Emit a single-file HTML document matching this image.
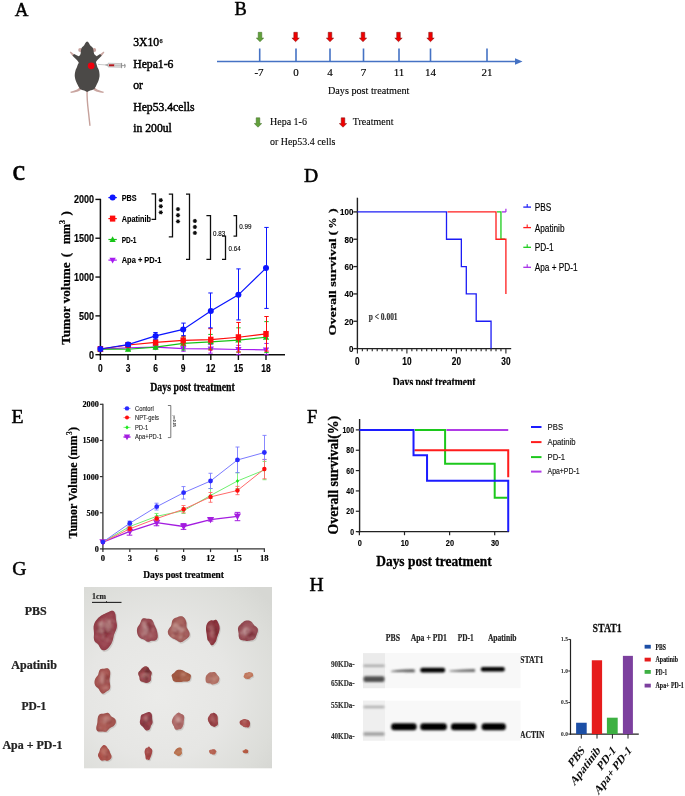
<!DOCTYPE html>
<html><head><meta charset="utf-8">
<style>
html,body{margin:0;padding:0;background:#fff;width:685px;height:796px;overflow:hidden;}
svg{display:block;position:absolute;left:0;top:0;}
</style></head><body>
<svg width="685" height="796" viewBox="0 0 685 796">
<defs><filter id="soft" x="0" y="0" width="100%" height="100%" filterUnits="userSpaceOnUse"><feGaussianBlur stdDeviation="0.4"/></filter></defs>
<g filter="url(#soft)">
<rect x="0" y="0" width="685" height="796" fill="#fff"/>
<text transform="translate(14.70,15.80)" text-anchor="start" style="font-family:'Liberation Serif',serif;font-weight:normal;font-style:normal;font-size:19px" fill="#000"  stroke="#000" stroke-width="0.45">A</text>
<g id="mouse">
<path d="M87.1 91 C86.8 100 88 108 88.7 114 C89.2 119 89.6 122 89.9 125.2" stroke="#c6a19b" stroke-width="1.4" fill="none" stroke-linecap="round"/>
<circle cx="80.2" cy="50" r="2" fill="#c9a5a0"/>
<circle cx="94.2" cy="50" r="2" fill="#c9a5a0"/>
<path d="M80 87.3 L77 89.4 L73 90.9 L70.4 91.8 L70.8 93.1 L74 92.6 L78 91.4 L80.8 90 Z" fill="#c9a5a0"/>
<path d="M94.2 87.3 L97.2 89.4 L101.2 90.9 L103.8 91.8 L103.4 93.1 L100.2 92.6 L96.2 91.4 L93.4 90 Z" fill="#c9a5a0"/>
<path d="M74.4 54.6 L71.6 52.2 L70.2 51.4 L69.9 52.6 L71 54 L72.8 56.2 Z" fill="#c9a5a0"/>
<path d="M99.8 54.6 L102.6 52.2 L104 51.4 L104.3 52.6 L103.2 54 L101.4 56.2 Z" fill="#c9a5a0"/>
<path d="M87.1 41.5 C88.5 42 89.5 44 90.1 45.3 C91.5 46.5 93 47.5 93.3 49.5 C93.8 51.5 93.8 52.8 94.1 53.7 C95 55 96 55.8 96.6 56.2 L100.1 54.1 L101.7 55.8 L97.4 59.9 C96.5 61 95.9 61.8 95.9 62.1 C96.5 64 97 65.5 97.4 67.2 C98.5 69 99.2 70.5 99.3 72.3 C99.6 74 99.6 75.5 99.5 76.6 C99.2 78.5 98.8 80 98.4 81 C97.8 82.5 97.2 83.8 96.6 84.7 C96 86 95.5 87 95.2 87.6 L94.4 89 C93 89.8 91.5 90.2 90.1 90.5 C89 91 88 91.5 87.1 92 C86.2 91.5 85.2 91 84.2 90.5 C82.8 90.2 81.3 89.8 79.9 89 L79.1 87.6 C78.7 87 78.3 86 77.6 84.7 C77 83.8 76.4 82.5 75.9 81 C75.4 80 75 78.5 74.8 76.6 C74.7 75.5 74.7 74 75.1 72.3 C75.3 70.5 75.9 69 76.9 67.2 C77.4 65.5 78 64 78.8 62.8 C78.5 62 77.8 61 76.9 59.9 L72.5 55.8 L74.1 54.1 L78.6 56.2 C79.8 55.5 80.3 54.8 80.6 53.7 C80.8 52.8 80.8 51.5 81.1 49.5 C81.5 47.5 83 46.5 84.2 45.3 C84.8 44 85.8 42 87.1 41.5 Z" fill="#4c4946"/>
<circle cx="91.2" cy="65.8" r="3.4" fill="#ee0010"/>
<line x1="98" y1="64.4" x2="105.5" y2="64.9" stroke="#888" stroke-width="0.45"/>
<path d="M105.3 64.3 L108.2 63.9 L108.2 66.3 L105.3 65.6 Z" fill="#aaa"/>
<path d="M108.1 63.2 L121.2 63.6 L121.2 67.3 L108.1 67 Z" fill="#e6e6e6" stroke="#9a9a9a" stroke-width="0.5"/>
<rect x="108.9" y="64.3" width="5.5" height="2" fill="#b3171c"/>
<rect x="114.4" y="64.6" width="6.6" height="1.7" fill="#c4c4c4"/>
<line x1="121.6" y1="62.9" x2="121.6" y2="68.2" stroke="#777" stroke-width="0.8"/>
<line x1="121.6" y1="65.6" x2="125" y2="65.6" stroke="#888" stroke-width="0.8"/>
<path d="M124.6 63.9 Q125.8 65.8 124.6 67.8" stroke="#777" stroke-width="0.9" fill="none"/>
</g>
<text transform="translate(133.20,45.90)" text-anchor="start" style="font-family:'Liberation Serif',serif;font-weight:normal;font-style:normal;font-size:11.7px" fill="#000"  stroke="#000" stroke-width="0.45">3X10</text>
<text transform="translate(159.50,43.00)" text-anchor="start" style="font-family:'Liberation Serif',serif;font-weight:normal;font-style:normal;font-size:6.2px" fill="#000"  stroke="#000" stroke-width="0.25">6</text>
<text transform="translate(133.20,67.80)" text-anchor="start" style="font-family:'Liberation Serif',serif;font-weight:normal;font-style:normal;font-size:11.7px" fill="#000"  stroke="#000" stroke-width="0.45">Hepa1-6</text>
<text transform="translate(133.20,89.30)" text-anchor="start" style="font-family:'Liberation Serif',serif;font-weight:normal;font-style:normal;font-size:11.7px" fill="#000"  stroke="#000" stroke-width="0.45">or</text>
<text transform="translate(133.20,110.70)" text-anchor="start" style="font-family:'Liberation Serif',serif;font-weight:normal;font-style:normal;font-size:11.7px" fill="#000"  stroke="#000" stroke-width="0.45">Hep53.4cells</text>
<text transform="translate(133.20,132.20)" text-anchor="start" style="font-family:'Liberation Serif',serif;font-weight:normal;font-style:normal;font-size:11.7px" fill="#000"  stroke="#000" stroke-width="0.45">in 200ul</text>
<text transform="translate(234.50,14.90)" text-anchor="start" style="font-family:'Liberation Serif',serif;font-weight:normal;font-style:normal;font-size:18.4px" fill="#000"  stroke="#000" stroke-width="0.45">B</text>
<line x1="217.00" y1="61.50" x2="517.00" y2="61.50" stroke="#4472c4" stroke-width="1.7" />
<line x1="259.70" y1="48.50" x2="259.70" y2="61.50" stroke="#4472c4" stroke-width="1.6" />
<line x1="296.00" y1="48.50" x2="296.00" y2="61.50" stroke="#4472c4" stroke-width="1.6" />
<line x1="330.00" y1="48.50" x2="330.00" y2="61.50" stroke="#4472c4" stroke-width="1.6" />
<line x1="363.50" y1="48.50" x2="363.50" y2="61.50" stroke="#4472c4" stroke-width="1.6" />
<line x1="399.00" y1="48.50" x2="399.00" y2="61.50" stroke="#4472c4" stroke-width="1.6" />
<line x1="430.50" y1="48.50" x2="430.50" y2="61.50" stroke="#4472c4" stroke-width="1.6" />
<line x1="487.00" y1="48.50" x2="487.00" y2="61.50" stroke="#4472c4" stroke-width="1.6" />
<path d="M515 58.2 L522.5 61.5 L515 64.8 Z" fill="#4472c4"/>
<path transform="translate(260,32.3)" d="M-1.8 0 L1.8 0 L1.8 5.8 L3.7 5.8 L0 9.4 L-3.7 5.8 L-1.8 5.8 Z" fill="#62a03a" stroke="#3d6b24" stroke-width="0.5"/>
<path transform="translate(295.6,32.3)" d="M-1.8 0 L1.8 0 L1.8 5.8 L3.7 5.8 L0 9.4 L-3.7 5.8 L-1.8 5.8 Z" fill="#f00000" stroke="#7a1010" stroke-width="0.5"/>
<path transform="translate(330,32.3)" d="M-1.8 0 L1.8 0 L1.8 5.8 L3.7 5.8 L0 9.4 L-3.7 5.8 L-1.8 5.8 Z" fill="#f00000" stroke="#7a1010" stroke-width="0.5"/>
<path transform="translate(363,32.3)" d="M-1.8 0 L1.8 0 L1.8 5.8 L3.7 5.8 L0 9.4 L-3.7 5.8 L-1.8 5.8 Z" fill="#f00000" stroke="#7a1010" stroke-width="0.5"/>
<path transform="translate(398.5,32.3)" d="M-1.8 0 L1.8 0 L1.8 5.8 L3.7 5.8 L0 9.4 L-3.7 5.8 L-1.8 5.8 Z" fill="#f00000" stroke="#7a1010" stroke-width="0.5"/>
<path transform="translate(430.5,32.3)" d="M-1.8 0 L1.8 0 L1.8 5.8 L3.7 5.8 L0 9.4 L-3.7 5.8 L-1.8 5.8 Z" fill="#f00000" stroke="#7a1010" stroke-width="0.5"/>
<text transform="translate(259.00,75.70)" text-anchor="middle" style="font-family:'Liberation Serif',serif;font-weight:normal;font-style:normal;font-size:11px" fill="#000"  stroke="#000" stroke-width="0.15">-7</text>
<text transform="translate(296.00,75.70)" text-anchor="middle" style="font-family:'Liberation Serif',serif;font-weight:normal;font-style:normal;font-size:11px" fill="#000"  stroke="#000" stroke-width="0.15">0</text>
<text transform="translate(330.00,75.70)" text-anchor="middle" style="font-family:'Liberation Serif',serif;font-weight:normal;font-style:normal;font-size:11px" fill="#000"  stroke="#000" stroke-width="0.15">4</text>
<text transform="translate(363.50,75.70)" text-anchor="middle" style="font-family:'Liberation Serif',serif;font-weight:normal;font-style:normal;font-size:11px" fill="#000"  stroke="#000" stroke-width="0.15">7</text>
<text transform="translate(399.00,75.70)" text-anchor="middle" style="font-family:'Liberation Serif',serif;font-weight:normal;font-style:normal;font-size:11px" fill="#000"  stroke="#000" stroke-width="0.15">11</text>
<text transform="translate(430.50,75.70)" text-anchor="middle" style="font-family:'Liberation Serif',serif;font-weight:normal;font-style:normal;font-size:11px" fill="#000"  stroke="#000" stroke-width="0.15">14</text>
<text transform="translate(487.00,75.70)" text-anchor="middle" style="font-family:'Liberation Serif',serif;font-weight:normal;font-style:normal;font-size:11px" fill="#000"  stroke="#000" stroke-width="0.15">21</text>
<text transform="translate(328.00,94.00) scale(0.9693,1.0000)" text-anchor="start" style="font-family:'Liberation Serif',serif;font-weight:normal;font-style:normal;font-size:10.5px" fill="#000"  stroke="#000" stroke-width="0.12">Days post treatment</text>
<path transform="translate(258,117.8)" d="M-1.8 0 L1.8 0 L1.8 5.8 L3.7 5.8 L0 9.4 L-3.7 5.8 L-1.8 5.8 Z" fill="#62a03a" stroke="#3d6b24" stroke-width="0.5"/>
<path transform="translate(343,117.8)" d="M-1.8 0 L1.8 0 L1.8 5.8 L3.7 5.8 L0 9.4 L-3.7 5.8 L-1.8 5.8 Z" fill="#f00000" stroke="#7a1010" stroke-width="0.5"/>
<text transform="translate(270.00,125.30) scale(0.9542,1.0000)" text-anchor="start" style="font-family:'Liberation Serif',serif;font-weight:normal;font-style:normal;font-size:10.5px" fill="#000"  stroke="#000" stroke-width="0.1">Hepa 1-6</text>
<text transform="translate(352.80,125.30) scale(0.9515,1.0000)" text-anchor="start" style="font-family:'Liberation Serif',serif;font-weight:normal;font-style:normal;font-size:10.5px" fill="#000"  stroke="#000" stroke-width="0.1">Treatment</text>
<text transform="translate(270.00,144.70) scale(0.9478,1.0000)" text-anchor="start" style="font-family:'Liberation Serif',serif;font-weight:normal;font-style:normal;font-size:10.5px" fill="#000"  stroke="#000" stroke-width="0.1">or Hep53.4 cells</text>
<text transform="translate(12.40,179.50)" text-anchor="start" style="font-family:'Liberation Serif',serif;font-weight:normal;font-style:normal;font-size:28.5px" fill="#000"  stroke="#000" stroke-width="0.6">c</text>
<line x1="100.40" y1="198.80" x2="100.40" y2="355.40" stroke="#111" stroke-width="1.5" />
<line x1="99.70" y1="354.70" x2="285.00" y2="354.70" stroke="#111" stroke-width="1.5" />
<line x1="95.40" y1="354.70" x2="100.40" y2="354.70" stroke="#111" stroke-width="1.4" />
<text transform="translate(94.10,358.70) scale(0.8481,1.0000)" text-anchor="end" style="font-family:'Liberation Sans',sans-serif;font-weight:bold;font-style:normal;font-size:10.6px" fill="#000"  stroke="#000" stroke-width="0.159">0</text>
<line x1="95.40" y1="315.88" x2="100.40" y2="315.88" stroke="#111" stroke-width="1.4" />
<text transform="translate(94.10,319.88) scale(0.8481,1.0000)" text-anchor="end" style="font-family:'Liberation Sans',sans-serif;font-weight:bold;font-style:normal;font-size:10.6px" fill="#000"  stroke="#000" stroke-width="0.159">500</text>
<line x1="95.40" y1="277.05" x2="100.40" y2="277.05" stroke="#111" stroke-width="1.4" />
<text transform="translate(94.10,281.05) scale(0.8481,1.0000)" text-anchor="end" style="font-family:'Liberation Sans',sans-serif;font-weight:bold;font-style:normal;font-size:10.6px" fill="#000"  stroke="#000" stroke-width="0.159">1000</text>
<line x1="95.40" y1="238.22" x2="100.40" y2="238.22" stroke="#111" stroke-width="1.4" />
<text transform="translate(94.10,242.22) scale(0.8481,1.0000)" text-anchor="end" style="font-family:'Liberation Sans',sans-serif;font-weight:bold;font-style:normal;font-size:10.6px" fill="#000"  stroke="#000" stroke-width="0.159">1500</text>
<line x1="95.40" y1="199.40" x2="100.40" y2="199.40" stroke="#111" stroke-width="1.4" />
<text transform="translate(94.10,203.40) scale(0.8481,1.0000)" text-anchor="end" style="font-family:'Liberation Sans',sans-serif;font-weight:bold;font-style:normal;font-size:10.6px" fill="#000"  stroke="#000" stroke-width="0.159">2000</text>
<line x1="100.40" y1="354.70" x2="100.40" y2="360.00" stroke="#111" stroke-width="1.4" />
<text transform="translate(100.40,372.30) scale(0.8285,1.0000)" text-anchor="middle" style="font-family:'Liberation Sans',sans-serif;font-weight:bold;font-style:normal;font-size:10.2px" fill="#000"  stroke="#000" stroke-width="0.153">0</text>
<line x1="128.00" y1="354.70" x2="128.00" y2="360.00" stroke="#111" stroke-width="1.4" />
<text transform="translate(128.00,372.30) scale(0.8285,1.0000)" text-anchor="middle" style="font-family:'Liberation Sans',sans-serif;font-weight:bold;font-style:normal;font-size:10.2px" fill="#000"  stroke="#000" stroke-width="0.153">3</text>
<line x1="155.60" y1="354.70" x2="155.60" y2="360.00" stroke="#111" stroke-width="1.4" />
<text transform="translate(155.60,372.30) scale(0.8285,1.0000)" text-anchor="middle" style="font-family:'Liberation Sans',sans-serif;font-weight:bold;font-style:normal;font-size:10.2px" fill="#000"  stroke="#000" stroke-width="0.153">6</text>
<line x1="183.20" y1="354.70" x2="183.20" y2="360.00" stroke="#111" stroke-width="1.4" />
<text transform="translate(183.20,372.30) scale(0.8285,1.0000)" text-anchor="middle" style="font-family:'Liberation Sans',sans-serif;font-weight:bold;font-style:normal;font-size:10.2px" fill="#000"  stroke="#000" stroke-width="0.153">9</text>
<line x1="210.80" y1="354.70" x2="210.80" y2="360.00" stroke="#111" stroke-width="1.4" />
<text transform="translate(210.80,372.30) scale(0.8285,1.0000)" text-anchor="middle" style="font-family:'Liberation Sans',sans-serif;font-weight:bold;font-style:normal;font-size:10.2px" fill="#000"  stroke="#000" stroke-width="0.153">12</text>
<line x1="238.40" y1="354.70" x2="238.40" y2="360.00" stroke="#111" stroke-width="1.4" />
<text transform="translate(238.40,372.30) scale(0.8285,1.0000)" text-anchor="middle" style="font-family:'Liberation Sans',sans-serif;font-weight:bold;font-style:normal;font-size:10.2px" fill="#000"  stroke="#000" stroke-width="0.153">15</text>
<line x1="266.00" y1="354.70" x2="266.00" y2="360.00" stroke="#111" stroke-width="1.4" />
<text transform="translate(266.00,372.30) scale(0.8285,1.0000)" text-anchor="middle" style="font-family:'Liberation Sans',sans-serif;font-weight:bold;font-style:normal;font-size:10.2px" fill="#000"  stroke="#000" stroke-width="0.153">18</text>
<text transform="translate(150.20,391.30) scale(0.7584,1.0000)" text-anchor="start" style="font-family:'Liberation Serif',serif;font-weight:bold;font-style:normal;font-size:13px" fill="#000"  stroke="#000" stroke-width="0.26">Days post treatment</text>
<text transform="translate(70.20,344.70) rotate(-90) scale(1.0140,1.0000)" text-anchor="start" style="font-family:'Liberation Serif',serif;font-weight:bold;font-style:normal;font-size:13px" fill="#000"  stroke="#000" stroke-width="0.26">Tumor volume</text>
<text transform="translate(70.20,257.20) rotate(-90)" text-anchor="start" style="font-family:'Liberation Serif',serif;font-weight:bold;font-style:normal;font-size:13px" fill="#000"  stroke="#000" stroke-width="0.26">(</text>
<text transform="translate(70.20,244.00) rotate(-90) scale(0.9234,1.0000)" text-anchor="start" style="font-family:'Liberation Serif',serif;font-weight:bold;font-style:normal;font-size:13px" fill="#000"  stroke="#000" stroke-width="0.26">mm</text>
<text transform="translate(64.50,224.20) rotate(-90)" text-anchor="start" style="font-family:'Liberation Serif',serif;font-weight:bold;font-style:normal;font-size:8.5px" fill="#000"  stroke="#000" stroke-width="0.17">3</text>
<text transform="translate(70.20,215.40) rotate(-90)" text-anchor="start" style="font-family:'Liberation Serif',serif;font-weight:bold;font-style:normal;font-size:13px" fill="#000"  stroke="#000" stroke-width="0.26">)</text>
<line x1="100.50" y1="350.82" x2="100.50" y2="347.32" stroke="#a61cf0" stroke-width="1.0" />
<line x1="98.30" y1="347.32" x2="102.70" y2="347.32" stroke="#a61cf0" stroke-width="1.0" />
<line x1="98.30" y1="350.82" x2="102.70" y2="350.82" stroke="#a61cf0" stroke-width="1.0" />
<line x1="128.50" y1="349.26" x2="128.50" y2="346.55" stroke="#a61cf0" stroke-width="1.0" />
<line x1="126.30" y1="346.55" x2="130.70" y2="346.55" stroke="#a61cf0" stroke-width="1.0" />
<line x1="126.30" y1="349.26" x2="130.70" y2="349.26" stroke="#a61cf0" stroke-width="1.0" />
<line x1="155.50" y1="348.88" x2="155.50" y2="345.38" stroke="#a61cf0" stroke-width="1.0" />
<line x1="153.30" y1="345.38" x2="157.70" y2="345.38" stroke="#a61cf0" stroke-width="1.0" />
<line x1="153.30" y1="348.88" x2="157.70" y2="348.88" stroke="#a61cf0" stroke-width="1.0" />
<line x1="183.50" y1="351.21" x2="183.50" y2="346.16" stroke="#a61cf0" stroke-width="1.0" />
<line x1="181.30" y1="346.16" x2="185.70" y2="346.16" stroke="#a61cf0" stroke-width="1.0" />
<line x1="181.30" y1="351.21" x2="185.70" y2="351.21" stroke="#a61cf0" stroke-width="1.0" />
<line x1="210.50" y1="353.15" x2="210.50" y2="344.61" stroke="#a61cf0" stroke-width="1.0" />
<line x1="208.30" y1="344.61" x2="212.70" y2="344.61" stroke="#a61cf0" stroke-width="1.0" />
<line x1="208.30" y1="353.15" x2="212.70" y2="353.15" stroke="#a61cf0" stroke-width="1.0" />
<line x1="238.50" y1="354.70" x2="238.50" y2="345.30" stroke="#a61cf0" stroke-width="1.0" />
<line x1="236.30" y1="345.30" x2="240.70" y2="345.30" stroke="#a61cf0" stroke-width="1.0" />
<line x1="236.30" y1="354.70" x2="240.70" y2="354.70" stroke="#a61cf0" stroke-width="1.0" />
<line x1="266.50" y1="354.70" x2="266.50" y2="343.44" stroke="#a61cf0" stroke-width="1.0" />
<line x1="264.30" y1="343.44" x2="268.70" y2="343.44" stroke="#a61cf0" stroke-width="1.0" />
<line x1="264.30" y1="354.70" x2="268.70" y2="354.70" stroke="#a61cf0" stroke-width="1.0" />
<polyline points="100.40,349.03 128.00,347.87 155.60,347.09 183.20,348.72 210.80,348.88 238.40,349.50 266.00,349.81" stroke="#a61cf0" stroke-width="1.2" fill="none" />
<path d="M100.40 352.33 L103.55 346.63 L97.25 346.63 Z" fill="#a61cf0"/>
<path d="M128.00 351.17 L131.15 345.47 L124.85 345.47 Z" fill="#a61cf0"/>
<path d="M155.60 350.39 L158.75 344.69 L152.45 344.69 Z" fill="#a61cf0"/>
<path d="M183.20 352.02 L186.35 346.32 L180.05 346.32 Z" fill="#a61cf0"/>
<path d="M210.80 352.18 L213.95 346.48 L207.65 346.48 Z" fill="#a61cf0"/>
<path d="M238.40 352.80 L241.55 347.10 L235.25 347.10 Z" fill="#a61cf0"/>
<path d="M266.00 353.11 L269.15 347.41 L262.85 347.41 Z" fill="#a61cf0"/>
<line x1="100.50" y1="350.82" x2="100.50" y2="347.32" stroke="#19c419" stroke-width="1.0" />
<line x1="98.30" y1="347.32" x2="102.70" y2="347.32" stroke="#19c419" stroke-width="1.0" />
<line x1="98.30" y1="350.82" x2="102.70" y2="350.82" stroke="#19c419" stroke-width="1.0" />
<line x1="128.50" y1="350.82" x2="128.50" y2="347.71" stroke="#19c419" stroke-width="1.0" />
<line x1="126.30" y1="347.71" x2="130.70" y2="347.71" stroke="#19c419" stroke-width="1.0" />
<line x1="126.30" y1="350.82" x2="130.70" y2="350.82" stroke="#19c419" stroke-width="1.0" />
<line x1="155.50" y1="349.26" x2="155.50" y2="344.99" stroke="#19c419" stroke-width="1.0" />
<line x1="153.30" y1="344.99" x2="157.70" y2="344.99" stroke="#19c419" stroke-width="1.0" />
<line x1="153.30" y1="349.26" x2="157.70" y2="349.26" stroke="#19c419" stroke-width="1.0" />
<line x1="183.50" y1="350.04" x2="183.50" y2="336.84" stroke="#19c419" stroke-width="1.0" />
<line x1="181.30" y1="336.84" x2="185.70" y2="336.84" stroke="#19c419" stroke-width="1.0" />
<line x1="181.30" y1="350.04" x2="185.70" y2="350.04" stroke="#19c419" stroke-width="1.0" />
<line x1="210.50" y1="349.11" x2="210.50" y2="334.43" stroke="#19c419" stroke-width="1.0" />
<line x1="208.30" y1="334.43" x2="212.70" y2="334.43" stroke="#19c419" stroke-width="1.0" />
<line x1="208.30" y1="349.11" x2="212.70" y2="349.11" stroke="#19c419" stroke-width="1.0" />
<line x1="238.50" y1="352.14" x2="238.50" y2="327.83" stroke="#19c419" stroke-width="1.0" />
<line x1="236.30" y1="327.83" x2="240.70" y2="327.83" stroke="#19c419" stroke-width="1.0" />
<line x1="236.30" y1="352.14" x2="240.70" y2="352.14" stroke="#19c419" stroke-width="1.0" />
<line x1="266.50" y1="352.60" x2="266.50" y2="321.62" stroke="#19c419" stroke-width="1.0" />
<line x1="264.30" y1="321.62" x2="268.70" y2="321.62" stroke="#19c419" stroke-width="1.0" />
<line x1="264.30" y1="352.60" x2="268.70" y2="352.60" stroke="#19c419" stroke-width="1.0" />
<polyline points="100.40,349.03 128.00,349.26 155.60,347.09 183.20,343.44 210.80,341.89 238.40,340.10 266.00,337.23" stroke="#19c419" stroke-width="1.2" fill="none" />
<path d="M100.40 345.73 L103.55 351.43 L97.25 351.43 Z" fill="#19c419"/>
<path d="M128.00 345.96 L131.15 351.66 L124.85 351.66 Z" fill="#19c419"/>
<path d="M155.60 343.79 L158.75 349.49 L152.45 349.49 Z" fill="#19c419"/>
<path d="M183.20 340.14 L186.35 345.84 L180.05 345.84 Z" fill="#19c419"/>
<path d="M210.80 338.59 L213.95 344.29 L207.65 344.29 Z" fill="#19c419"/>
<path d="M238.40 336.80 L241.55 342.50 L235.25 342.50 Z" fill="#19c419"/>
<path d="M266.00 333.93 L269.15 339.63 L262.85 339.63 Z" fill="#19c419"/>
<line x1="100.50" y1="350.82" x2="100.50" y2="347.32" stroke="#ff0a0a" stroke-width="1.0" />
<line x1="98.30" y1="347.32" x2="102.70" y2="347.32" stroke="#ff0a0a" stroke-width="1.0" />
<line x1="98.30" y1="350.82" x2="102.70" y2="350.82" stroke="#ff0a0a" stroke-width="1.0" />
<line x1="128.50" y1="346.94" x2="128.50" y2="343.05" stroke="#ff0a0a" stroke-width="1.0" />
<line x1="126.30" y1="343.05" x2="130.70" y2="343.05" stroke="#ff0a0a" stroke-width="1.0" />
<line x1="126.30" y1="346.94" x2="130.70" y2="346.94" stroke="#ff0a0a" stroke-width="1.0" />
<line x1="155.50" y1="344.76" x2="155.50" y2="340.10" stroke="#ff0a0a" stroke-width="1.0" />
<line x1="153.30" y1="340.10" x2="157.70" y2="340.10" stroke="#ff0a0a" stroke-width="1.0" />
<line x1="153.30" y1="344.76" x2="157.70" y2="344.76" stroke="#ff0a0a" stroke-width="1.0" />
<line x1="183.50" y1="345.07" x2="183.50" y2="336.06" stroke="#ff0a0a" stroke-width="1.0" />
<line x1="181.30" y1="336.06" x2="185.70" y2="336.06" stroke="#ff0a0a" stroke-width="1.0" />
<line x1="181.30" y1="345.07" x2="185.70" y2="345.07" stroke="#ff0a0a" stroke-width="1.0" />
<line x1="210.50" y1="350.04" x2="210.50" y2="328.69" stroke="#ff0a0a" stroke-width="1.0" />
<line x1="208.30" y1="328.69" x2="212.70" y2="328.69" stroke="#ff0a0a" stroke-width="1.0" />
<line x1="208.30" y1="350.04" x2="212.70" y2="350.04" stroke="#ff0a0a" stroke-width="1.0" />
<line x1="238.50" y1="351.98" x2="238.50" y2="322.48" stroke="#ff0a0a" stroke-width="1.0" />
<line x1="236.30" y1="322.48" x2="240.70" y2="322.48" stroke="#ff0a0a" stroke-width="1.0" />
<line x1="236.30" y1="351.98" x2="240.70" y2="351.98" stroke="#ff0a0a" stroke-width="1.0" />
<line x1="266.50" y1="351.13" x2="266.50" y2="316.50" stroke="#ff0a0a" stroke-width="1.0" />
<line x1="264.30" y1="316.50" x2="268.70" y2="316.50" stroke="#ff0a0a" stroke-width="1.0" />
<line x1="264.30" y1="351.13" x2="268.70" y2="351.13" stroke="#ff0a0a" stroke-width="1.0" />
<polyline points="100.40,349.03 128.00,344.99 155.60,342.43 183.20,340.41 210.80,339.71 238.40,337.23 266.00,333.97" stroke="#ff0a0a" stroke-width="1.2" fill="none" />
<rect x="97.70" y="346.03" width="5.40" height="6.00" fill="#ff0a0a"/>
<rect x="125.30" y="341.99" width="5.40" height="6.00" fill="#ff0a0a"/>
<rect x="152.90" y="339.43" width="5.40" height="6.00" fill="#ff0a0a"/>
<rect x="180.50" y="337.41" width="5.40" height="6.00" fill="#ff0a0a"/>
<rect x="208.10" y="336.71" width="5.40" height="6.00" fill="#ff0a0a"/>
<rect x="235.70" y="334.23" width="5.40" height="6.00" fill="#ff0a0a"/>
<rect x="263.30" y="330.97" width="5.40" height="6.00" fill="#ff0a0a"/>
<line x1="100.50" y1="350.82" x2="100.50" y2="347.32" stroke="#0a14ff" stroke-width="1.0" />
<line x1="98.30" y1="347.32" x2="102.70" y2="347.32" stroke="#0a14ff" stroke-width="1.0" />
<line x1="98.30" y1="350.82" x2="102.70" y2="350.82" stroke="#0a14ff" stroke-width="1.0" />
<line x1="128.50" y1="346.16" x2="128.50" y2="343.05" stroke="#0a14ff" stroke-width="1.0" />
<line x1="126.30" y1="343.05" x2="130.70" y2="343.05" stroke="#0a14ff" stroke-width="1.0" />
<line x1="126.30" y1="346.16" x2="130.70" y2="346.16" stroke="#0a14ff" stroke-width="1.0" />
<line x1="155.50" y1="339.17" x2="155.50" y2="332.49" stroke="#0a14ff" stroke-width="1.0" />
<line x1="153.30" y1="332.49" x2="157.70" y2="332.49" stroke="#0a14ff" stroke-width="1.0" />
<line x1="153.30" y1="339.17" x2="157.70" y2="339.17" stroke="#0a14ff" stroke-width="1.0" />
<line x1="183.50" y1="335.68" x2="183.50" y2="323.10" stroke="#0a14ff" stroke-width="1.0" />
<line x1="181.30" y1="323.10" x2="185.70" y2="323.10" stroke="#0a14ff" stroke-width="1.0" />
<line x1="181.30" y1="335.68" x2="185.70" y2="335.68" stroke="#0a14ff" stroke-width="1.0" />
<line x1="210.50" y1="327.83" x2="210.50" y2="292.97" stroke="#0a14ff" stroke-width="1.0" />
<line x1="208.30" y1="292.97" x2="212.70" y2="292.97" stroke="#0a14ff" stroke-width="1.0" />
<line x1="208.30" y1="327.83" x2="212.70" y2="327.83" stroke="#0a14ff" stroke-width="1.0" />
<line x1="238.50" y1="319.91" x2="238.50" y2="268.90" stroke="#0a14ff" stroke-width="1.0" />
<line x1="236.30" y1="268.90" x2="240.70" y2="268.90" stroke="#0a14ff" stroke-width="1.0" />
<line x1="236.30" y1="319.91" x2="240.70" y2="319.91" stroke="#0a14ff" stroke-width="1.0" />
<line x1="266.50" y1="308.42" x2="266.50" y2="227.43" stroke="#0a14ff" stroke-width="1.0" />
<line x1="264.30" y1="227.43" x2="268.70" y2="227.43" stroke="#0a14ff" stroke-width="1.0" />
<line x1="264.30" y1="308.42" x2="268.70" y2="308.42" stroke="#0a14ff" stroke-width="1.0" />
<polyline points="100.40,349.03 128.00,344.61 155.60,335.91 183.20,329.39 210.80,310.91 238.40,294.83 266.00,268.12" stroke="#0a14ff" stroke-width="1.2" fill="none" />
<circle cx="100.40" cy="349.03" r="3.00" fill="#0a14ff"/>
<circle cx="128.00" cy="344.61" r="3.00" fill="#0a14ff"/>
<circle cx="155.60" cy="335.91" r="3.00" fill="#0a14ff"/>
<circle cx="183.20" cy="329.39" r="3.00" fill="#0a14ff"/>
<circle cx="210.80" cy="310.91" r="3.00" fill="#0a14ff"/>
<circle cx="238.40" cy="294.83" r="3.00" fill="#0a14ff"/>
<circle cx="266.00" cy="268.12" r="3.00" fill="#0a14ff"/>
<line x1="108.40" y1="197.60" x2="116.80" y2="197.60" stroke="#0a14ff" stroke-width="1.2" />
<circle cx="112.60" cy="197.60" r="3.00" fill="#0a14ff"/>
<line x1="108.40" y1="218.60" x2="116.80" y2="218.60" stroke="#ff0a0a" stroke-width="1.2" />
<rect x="109.90" y="215.60" width="5.40" height="6.00" fill="#ff0a0a"/>
<line x1="108.40" y1="239.50" x2="116.80" y2="239.50" stroke="#19c419" stroke-width="1.2" />
<path d="M112.60 236.20 L115.75 241.90 L109.45 241.90 Z" fill="#19c419"/>
<line x1="108.40" y1="260.10" x2="116.80" y2="260.10" stroke="#a61cf0" stroke-width="1.2" />
<path d="M112.60 263.40 L115.75 257.70 L109.45 257.70 Z" fill="#a61cf0"/>
<text transform="translate(121.70,200.60) scale(0.8426,1.0000)" text-anchor="start" style="font-family:'Liberation Sans',sans-serif;font-weight:bold;font-style:normal;font-size:8.6px" fill="#000"  stroke="#000" stroke-width="0.129">PBS</text>
<text transform="translate(121.70,221.60) scale(0.8489,1.0000)" text-anchor="start" style="font-family:'Liberation Sans',sans-serif;font-weight:bold;font-style:normal;font-size:8.6px" fill="#000"  stroke="#000" stroke-width="0.129">Apatinib</text>
<text transform="translate(121.70,242.50) scale(0.7553,1.0000)" text-anchor="start" style="font-family:'Liberation Sans',sans-serif;font-weight:bold;font-style:normal;font-size:8.6px" fill="#000"  stroke="#000" stroke-width="0.129">PD-1</text>
<text transform="translate(121.70,263.00) scale(0.8698,1.0000)" text-anchor="start" style="font-family:'Liberation Sans',sans-serif;font-weight:bold;font-style:normal;font-size:8.6px" fill="#000"  stroke="#000" stroke-width="0.129">Apa + PD-1</text>
<polyline points="151.50,193.90 155.50,193.90 155.50,219.40 151.50,219.40" stroke="#111" stroke-width="1.3" fill="none" />
<polyline points="168.80,194.20 172.50,194.20 172.50,236.80 168.80,236.80" stroke="#111" stroke-width="1.3" fill="none" />
<polyline points="186.00,194.20 189.50,194.20 189.50,259.40 186.00,259.40" stroke="#111" stroke-width="1.3" fill="none" />
<polyline points="206.40,215.70 210.50,215.70 210.50,259.40 206.40,259.40" stroke="#111" stroke-width="1.3" fill="none" />
<polyline points="233.50,215.70 236.50,215.70 236.50,236.20 233.50,236.20" stroke="#111" stroke-width="1.3" fill="none" />
<polyline points="222.00,236.20 225.50,236.20 225.50,259.40 222.00,259.40" stroke="#111" stroke-width="1.3" fill="none" />
<circle cx="160.80" cy="200.20" r="1.7" fill="#111"/>
<line x1="158.60" y1="200.20" x2="163.00" y2="200.20" stroke="#111" stroke-width="0.9" transform="rotate(0 160.80 200.20)"/>
<line x1="158.60" y1="200.20" x2="163.00" y2="200.20" stroke="#111" stroke-width="0.9" transform="rotate(60 160.80 200.20)"/>
<line x1="158.60" y1="200.20" x2="163.00" y2="200.20" stroke="#111" stroke-width="0.9" transform="rotate(120 160.80 200.20)"/>
<circle cx="160.80" cy="206.30" r="1.7" fill="#111"/>
<line x1="158.60" y1="206.30" x2="163.00" y2="206.30" stroke="#111" stroke-width="0.9" transform="rotate(0 160.80 206.30)"/>
<line x1="158.60" y1="206.30" x2="163.00" y2="206.30" stroke="#111" stroke-width="0.9" transform="rotate(60 160.80 206.30)"/>
<line x1="158.60" y1="206.30" x2="163.00" y2="206.30" stroke="#111" stroke-width="0.9" transform="rotate(120 160.80 206.30)"/>
<circle cx="160.80" cy="212.40" r="1.7" fill="#111"/>
<line x1="158.60" y1="212.40" x2="163.00" y2="212.40" stroke="#111" stroke-width="0.9" transform="rotate(0 160.80 212.40)"/>
<line x1="158.60" y1="212.40" x2="163.00" y2="212.40" stroke="#111" stroke-width="0.9" transform="rotate(60 160.80 212.40)"/>
<line x1="158.60" y1="212.40" x2="163.00" y2="212.40" stroke="#111" stroke-width="0.9" transform="rotate(120 160.80 212.40)"/>
<circle cx="178.00" cy="209.08" r="1.7" fill="#111"/>
<line x1="175.80" y1="209.08" x2="180.20" y2="209.08" stroke="#111" stroke-width="0.9" transform="rotate(0 178.00 209.08)"/>
<line x1="175.80" y1="209.08" x2="180.20" y2="209.08" stroke="#111" stroke-width="0.9" transform="rotate(60 178.00 209.08)"/>
<line x1="175.80" y1="209.08" x2="180.20" y2="209.08" stroke="#111" stroke-width="0.9" transform="rotate(120 178.00 209.08)"/>
<circle cx="178.00" cy="215.25" r="1.7" fill="#111"/>
<line x1="175.80" y1="215.25" x2="180.20" y2="215.25" stroke="#111" stroke-width="0.9" transform="rotate(0 178.00 215.25)"/>
<line x1="175.80" y1="215.25" x2="180.20" y2="215.25" stroke="#111" stroke-width="0.9" transform="rotate(60 178.00 215.25)"/>
<line x1="175.80" y1="215.25" x2="180.20" y2="215.25" stroke="#111" stroke-width="0.9" transform="rotate(120 178.00 215.25)"/>
<circle cx="178.00" cy="221.42" r="1.7" fill="#111"/>
<line x1="175.80" y1="221.42" x2="180.20" y2="221.42" stroke="#111" stroke-width="0.9" transform="rotate(0 178.00 221.42)"/>
<line x1="175.80" y1="221.42" x2="180.20" y2="221.42" stroke="#111" stroke-width="0.9" transform="rotate(60 178.00 221.42)"/>
<line x1="175.80" y1="221.42" x2="180.20" y2="221.42" stroke="#111" stroke-width="0.9" transform="rotate(120 178.00 221.42)"/>
<circle cx="194.90" cy="220.98" r="1.7" fill="#111"/>
<line x1="192.70" y1="220.98" x2="197.10" y2="220.98" stroke="#111" stroke-width="0.9" transform="rotate(0 194.90 220.98)"/>
<line x1="192.70" y1="220.98" x2="197.10" y2="220.98" stroke="#111" stroke-width="0.9" transform="rotate(60 194.90 220.98)"/>
<line x1="192.70" y1="220.98" x2="197.10" y2="220.98" stroke="#111" stroke-width="0.9" transform="rotate(120 194.90 220.98)"/>
<circle cx="194.90" cy="226.95" r="1.7" fill="#111"/>
<line x1="192.70" y1="226.95" x2="197.10" y2="226.95" stroke="#111" stroke-width="0.9" transform="rotate(0 194.90 226.95)"/>
<line x1="192.70" y1="226.95" x2="197.10" y2="226.95" stroke="#111" stroke-width="0.9" transform="rotate(60 194.90 226.95)"/>
<line x1="192.70" y1="226.95" x2="197.10" y2="226.95" stroke="#111" stroke-width="0.9" transform="rotate(120 194.90 226.95)"/>
<circle cx="194.90" cy="232.92" r="1.7" fill="#111"/>
<line x1="192.70" y1="232.92" x2="197.10" y2="232.92" stroke="#111" stroke-width="0.9" transform="rotate(0 194.90 232.92)"/>
<line x1="192.70" y1="232.92" x2="197.10" y2="232.92" stroke="#111" stroke-width="0.9" transform="rotate(60 194.90 232.92)"/>
<line x1="192.70" y1="232.92" x2="197.10" y2="232.92" stroke="#111" stroke-width="0.9" transform="rotate(120 194.90 232.92)"/>
<text transform="translate(213.00,236.00) scale(0.7934,1.0000)" text-anchor="start" style="font-family:'Liberation Sans',sans-serif;font-weight:normal;font-style:normal;font-size:7.9px" fill="#000"  stroke="#000" stroke-width="0.118">0.83</text>
<text transform="translate(239.30,228.80) scale(0.7999,1.0000)" text-anchor="start" style="font-family:'Liberation Sans',sans-serif;font-weight:normal;font-style:normal;font-size:7.9px" fill="#000"  stroke="#000" stroke-width="0.118">0.99</text>
<text transform="translate(228.60,251.00) scale(0.7804,1.0000)" text-anchor="start" style="font-family:'Liberation Sans',sans-serif;font-weight:normal;font-style:normal;font-size:7.9px" fill="#000"  stroke="#000" stroke-width="0.118">0.64</text>
<text transform="translate(304.00,182.00)" text-anchor="start" style="font-family:'Liberation Serif',serif;font-weight:normal;font-style:normal;font-size:19.6px" fill="#000"  stroke="#000" stroke-width="0.6">D</text>
<line x1="357.40" y1="197.70" x2="357.40" y2="349.30" stroke="#222" stroke-width="1.4" />
<line x1="356.70" y1="348.60" x2="511.20" y2="348.60" stroke="#222" stroke-width="1.4" />
<line x1="353.40" y1="348.60" x2="357.40" y2="348.60" stroke="#222" stroke-width="1.3" />
<text transform="translate(353.40,352.10) scale(0.8082,1.0000)" text-anchor="end" style="font-family:'Liberation Sans',sans-serif;font-weight:bold;font-style:normal;font-size:9.9px" fill="#000"  stroke="#000" stroke-width="0.148">0</text>
<line x1="353.40" y1="321.26" x2="357.40" y2="321.26" stroke="#222" stroke-width="1.3" />
<text transform="translate(353.40,324.76) scale(0.8082,1.0000)" text-anchor="end" style="font-family:'Liberation Sans',sans-serif;font-weight:bold;font-style:normal;font-size:9.9px" fill="#000"  stroke="#000" stroke-width="0.148">20</text>
<line x1="353.40" y1="293.92" x2="357.40" y2="293.92" stroke="#222" stroke-width="1.3" />
<text transform="translate(353.40,297.42) scale(0.8082,1.0000)" text-anchor="end" style="font-family:'Liberation Sans',sans-serif;font-weight:bold;font-style:normal;font-size:9.9px" fill="#000"  stroke="#000" stroke-width="0.148">40</text>
<line x1="353.40" y1="266.58" x2="357.40" y2="266.58" stroke="#222" stroke-width="1.3" />
<text transform="translate(353.40,270.08) scale(0.8082,1.0000)" text-anchor="end" style="font-family:'Liberation Sans',sans-serif;font-weight:bold;font-style:normal;font-size:9.9px" fill="#000"  stroke="#000" stroke-width="0.148">60</text>
<line x1="353.40" y1="239.24" x2="357.40" y2="239.24" stroke="#222" stroke-width="1.3" />
<text transform="translate(353.40,242.74) scale(0.8082,1.0000)" text-anchor="end" style="font-family:'Liberation Sans',sans-serif;font-weight:bold;font-style:normal;font-size:9.9px" fill="#000"  stroke="#000" stroke-width="0.148">80</text>
<line x1="353.40" y1="211.90" x2="357.40" y2="211.90" stroke="#222" stroke-width="1.3" />
<text transform="translate(353.40,215.40) scale(0.8082,1.0000)" text-anchor="end" style="font-family:'Liberation Sans',sans-serif;font-weight:bold;font-style:normal;font-size:9.9px" fill="#000"  stroke="#000" stroke-width="0.148">100</text>
<line x1="357.40" y1="348.60" x2="357.40" y2="353.60" stroke="#222" stroke-width="1.1" />
<line x1="362.35" y1="348.60" x2="362.35" y2="351.20" stroke="#222" stroke-width="1.1" />
<line x1="367.30" y1="348.60" x2="367.30" y2="351.20" stroke="#222" stroke-width="1.1" />
<line x1="372.25" y1="348.60" x2="372.25" y2="351.20" stroke="#222" stroke-width="1.1" />
<line x1="377.20" y1="348.60" x2="377.20" y2="351.20" stroke="#222" stroke-width="1.1" />
<line x1="382.15" y1="348.60" x2="382.15" y2="351.20" stroke="#222" stroke-width="1.1" />
<line x1="387.10" y1="348.60" x2="387.10" y2="351.20" stroke="#222" stroke-width="1.1" />
<line x1="392.05" y1="348.60" x2="392.05" y2="351.20" stroke="#222" stroke-width="1.1" />
<line x1="397.00" y1="348.60" x2="397.00" y2="351.20" stroke="#222" stroke-width="1.1" />
<line x1="401.95" y1="348.60" x2="401.95" y2="351.20" stroke="#222" stroke-width="1.1" />
<line x1="406.90" y1="348.60" x2="406.90" y2="353.60" stroke="#222" stroke-width="1.1" />
<line x1="411.85" y1="348.60" x2="411.85" y2="351.20" stroke="#222" stroke-width="1.1" />
<line x1="416.80" y1="348.60" x2="416.80" y2="351.20" stroke="#222" stroke-width="1.1" />
<line x1="421.75" y1="348.60" x2="421.75" y2="351.20" stroke="#222" stroke-width="1.1" />
<line x1="426.70" y1="348.60" x2="426.70" y2="351.20" stroke="#222" stroke-width="1.1" />
<line x1="431.65" y1="348.60" x2="431.65" y2="351.20" stroke="#222" stroke-width="1.1" />
<line x1="436.60" y1="348.60" x2="436.60" y2="351.20" stroke="#222" stroke-width="1.1" />
<line x1="441.55" y1="348.60" x2="441.55" y2="351.20" stroke="#222" stroke-width="1.1" />
<line x1="446.50" y1="348.60" x2="446.50" y2="351.20" stroke="#222" stroke-width="1.1" />
<line x1="451.45" y1="348.60" x2="451.45" y2="351.20" stroke="#222" stroke-width="1.1" />
<line x1="456.40" y1="348.60" x2="456.40" y2="353.60" stroke="#222" stroke-width="1.1" />
<line x1="461.35" y1="348.60" x2="461.35" y2="351.20" stroke="#222" stroke-width="1.1" />
<line x1="466.30" y1="348.60" x2="466.30" y2="351.20" stroke="#222" stroke-width="1.1" />
<line x1="471.25" y1="348.60" x2="471.25" y2="351.20" stroke="#222" stroke-width="1.1" />
<line x1="476.20" y1="348.60" x2="476.20" y2="351.20" stroke="#222" stroke-width="1.1" />
<line x1="481.15" y1="348.60" x2="481.15" y2="351.20" stroke="#222" stroke-width="1.1" />
<line x1="486.10" y1="348.60" x2="486.10" y2="351.20" stroke="#222" stroke-width="1.1" />
<line x1="491.05" y1="348.60" x2="491.05" y2="351.20" stroke="#222" stroke-width="1.1" />
<line x1="496.00" y1="348.60" x2="496.00" y2="351.20" stroke="#222" stroke-width="1.1" />
<line x1="500.95" y1="348.60" x2="500.95" y2="351.20" stroke="#222" stroke-width="1.1" />
<line x1="505.90" y1="348.60" x2="505.90" y2="353.60" stroke="#222" stroke-width="1.1" />
<text transform="translate(357.40,365.30) scale(0.8271,1.0000)" text-anchor="middle" style="font-family:'Liberation Sans',sans-serif;font-weight:bold;font-style:normal;font-size:10px" fill="#000"  stroke="#000" stroke-width="0.15">0</text>
<text transform="translate(406.90,365.30) scale(0.8271,1.0000)" text-anchor="middle" style="font-family:'Liberation Sans',sans-serif;font-weight:bold;font-style:normal;font-size:10px" fill="#000"  stroke="#000" stroke-width="0.15">10</text>
<text transform="translate(456.40,365.30) scale(0.8271,1.0000)" text-anchor="middle" style="font-family:'Liberation Sans',sans-serif;font-weight:bold;font-style:normal;font-size:10px" fill="#000"  stroke="#000" stroke-width="0.15">20</text>
<text transform="translate(505.90,365.30) scale(0.8271,1.0000)" text-anchor="middle" style="font-family:'Liberation Sans',sans-serif;font-weight:bold;font-style:normal;font-size:10px" fill="#000"  stroke="#000" stroke-width="0.15">30</text>
<clipPath id="clipD"><rect x="380" y="360" width="110" height="25"/></clipPath>
<g clip-path="url(#clipD)"><text transform="translate(392.80,386.00) scale(0.7710,1.0000)" text-anchor="start" style="font-family:'Liberation Serif',serif;font-weight:bold;font-style:normal;font-size:12.5px" fill="#000"  stroke="#000" stroke-width="0.25">Days post treatment</text>
</g>
<text transform="translate(336.30,335.50) rotate(-90) scale(1.0000,0.7500)" text-anchor="start" style="font-family:'Liberation Serif',serif;font-weight:bold;font-style:normal;font-size:14.07px" fill="#000"  stroke="#000" stroke-width="0.281">Overall survival</text>
<text transform="translate(336.30,235.50) rotate(-90) scale(1.0000,0.7500)" text-anchor="start" style="font-family:'Liberation Serif',serif;font-weight:bold;font-style:normal;font-size:14.07px" fill="#000"  stroke="#000" stroke-width="0.281">(</text>
<text transform="translate(336.30,228.50) rotate(-90) scale(0.7818,0.7500)" text-anchor="start" style="font-family:'Liberation Serif',serif;font-weight:bold;font-style:normal;font-size:14.07px" fill="#000"  stroke="#000" stroke-width="0.281">%</text>
<text transform="translate(336.30,213.00) rotate(-90) scale(1.0000,0.7500)" text-anchor="start" style="font-family:'Liberation Serif',serif;font-weight:bold;font-style:normal;font-size:14.07px" fill="#000"  stroke="#000" stroke-width="0.281">)</text>
<polyline points="501.94,211.90 505.90,211.90" stroke="#a52ee8" stroke-width="1.3" fill="none" />
<line x1="505.90" y1="211.90" x2="505.90" y2="208.70" stroke="#a52ee8" stroke-width="1.2" />
<polyline points="496.99,211.90 500.95,211.90 500.95,239.24 504.91,239.24" stroke="#1ccc1c" stroke-width="1.3" fill="none" />
<polyline points="447.49,211.90 496.00,211.90 496.00,239.24 505.90,239.24 505.90,293.92" stroke="#ff1c1c" stroke-width="1.3" fill="none" />
<polyline points="357.40,211.90 446.50,211.90 446.50,239.24 461.35,239.24 461.35,266.58 466.30,266.58 466.30,293.92 476.20,293.92 476.20,321.26 491.05,321.26 491.05,348.60" stroke="#1c1cf5" stroke-width="1.3" fill="none" />
<line x1="523.30" y1="207.10" x2="531.00" y2="207.10" stroke="#1c1cf5" stroke-width="1.3" />
<line x1="527.20" y1="207.10" x2="527.20" y2="204.10" stroke="#1c1cf5" stroke-width="1.1" />
<text transform="translate(534.70,211.10) scale(0.7520,1.0000)" text-anchor="start" style="font-family:'Liberation Sans',sans-serif;font-weight:normal;font-style:normal;font-size:11px" fill="#000"  stroke="#000" stroke-width="0.165">PBS</text>
<line x1="523.30" y1="227.60" x2="531.00" y2="227.60" stroke="#ff1c1c" stroke-width="1.3" />
<line x1="527.20" y1="227.60" x2="527.20" y2="224.60" stroke="#ff1c1c" stroke-width="1.1" />
<text transform="translate(534.70,231.60) scale(0.7520,1.0000)" text-anchor="start" style="font-family:'Liberation Sans',sans-serif;font-weight:normal;font-style:normal;font-size:11px" fill="#000"  stroke="#000" stroke-width="0.165">Apatinib</text>
<line x1="523.30" y1="247.30" x2="531.00" y2="247.30" stroke="#1ccc1c" stroke-width="1.3" />
<line x1="527.20" y1="247.30" x2="527.20" y2="244.30" stroke="#1ccc1c" stroke-width="1.1" />
<text transform="translate(534.70,251.30) scale(0.7520,1.0000)" text-anchor="start" style="font-family:'Liberation Sans',sans-serif;font-weight:normal;font-style:normal;font-size:11px" fill="#000"  stroke="#000" stroke-width="0.165">PD-1</text>
<line x1="523.30" y1="267.30" x2="531.00" y2="267.30" stroke="#a52ee8" stroke-width="1.3" />
<line x1="527.20" y1="267.30" x2="527.20" y2="264.30" stroke="#a52ee8" stroke-width="1.1" />
<text transform="translate(534.70,271.30) scale(0.7520,1.0000)" text-anchor="start" style="font-family:'Liberation Sans',sans-serif;font-weight:normal;font-style:normal;font-size:11px" fill="#000"  stroke="#000" stroke-width="0.165">Apa + PD-1</text>
<text transform="translate(368.80,319.60) scale(0.7214,1.0000)" text-anchor="start" style="font-family:'Liberation Serif',serif;font-weight:bold;font-style:normal;font-size:10.3px" fill="#333"  stroke="#333" stroke-width="0.206">p &lt; 0.001</text>
<text transform="translate(11.50,423.30)" text-anchor="start" style="font-family:'Liberation Serif',serif;font-weight:normal;font-style:normal;font-size:19.8px" fill="#000"  stroke="#000" stroke-width="0.45">E</text>
<line x1="102.90" y1="403.80" x2="102.90" y2="549.50" stroke="#333" stroke-width="1.3" />
<line x1="102.30" y1="548.90" x2="265.00" y2="548.90" stroke="#333" stroke-width="1.3" />
<line x1="99.90" y1="548.90" x2="102.90" y2="548.90" stroke="#333" stroke-width="1.2" />
<text transform="translate(98.90,551.90) scale(0.9535,1.0000)" text-anchor="end" style="font-family:'Liberation Serif',serif;font-weight:bold;font-style:normal;font-size:8.6px" fill="#000"  stroke="#000" stroke-width="0.172">0</text>
<line x1="99.90" y1="512.75" x2="102.90" y2="512.75" stroke="#333" stroke-width="1.2" />
<text transform="translate(98.90,515.75) scale(0.9535,1.0000)" text-anchor="end" style="font-family:'Liberation Serif',serif;font-weight:bold;font-style:normal;font-size:8.6px" fill="#000"  stroke="#000" stroke-width="0.172">500</text>
<line x1="99.90" y1="476.60" x2="102.90" y2="476.60" stroke="#333" stroke-width="1.2" />
<text transform="translate(98.90,479.60) scale(0.9535,1.0000)" text-anchor="end" style="font-family:'Liberation Serif',serif;font-weight:bold;font-style:normal;font-size:8.6px" fill="#000"  stroke="#000" stroke-width="0.172">1000</text>
<line x1="99.90" y1="440.45" x2="102.90" y2="440.45" stroke="#333" stroke-width="1.2" />
<text transform="translate(98.90,443.45) scale(0.9535,1.0000)" text-anchor="end" style="font-family:'Liberation Serif',serif;font-weight:bold;font-style:normal;font-size:8.6px" fill="#000"  stroke="#000" stroke-width="0.172">1500</text>
<line x1="99.90" y1="404.30" x2="102.90" y2="404.30" stroke="#333" stroke-width="1.2" />
<text transform="translate(98.90,407.30) scale(0.9535,1.0000)" text-anchor="end" style="font-family:'Liberation Serif',serif;font-weight:bold;font-style:normal;font-size:8.6px" fill="#000"  stroke="#000" stroke-width="0.172">2000</text>
<line x1="102.90" y1="548.90" x2="102.90" y2="552.10" stroke="#333" stroke-width="1.2" />
<text transform="translate(102.90,561.20) scale(0.9556,1.0000)" text-anchor="middle" style="font-family:'Liberation Serif',serif;font-weight:bold;font-style:normal;font-size:9px" fill="#000"  stroke="#000" stroke-width="0.18">0</text>
<line x1="129.81" y1="548.90" x2="129.81" y2="552.10" stroke="#333" stroke-width="1.2" />
<text transform="translate(129.81,561.20) scale(0.9556,1.0000)" text-anchor="middle" style="font-family:'Liberation Serif',serif;font-weight:bold;font-style:normal;font-size:9px" fill="#000"  stroke="#000" stroke-width="0.18">3</text>
<line x1="156.72" y1="548.90" x2="156.72" y2="552.10" stroke="#333" stroke-width="1.2" />
<text transform="translate(156.72,561.20) scale(0.9556,1.0000)" text-anchor="middle" style="font-family:'Liberation Serif',serif;font-weight:bold;font-style:normal;font-size:9px" fill="#000"  stroke="#000" stroke-width="0.18">6</text>
<line x1="183.63" y1="548.90" x2="183.63" y2="552.10" stroke="#333" stroke-width="1.2" />
<text transform="translate(183.63,561.20) scale(0.9556,1.0000)" text-anchor="middle" style="font-family:'Liberation Serif',serif;font-weight:bold;font-style:normal;font-size:9px" fill="#000"  stroke="#000" stroke-width="0.18">9</text>
<line x1="210.54" y1="548.90" x2="210.54" y2="552.10" stroke="#333" stroke-width="1.2" />
<text transform="translate(210.54,561.20) scale(0.9556,1.0000)" text-anchor="middle" style="font-family:'Liberation Serif',serif;font-weight:bold;font-style:normal;font-size:9px" fill="#000"  stroke="#000" stroke-width="0.18">12</text>
<line x1="237.45" y1="548.90" x2="237.45" y2="552.10" stroke="#333" stroke-width="1.2" />
<text transform="translate(237.45,561.20) scale(0.9556,1.0000)" text-anchor="middle" style="font-family:'Liberation Serif',serif;font-weight:bold;font-style:normal;font-size:9px" fill="#000"  stroke="#000" stroke-width="0.18">15</text>
<line x1="264.36" y1="548.90" x2="264.36" y2="552.10" stroke="#333" stroke-width="1.2" />
<text transform="translate(264.36,561.20) scale(0.9556,1.0000)" text-anchor="middle" style="font-family:'Liberation Serif',serif;font-weight:bold;font-style:normal;font-size:9px" fill="#000"  stroke="#000" stroke-width="0.18">18</text>
<text transform="translate(143.30,577.90) scale(0.8946,1.0000)" text-anchor="start" style="font-family:'Liberation Serif',serif;font-weight:bold;font-style:normal;font-size:10.5px" fill="#000"  stroke="#000" stroke-width="0.21">Days post treatment</text>
<text transform="translate(77.40,538.40) rotate(-90) scale(0.9793,1.0000)" text-anchor="start" style="font-family:'Liberation Serif',serif;font-weight:bold;font-style:normal;font-size:12.2px" fill="#000"  stroke="#000" stroke-width="0.244">Tumor Volume (mm</text>
<text transform="translate(71.50,435.00) rotate(-90)" text-anchor="start" style="font-family:'Liberation Serif',serif;font-weight:bold;font-style:normal;font-size:7.5px" fill="#000"  stroke="#000" stroke-width="0.15">3</text>
<text transform="translate(77.40,431.00) rotate(-90)" text-anchor="start" style="font-family:'Liberation Serif',serif;font-weight:bold;font-style:normal;font-size:12.2px" fill="#000"  stroke="#000" stroke-width="0.244">)</text>
<line x1="129.50" y1="535.16" x2="129.50" y2="527.21" stroke="#a41ee0" stroke-width="1.0" />
<line x1="126.70" y1="527.21" x2="132.30" y2="527.21" stroke="#a41ee0" stroke-width="1.0" />
<line x1="126.70" y1="535.16" x2="132.30" y2="535.16" stroke="#a41ee0" stroke-width="1.0" />
<line x1="156.50" y1="525.76" x2="156.50" y2="519.26" stroke="#a41ee0" stroke-width="1.0" />
<line x1="153.70" y1="519.26" x2="159.30" y2="519.26" stroke="#a41ee0" stroke-width="1.0" />
<line x1="153.70" y1="525.76" x2="159.30" y2="525.76" stroke="#a41ee0" stroke-width="1.0" />
<line x1="183.50" y1="529.38" x2="183.50" y2="523.60" stroke="#a41ee0" stroke-width="1.0" />
<line x1="180.70" y1="523.60" x2="186.30" y2="523.60" stroke="#a41ee0" stroke-width="1.0" />
<line x1="180.70" y1="529.38" x2="186.30" y2="529.38" stroke="#a41ee0" stroke-width="1.0" />
<line x1="210.50" y1="521.06" x2="210.50" y2="518.17" stroke="#a41ee0" stroke-width="1.0" />
<line x1="207.70" y1="518.17" x2="213.30" y2="518.17" stroke="#a41ee0" stroke-width="1.0" />
<line x1="207.70" y1="521.06" x2="213.30" y2="521.06" stroke="#a41ee0" stroke-width="1.0" />
<line x1="237.50" y1="520.70" x2="237.50" y2="512.39" stroke="#a41ee0" stroke-width="1.0" />
<line x1="234.70" y1="512.39" x2="240.30" y2="512.39" stroke="#a41ee0" stroke-width="1.0" />
<line x1="234.70" y1="520.70" x2="240.30" y2="520.70" stroke="#a41ee0" stroke-width="1.0" />
<polyline points="102.90,542.03 129.81,531.48 156.72,522.73 183.63,526.49 210.54,519.62 237.45,516.29" stroke="#a41ee0" stroke-width="1.3" fill="none" />
<path d="M102.90 545.77 L106.47 539.31 L99.33 539.31 Z" fill="#a41ee0"/>
<path d="M129.81 535.22 L133.38 528.76 L126.24 528.76 Z" fill="#a41ee0"/>
<path d="M156.72 526.47 L160.29 520.01 L153.15 520.01 Z" fill="#a41ee0"/>
<path d="M183.63 530.23 L187.20 523.77 L180.06 523.77 Z" fill="#a41ee0"/>
<path d="M210.54 523.36 L214.11 516.90 L206.97 516.90 Z" fill="#a41ee0"/>
<path d="M237.45 520.03 L241.02 513.57 L233.88 513.57 Z" fill="#a41ee0"/>
<line x1="129.50" y1="528.66" x2="129.50" y2="524.32" stroke="#70f070" stroke-width="0.9" />
<line x1="127.50" y1="524.32" x2="131.50" y2="524.32" stroke="#70f070" stroke-width="0.9" />
<line x1="127.50" y1="528.66" x2="131.50" y2="528.66" stroke="#70f070" stroke-width="0.9" />
<line x1="156.50" y1="518.53" x2="156.50" y2="513.47" stroke="#70f070" stroke-width="0.9" />
<line x1="154.50" y1="513.47" x2="158.50" y2="513.47" stroke="#70f070" stroke-width="0.9" />
<line x1="154.50" y1="518.53" x2="158.50" y2="518.53" stroke="#70f070" stroke-width="0.9" />
<line x1="183.50" y1="513.47" x2="183.50" y2="507.69" stroke="#70f070" stroke-width="0.9" />
<line x1="181.50" y1="507.69" x2="185.50" y2="507.69" stroke="#70f070" stroke-width="0.9" />
<line x1="181.50" y1="513.47" x2="185.50" y2="513.47" stroke="#70f070" stroke-width="0.9" />
<line x1="210.50" y1="498.29" x2="210.50" y2="488.53" stroke="#70f070" stroke-width="0.9" />
<line x1="208.50" y1="488.53" x2="212.50" y2="488.53" stroke="#70f070" stroke-width="0.9" />
<line x1="208.50" y1="498.29" x2="212.50" y2="498.29" stroke="#70f070" stroke-width="0.9" />
<line x1="237.50" y1="488.53" x2="237.50" y2="472.70" stroke="#70f070" stroke-width="0.9" />
<line x1="235.50" y1="472.70" x2="239.50" y2="472.70" stroke="#70f070" stroke-width="0.9" />
<line x1="235.50" y1="488.53" x2="239.50" y2="488.53" stroke="#70f070" stroke-width="0.9" />
<line x1="264.50" y1="479.71" x2="264.50" y2="461.49" stroke="#70f070" stroke-width="0.9" />
<line x1="262.50" y1="461.49" x2="266.50" y2="461.49" stroke="#70f070" stroke-width="0.9" />
<line x1="262.50" y1="479.71" x2="266.50" y2="479.71" stroke="#70f070" stroke-width="0.9" />
<polyline points="102.90,542.03 129.81,526.49 156.72,516.29 183.63,510.73 210.54,495.47 237.45,481.01 264.36,470.02" stroke="#70f070" stroke-width="1.0" fill="none" />
<path d="M102.90 539.93 L104.58 542.03 L102.90 544.13 L101.22 542.03 Z" fill="#1ee81e"/>
<path d="M129.81 524.39 L131.49 526.49 L129.81 528.59 L128.13 526.49 Z" fill="#1ee81e"/>
<path d="M156.72 514.19 L158.40 516.29 L156.72 518.39 L155.04 516.29 Z" fill="#1ee81e"/>
<path d="M183.63 508.63 L185.31 510.73 L183.63 512.83 L181.95 510.73 Z" fill="#1ee81e"/>
<path d="M210.54 493.37 L212.22 495.47 L210.54 497.57 L208.86 495.47 Z" fill="#1ee81e"/>
<path d="M237.45 478.91 L239.13 481.01 L237.45 483.11 L235.77 481.01 Z" fill="#1ee81e"/>
<path d="M264.36 467.92 L266.04 470.02 L264.36 472.12 L262.68 470.02 Z" fill="#1ee81e"/>
<line x1="129.50" y1="530.82" x2="129.50" y2="526.85" stroke="#ff6a6a" stroke-width="0.9" />
<line x1="127.50" y1="526.85" x2="131.50" y2="526.85" stroke="#ff6a6a" stroke-width="0.9" />
<line x1="127.50" y1="530.82" x2="131.50" y2="530.82" stroke="#ff6a6a" stroke-width="0.9" />
<line x1="156.50" y1="520.70" x2="156.50" y2="516.37" stroke="#ff6a6a" stroke-width="0.9" />
<line x1="154.50" y1="516.37" x2="158.50" y2="516.37" stroke="#ff6a6a" stroke-width="0.9" />
<line x1="154.50" y1="520.70" x2="158.50" y2="520.70" stroke="#ff6a6a" stroke-width="0.9" />
<line x1="183.50" y1="512.75" x2="183.50" y2="505.52" stroke="#ff6a6a" stroke-width="0.9" />
<line x1="181.50" y1="505.52" x2="185.50" y2="505.52" stroke="#ff6a6a" stroke-width="0.9" />
<line x1="181.50" y1="512.75" x2="185.50" y2="512.75" stroke="#ff6a6a" stroke-width="0.9" />
<line x1="210.50" y1="502.27" x2="210.50" y2="492.51" stroke="#ff6a6a" stroke-width="0.9" />
<line x1="208.50" y1="492.51" x2="212.50" y2="492.51" stroke="#ff6a6a" stroke-width="0.9" />
<line x1="208.50" y1="502.27" x2="212.50" y2="502.27" stroke="#ff6a6a" stroke-width="0.9" />
<line x1="237.50" y1="494.67" x2="237.50" y2="486.36" stroke="#ff6a6a" stroke-width="0.9" />
<line x1="235.50" y1="486.36" x2="239.50" y2="486.36" stroke="#ff6a6a" stroke-width="0.9" />
<line x1="235.50" y1="494.67" x2="239.50" y2="494.67" stroke="#ff6a6a" stroke-width="0.9" />
<line x1="264.50" y1="478.77" x2="264.50" y2="459.39" stroke="#ff6a6a" stroke-width="0.9" />
<line x1="262.50" y1="459.39" x2="266.50" y2="459.39" stroke="#ff6a6a" stroke-width="0.9" />
<line x1="262.50" y1="478.77" x2="266.50" y2="478.77" stroke="#ff6a6a" stroke-width="0.9" />
<polyline points="102.90,542.03 129.81,528.80 156.72,518.53 183.63,509.28 210.54,496.92 237.45,490.48 264.36,469.01" stroke="#ff6a6a" stroke-width="1.0" fill="none" />
<circle cx="102.90" cy="542.03" r="2.20" fill="#ff0a0a"/>
<circle cx="129.81" cy="528.80" r="2.20" fill="#ff0a0a"/>
<circle cx="156.72" cy="518.53" r="2.20" fill="#ff0a0a"/>
<circle cx="183.63" cy="509.28" r="2.20" fill="#ff0a0a"/>
<circle cx="210.54" cy="496.92" r="2.20" fill="#ff0a0a"/>
<circle cx="237.45" cy="490.48" r="2.20" fill="#ff0a0a"/>
<circle cx="264.36" cy="469.01" r="2.20" fill="#ff0a0a"/>
<line x1="129.50" y1="525.40" x2="129.50" y2="521.06" stroke="#7a7aff" stroke-width="0.9" />
<line x1="127.50" y1="521.06" x2="131.50" y2="521.06" stroke="#7a7aff" stroke-width="0.9" />
<line x1="127.50" y1="525.40" x2="131.50" y2="525.40" stroke="#7a7aff" stroke-width="0.9" />
<line x1="156.50" y1="510.00" x2="156.50" y2="503.21" stroke="#7a7aff" stroke-width="0.9" />
<line x1="154.50" y1="503.21" x2="158.50" y2="503.21" stroke="#7a7aff" stroke-width="0.9" />
<line x1="154.50" y1="510.00" x2="158.50" y2="510.00" stroke="#7a7aff" stroke-width="0.9" />
<line x1="183.50" y1="499.01" x2="183.50" y2="486.58" stroke="#7a7aff" stroke-width="0.9" />
<line x1="181.50" y1="486.58" x2="185.50" y2="486.58" stroke="#7a7aff" stroke-width="0.9" />
<line x1="181.50" y1="499.01" x2="185.50" y2="499.01" stroke="#7a7aff" stroke-width="0.9" />
<line x1="210.50" y1="488.53" x2="210.50" y2="473.27" stroke="#7a7aff" stroke-width="0.9" />
<line x1="208.50" y1="473.27" x2="212.50" y2="473.27" stroke="#7a7aff" stroke-width="0.9" />
<line x1="208.50" y1="488.53" x2="212.50" y2="488.53" stroke="#7a7aff" stroke-width="0.9" />
<line x1="237.50" y1="472.70" x2="237.50" y2="447.03" stroke="#7a7aff" stroke-width="0.9" />
<line x1="235.50" y1="447.03" x2="239.50" y2="447.03" stroke="#7a7aff" stroke-width="0.9" />
<line x1="235.50" y1="472.70" x2="239.50" y2="472.70" stroke="#7a7aff" stroke-width="0.9" />
<line x1="264.50" y1="459.61" x2="264.50" y2="435.39" stroke="#7a7aff" stroke-width="0.9" />
<line x1="262.50" y1="435.39" x2="266.50" y2="435.39" stroke="#7a7aff" stroke-width="0.9" />
<line x1="262.50" y1="459.61" x2="266.50" y2="459.61" stroke="#7a7aff" stroke-width="0.9" />
<polyline points="102.90,542.03 129.81,523.23 156.72,506.68 183.63,492.72 210.54,481.01 237.45,459.97 264.36,452.52" stroke="#7a7aff" stroke-width="1.0" fill="none" />
<circle cx="102.90" cy="542.03" r="2.40" fill="#2a2aff"/>
<circle cx="129.81" cy="523.23" r="2.40" fill="#2a2aff"/>
<circle cx="156.72" cy="506.68" r="2.40" fill="#2a2aff"/>
<circle cx="183.63" cy="492.72" r="2.40" fill="#2a2aff"/>
<circle cx="210.54" cy="481.01" r="2.40" fill="#2a2aff"/>
<circle cx="237.45" cy="459.97" r="2.40" fill="#2a2aff"/>
<circle cx="264.36" cy="452.52" r="2.40" fill="#2a2aff"/>
<line x1="123.50" y1="408.40" x2="130.50" y2="408.40" stroke="#7a7aff" stroke-width="0.9" />
<circle cx="127.00" cy="408.40" r="2.20" fill="#2a2aff"/>
<text transform="translate(135.00,410.60) scale(0.9200,1.0000)" text-anchor="start" style="font-family:'Liberation Sans',sans-serif;font-weight:normal;font-style:normal;font-size:6.3px" fill="#222"  stroke="#222" stroke-width="0.095">Contorl</text>
<line x1="123.50" y1="417.60" x2="130.50" y2="417.60" stroke="#ff6a6a" stroke-width="0.9" />
<circle cx="127.00" cy="417.60" r="2.00" fill="#ff0a0a"/>
<text transform="translate(135.00,419.80) scale(0.9200,1.0000)" text-anchor="start" style="font-family:'Liberation Sans',sans-serif;font-weight:normal;font-style:normal;font-size:6.3px" fill="#222"  stroke="#222" stroke-width="0.095">NPT-gels</text>
<line x1="123.50" y1="427.40" x2="130.50" y2="427.40" stroke="#70f070" stroke-width="0.9" />
<path d="M127.00 425.20 L128.76 427.40 L127.00 429.60 L125.24 427.40 Z" fill="#1ee81e"/>
<text transform="translate(135.00,429.60) scale(0.9200,1.0000)" text-anchor="start" style="font-family:'Liberation Sans',sans-serif;font-weight:normal;font-style:normal;font-size:6.3px" fill="#222"  stroke="#222" stroke-width="0.095">PD-1</text>
<line x1="123.50" y1="437.00" x2="130.50" y2="437.00" stroke="#a41ee0" stroke-width="1.5" />
<path d="M127.00 440.30 L130.15 434.60 L123.85 434.60 Z" fill="#a41ee0"/>
<text transform="translate(135.00,439.20) scale(0.9200,1.0000)" text-anchor="start" style="font-family:'Liberation Sans',sans-serif;font-weight:normal;font-style:normal;font-size:6.3px" fill="#222"  stroke="#222" stroke-width="0.095">Apa+PD-1</text>
<polyline points="167.90,405.50 170.80,405.50 170.80,437.60 167.90,437.60" stroke="#555" stroke-width="0.8" fill="none" />
<text transform="translate(173.20,421.30) rotate(90)" text-anchor="middle" style="font-family:'Liberation Sans',sans-serif;font-weight:normal;font-style:normal;font-size:3.8px" fill="#333"  stroke="#333" stroke-width="0.057">p&lt;0.05</text>
<text transform="translate(307.00,423.00)" text-anchor="start" style="font-family:'Liberation Serif',serif;font-weight:normal;font-style:normal;font-size:18.5px" fill="#000"  stroke="#000" stroke-width="0.45">F</text>
<line x1="359.60" y1="419.00" x2="359.60" y2="532.30" stroke="#222" stroke-width="1.4" />
<line x1="357.40" y1="531.60" x2="509.10" y2="531.60" stroke="#222" stroke-width="1.4" />
<line x1="355.80" y1="531.60" x2="359.60" y2="531.60" stroke="#222" stroke-width="1.2" />
<text transform="translate(354.00,534.60) scale(0.8198,1.0000)" text-anchor="end" style="font-family:'Liberation Sans',sans-serif;font-weight:bold;font-style:normal;font-size:8.4px" fill="#000"  stroke="#000" stroke-width="0.126">0</text>
<line x1="355.80" y1="511.26" x2="359.60" y2="511.26" stroke="#222" stroke-width="1.2" />
<text transform="translate(354.00,514.26) scale(0.8198,1.0000)" text-anchor="end" style="font-family:'Liberation Sans',sans-serif;font-weight:bold;font-style:normal;font-size:8.4px" fill="#000"  stroke="#000" stroke-width="0.126">20</text>
<line x1="355.80" y1="490.92" x2="359.60" y2="490.92" stroke="#222" stroke-width="1.2" />
<text transform="translate(354.00,493.92) scale(0.8198,1.0000)" text-anchor="end" style="font-family:'Liberation Sans',sans-serif;font-weight:bold;font-style:normal;font-size:8.4px" fill="#000"  stroke="#000" stroke-width="0.126">40</text>
<line x1="355.80" y1="470.58" x2="359.60" y2="470.58" stroke="#222" stroke-width="1.2" />
<text transform="translate(354.00,473.58) scale(0.8198,1.0000)" text-anchor="end" style="font-family:'Liberation Sans',sans-serif;font-weight:bold;font-style:normal;font-size:8.4px" fill="#000"  stroke="#000" stroke-width="0.126">60</text>
<line x1="355.80" y1="450.24" x2="359.60" y2="450.24" stroke="#222" stroke-width="1.2" />
<text transform="translate(354.00,453.24) scale(0.8198,1.0000)" text-anchor="end" style="font-family:'Liberation Sans',sans-serif;font-weight:bold;font-style:normal;font-size:8.4px" fill="#000"  stroke="#000" stroke-width="0.126">80</text>
<line x1="355.80" y1="429.90" x2="359.60" y2="429.90" stroke="#222" stroke-width="1.2" />
<text transform="translate(354.00,432.90) scale(0.8198,1.0000)" text-anchor="end" style="font-family:'Liberation Sans',sans-serif;font-weight:bold;font-style:normal;font-size:8.4px" fill="#000"  stroke="#000" stroke-width="0.126">100</text>
<line x1="359.40" y1="531.60" x2="359.40" y2="535.20" stroke="#222" stroke-width="1.2" />
<text transform="translate(359.70,545.80) scale(0.8673,1.0000)" text-anchor="middle" style="font-family:'Liberation Sans',sans-serif;font-weight:bold;font-style:normal;font-size:8.5px" fill="#000"  stroke="#000" stroke-width="0.128">0</text>
<line x1="404.50" y1="531.60" x2="404.50" y2="535.20" stroke="#222" stroke-width="1.2" />
<text transform="translate(404.80,545.80) scale(0.8673,1.0000)" text-anchor="middle" style="font-family:'Liberation Sans',sans-serif;font-weight:bold;font-style:normal;font-size:8.5px" fill="#000"  stroke="#000" stroke-width="0.128">10</text>
<line x1="449.60" y1="531.60" x2="449.60" y2="535.20" stroke="#222" stroke-width="1.2" />
<text transform="translate(449.90,545.80) scale(0.8673,1.0000)" text-anchor="middle" style="font-family:'Liberation Sans',sans-serif;font-weight:bold;font-style:normal;font-size:8.5px" fill="#000"  stroke="#000" stroke-width="0.128">20</text>
<line x1="494.70" y1="531.60" x2="494.70" y2="535.20" stroke="#222" stroke-width="1.2" />
<text transform="translate(495.00,545.80) scale(0.8673,1.0000)" text-anchor="middle" style="font-family:'Liberation Sans',sans-serif;font-weight:bold;font-style:normal;font-size:8.5px" fill="#000"  stroke="#000" stroke-width="0.128">30</text>
<text transform="translate(376.20,566.00) scale(0.8852,1.0000)" text-anchor="start" style="font-family:'Liberation Serif',serif;font-weight:bold;font-style:normal;font-size:15.2px" fill="#000"  stroke="#000" stroke-width="0.304">Days post treatment</text>
<text transform="translate(337.60,534.50) rotate(-90) scale(0.9229,1.0000)" text-anchor="start" style="font-family:'Liberation Serif',serif;font-weight:bold;font-style:normal;font-size:15px" fill="#000"  stroke="#000" stroke-width="0.3">Overall survival(%)</text>
<polyline points="446.44,429.90 508.23,429.90" stroke="#b03ae6" stroke-width="2" fill="none" />
<polyline points="414.87,429.90 445.09,429.90 445.09,463.77 494.70,463.77 494.70,497.73 507.33,497.73" stroke="#1ec81e" stroke-width="2" fill="none" />
<polyline points="414.42,450.24 508.23,450.24 508.23,477.19" stroke="#ff1a1a" stroke-width="2" fill="none" />
<polyline points="359.40,429.90 413.52,429.90 413.52,455.33 427.05,455.33 427.05,480.75 508.23,480.75 508.23,531.60" stroke="#1a1aff" stroke-width="2" fill="none" />
<line x1="531.00" y1="427.00" x2="541.50" y2="427.00" stroke="#1a1aff" stroke-width="2" />
<text transform="translate(547.60,429.80) scale(0.9300,1.0000)" text-anchor="start" style="font-family:'Liberation Sans',sans-serif;font-weight:normal;font-style:normal;font-size:8.3px" fill="#111"  stroke="#111" stroke-width="0.124">PBS</text>
<line x1="531.00" y1="442.10" x2="541.50" y2="442.10" stroke="#ff1a1a" stroke-width="2" />
<text transform="translate(547.60,444.80) scale(0.9300,1.0000)" text-anchor="start" style="font-family:'Liberation Sans',sans-serif;font-weight:normal;font-style:normal;font-size:8.3px" fill="#111"  stroke="#111" stroke-width="0.124">Apatinib</text>
<line x1="531.00" y1="457.10" x2="541.50" y2="457.10" stroke="#1ec81e" stroke-width="2" />
<text transform="translate(547.60,459.90) scale(0.9300,1.0000)" text-anchor="start" style="font-family:'Liberation Sans',sans-serif;font-weight:normal;font-style:normal;font-size:8.3px" fill="#111"  stroke="#111" stroke-width="0.124">PD-1</text>
<line x1="531.00" y1="471.60" x2="541.50" y2="471.60" stroke="#b03ae6" stroke-width="2" />
<text transform="translate(547.60,474.30) scale(0.8300,1.0000)" text-anchor="start" style="font-family:'Liberation Sans',sans-serif;font-weight:normal;font-style:normal;font-size:8.3px" fill="#111"  stroke="#111" stroke-width="0.124">Apa+PD-1</text>
<text transform="translate(12.30,575.00)" text-anchor="start" style="font-family:'Liberation Serif',serif;font-weight:normal;font-style:normal;font-size:19.8px" fill="#000"  stroke="#000" stroke-width="0.45">G</text>
<defs>
<radialGradient id="photoBg" cx="0.4" cy="0.55" r="0.75" fx="0.4" fy="0.6">
<stop offset="0" stop-color="#ebebe9"/>
<stop offset="0.5" stop-color="#e6e6e4"/>
<stop offset="0.85" stop-color="#dcddd9"/>
<stop offset="1" stop-color="#d6d7d3"/>
</radialGradient>
<radialGradient id="tum" cx="0.45" cy="0.4" r="0.6">
<stop offset="0" stop-color="#c98580"/>
<stop offset="0.55" stop-color="#ad5058"/>
<stop offset="1" stop-color="#8a2e38"/>
</radialGradient>
<radialGradient id="tumS" cx="0.45" cy="0.4" r="0.6">
<stop offset="0" stop-color="#d4857a"/>
<stop offset="0.6" stop-color="#bb5a55"/>
<stop offset="1" stop-color="#a04040"/>
</radialGradient>
<filter id="blur1" x="-5%" y="-5%" width="110%" height="110%"><feGaussianBlur stdDeviation="0.55"/></filter><filter id="blur3" x="-20%" y="-20%" width="140%" height="140%"><feGaussianBlur stdDeviation="0.8"/></filter>
</defs>
<rect x="84" y="587" width="188" height="181.3" fill="url(#photoBg)"/>
<defs><filter id="blur2" x="-30%" y="-30%" width="160%" height="160%"><feGaussianBlur stdDeviation="1.1"/></filter></defs>
<clipPath id="tc0"><path d="M114.75 632.64 C114.31 633.76 113.98 634.74 113.65 635.95 C113.33 637.17 113.20 638.59 112.79 639.94 C112.37 641.29 111.85 642.81 111.16 644.08 C110.47 645.34 109.58 646.56 108.65 647.53 C107.72 648.50 106.63 649.48 105.60 649.91 C104.57 650.33 103.39 650.46 102.48 650.09 C101.56 649.71 100.78 648.53 100.11 647.64 C99.45 646.74 99.09 645.47 98.51 644.70 C97.93 643.93 97.28 643.59 96.64 643.01 C95.99 642.43 95.10 642.05 94.63 641.21 C94.16 640.36 93.92 639.11 93.81 637.94 C93.71 636.77 93.99 635.41 93.99 634.19 C93.99 632.97 93.87 631.89 93.81 630.62 C93.75 629.35 93.45 627.94 93.61 626.58 C93.77 625.21 94.17 623.65 94.75 622.42 C95.33 621.19 96.28 620.13 97.11 619.19 C97.93 618.25 98.83 617.49 99.69 616.78 C100.55 616.07 101.40 615.43 102.27 614.92 C103.13 614.41 104.00 614.14 104.88 613.75 C105.75 613.35 106.58 613.00 107.54 612.55 C108.50 612.10 109.59 611.26 110.61 611.03 C111.63 610.80 112.87 610.62 113.67 611.16 C114.47 611.71 115.04 613.06 115.40 614.28 C115.76 615.51 115.68 617.22 115.85 618.51 C116.02 619.79 116.21 620.85 116.39 622.00 C116.58 623.15 116.97 624.21 116.96 625.41 C116.94 626.61 116.66 628.00 116.29 629.20 C115.92 630.41 115.19 631.51 114.75 632.64 Z"/></clipPath>
<path d="M115.94 633.82 C115.49 634.98 115.15 635.98 114.81 637.23 C114.47 638.49 114.34 639.95 113.92 641.34 C113.49 642.74 112.94 644.30 112.23 645.60 C111.52 646.91 110.61 648.16 109.65 649.16 C108.70 650.16 107.57 651.17 106.51 651.61 C105.45 652.05 104.24 652.18 103.30 651.79 C102.35 651.40 101.54 650.19 100.86 649.27 C100.18 648.34 99.81 647.04 99.21 646.24 C98.61 645.45 97.95 645.10 97.28 644.50 C96.61 643.90 95.70 643.52 95.21 642.65 C94.73 641.78 94.48 640.48 94.37 639.28 C94.26 638.07 94.55 636.67 94.55 635.41 C94.55 634.16 94.43 633.04 94.37 631.74 C94.30 630.43 94.00 628.98 94.16 627.58 C94.32 626.17 94.74 624.56 95.34 623.29 C95.94 622.03 96.92 620.94 97.76 619.97 C98.61 619.00 99.54 618.22 100.42 617.49 C101.31 616.76 102.19 616.09 103.08 615.57 C103.97 615.05 104.86 614.77 105.77 614.36 C106.67 613.95 107.52 613.59 108.51 613.13 C109.49 612.66 110.62 611.80 111.67 611.56 C112.73 611.33 114.00 611.14 114.82 611.70 C115.64 612.26 116.23 613.65 116.61 614.92 C116.98 616.18 116.90 617.94 117.07 619.27 C117.24 620.59 117.44 621.68 117.63 622.86 C117.82 624.05 118.23 625.13 118.21 626.37 C118.19 627.61 117.90 629.04 117.52 630.28 C117.14 631.52 116.39 632.66 115.94 633.82 Z" fill="#aaa8a4" opacity="0.4" filter="url(#blur1)"/>
<g filter="url(#blur1)"><path d="M114.75 632.64 C114.31 633.76 113.98 634.74 113.65 635.95 C113.33 637.17 113.20 638.59 112.79 639.94 C112.37 641.29 111.85 642.81 111.16 644.08 C110.47 645.34 109.58 646.56 108.65 647.53 C107.72 648.50 106.63 649.48 105.60 649.91 C104.57 650.33 103.39 650.46 102.48 650.09 C101.56 649.71 100.78 648.53 100.11 647.64 C99.45 646.74 99.09 645.47 98.51 644.70 C97.93 643.93 97.28 643.59 96.64 643.01 C95.99 642.43 95.10 642.05 94.63 641.21 C94.16 640.36 93.92 639.11 93.81 637.94 C93.71 636.77 93.99 635.41 93.99 634.19 C93.99 632.97 93.87 631.89 93.81 630.62 C93.75 629.35 93.45 627.94 93.61 626.58 C93.77 625.21 94.17 623.65 94.75 622.42 C95.33 621.19 96.28 620.13 97.11 619.19 C97.93 618.25 98.83 617.49 99.69 616.78 C100.55 616.07 101.40 615.43 102.27 614.92 C103.13 614.41 104.00 614.14 104.88 613.75 C105.75 613.35 106.58 613.00 107.54 612.55 C108.50 612.10 109.59 611.26 110.61 611.03 C111.63 610.80 112.87 610.62 113.67 611.16 C114.47 611.71 115.04 613.06 115.40 614.28 C115.76 615.51 115.68 617.22 115.85 618.51 C116.02 619.79 116.21 620.85 116.39 622.00 C116.58 623.15 116.97 624.21 116.96 625.41 C116.94 626.61 116.66 628.00 116.29 629.20 C115.92 630.41 115.19 631.51 114.75 632.64 Z" fill="#9d4c54"/></g>
<g clip-path="url(#tc0)"><g filter="url(#blur2)">
<ellipse cx="101.50" cy="629.17" rx="4.69" ry="6.17" fill="#75202d" opacity="0.62"/>
<ellipse cx="107.62" cy="628.82" rx="4.76" ry="5.55" fill="#75202d" opacity="0.62"/>
<ellipse cx="101.74" cy="627.12" rx="3.01" ry="7.00" fill="#c7a39f" opacity="0.55"/>
<ellipse cx="108.28" cy="625.70" rx="3.62" ry="6.40" fill="#c7a39f" opacity="0.55"/>
<path d="M114.75 632.64 C114.31 633.76 113.98 634.74 113.65 635.95 C113.33 637.17 113.20 638.59 112.79 639.94 C112.37 641.29 111.85 642.81 111.16 644.08 C110.47 645.34 109.58 646.56 108.65 647.53 C107.72 648.50 106.63 649.48 105.60 649.91 C104.57 650.33 103.39 650.46 102.48 650.09 C101.56 649.71 100.78 648.53 100.11 647.64 C99.45 646.74 99.09 645.47 98.51 644.70 C97.93 643.93 97.28 643.59 96.64 643.01 C95.99 642.43 95.10 642.05 94.63 641.21 C94.16 640.36 93.92 639.11 93.81 637.94 C93.71 636.77 93.99 635.41 93.99 634.19 C93.99 632.97 93.87 631.89 93.81 630.62 C93.75 629.35 93.45 627.94 93.61 626.58 C93.77 625.21 94.17 623.65 94.75 622.42 C95.33 621.19 96.28 620.13 97.11 619.19 C97.93 618.25 98.83 617.49 99.69 616.78 C100.55 616.07 101.40 615.43 102.27 614.92 C103.13 614.41 104.00 614.14 104.88 613.75 C105.75 613.35 106.58 613.00 107.54 612.55 C108.50 612.10 109.59 611.26 110.61 611.03 C111.63 610.80 112.87 610.62 113.67 611.16 C114.47 611.71 115.04 613.06 115.40 614.28 C115.76 615.51 115.68 617.22 115.85 618.51 C116.02 619.79 116.21 620.85 116.39 622.00 C116.58 623.15 116.97 624.21 116.96 625.41 C116.94 626.61 116.66 628.00 116.29 629.20 C115.92 630.41 115.19 631.51 114.75 632.64 Z" fill="none" stroke="#75202d" stroke-width="4.06" opacity="0.35"/>
</g>
<g filter="url(#blur3)"><circle cx="99.70" cy="620.59" r="1.01" fill="#75202d" opacity="0.49"/>
<circle cx="113.80" cy="621.53" r="1.20" fill="#c7a39f" opacity="0.57"/>
<circle cx="111.10" cy="620.07" r="0.81" fill="#c7a39f" opacity="0.30"/>
<circle cx="103.26" cy="637.82" r="0.87" fill="#c7a39f" opacity="0.55"/>
<circle cx="112.88" cy="622.29" r="1.27" fill="#75202d" opacity="0.57"/>
<circle cx="98.27" cy="631.46" r="1.25" fill="#c7a39f" opacity="0.52"/>
<circle cx="110.30" cy="630.11" r="1.23" fill="#75202d" opacity="0.46"/>
<circle cx="102.29" cy="640.16" r="1.14" fill="#75202d" opacity="0.53"/>
<circle cx="111.02" cy="641.21" r="0.93" fill="#c7a39f" opacity="0.55"/>
<circle cx="112.80" cy="636.12" r="1.16" fill="#c7a39f" opacity="0.45"/>
<circle cx="106.73" cy="619.68" r="1.48" fill="#c7a39f" opacity="0.35"/>
<circle cx="109.91" cy="635.87" r="0.75" fill="#75202d" opacity="0.48"/>
<circle cx="99.99" cy="624.39" r="1.29" fill="#c7a39f" opacity="0.52"/>
<circle cx="106.47" cy="625.09" r="0.80" fill="#75202d" opacity="0.36"/>
<circle cx="105.67" cy="636.27" r="1.05" fill="#75202d" opacity="0.58"/>
<circle cx="103.36" cy="636.07" r="1.29" fill="#c7a39f" opacity="0.44"/>
<circle cx="106.04" cy="635.72" r="1.42" fill="#75202d" opacity="0.56"/>
<circle cx="96.79" cy="621.16" r="0.78" fill="#75202d" opacity="0.34"/>
<circle cx="107.83" cy="618.98" r="1.55" fill="#75202d" opacity="0.42"/>
<circle cx="105.95" cy="629.15" r="1.11" fill="#75202d" opacity="0.36"/>
<circle cx="106.68" cy="622.70" r="0.89" fill="#75202d" opacity="0.42"/>
<circle cx="113.19" cy="632.73" r="1.06" fill="#c7a39f" opacity="0.38"/>
<circle cx="109.11" cy="620.94" r="1.05" fill="#c7a39f" opacity="0.38"/>
<circle cx="100.95" cy="624.24" r="1.59" fill="#c7a39f" opacity="0.47"/>
<circle cx="100.23" cy="615.70" r="0.97" fill="#75202d" opacity="0.49"/>
<circle cx="107.55" cy="640.13" r="1.02" fill="#c7a39f" opacity="0.50"/>
<circle cx="104.17" cy="636.51" r="1.58" fill="#75202d" opacity="0.31"/>
<circle cx="107.38" cy="625.63" r="0.83" fill="#c7a39f" opacity="0.57"/>
<circle cx="95.98" cy="636.71" r="1.16" fill="#c7a39f" opacity="0.35"/>
<circle cx="103.01" cy="628.36" r="0.84" fill="#75202d" opacity="0.55"/>
<circle cx="106.12" cy="623.26" r="1.27" fill="#c7a39f" opacity="0.34"/>
<circle cx="106.77" cy="632.34" r="0.97" fill="#75202d" opacity="0.56"/>
<circle cx="106.67" cy="621.88" r="1.11" fill="#75202d" opacity="0.51"/>
<circle cx="111.90" cy="617.95" r="1.10" fill="#75202d" opacity="0.31"/>
</g></g>
<clipPath id="tc1"><path d="M156.13 628.54 C156.46 629.38 156.74 630.27 156.99 631.23 C157.23 632.18 157.50 633.21 157.61 634.26 C157.72 635.30 157.86 636.56 157.63 637.50 C157.40 638.44 156.88 639.39 156.24 639.91 C155.59 640.44 154.56 640.51 153.77 640.66 C152.99 640.80 152.20 640.64 151.53 640.77 C150.86 640.91 150.37 641.29 149.75 641.47 C149.14 641.65 148.49 641.94 147.86 641.85 C147.22 641.75 146.55 641.27 145.95 640.90 C145.35 640.53 144.86 639.96 144.24 639.63 C143.62 639.30 142.95 639.22 142.23 638.93 C141.50 638.63 140.58 638.40 139.88 637.84 C139.18 637.28 138.50 636.45 138.04 635.57 C137.57 634.70 137.27 633.60 137.09 632.59 C136.91 631.58 136.85 630.47 136.97 629.50 C137.10 628.53 137.45 627.57 137.84 626.79 C138.23 626.00 138.88 625.44 139.31 624.78 C139.73 624.13 140.09 623.59 140.40 622.86 C140.72 622.13 140.81 621.13 141.19 620.41 C141.57 619.69 142.07 618.87 142.67 618.53 C143.28 618.18 144.13 618.30 144.84 618.34 C145.55 618.39 146.24 618.73 146.94 618.80 C147.63 618.88 148.29 618.72 149.00 618.81 C149.71 618.90 150.53 618.92 151.18 619.34 C151.84 619.76 152.44 620.56 152.91 621.32 C153.38 622.08 153.64 623.07 153.99 623.88 C154.34 624.69 154.67 625.41 155.02 626.19 C155.38 626.96 155.80 627.70 156.13 628.54 Z"/></clipPath>
<path d="M157.29 629.59 C157.63 630.45 157.92 631.37 158.17 632.35 C158.43 633.33 158.71 634.40 158.82 635.47 C158.93 636.55 159.07 637.84 158.84 638.81 C158.60 639.78 158.06 640.76 157.40 641.30 C156.74 641.84 155.67 641.92 154.86 642.06 C154.06 642.21 153.24 642.04 152.55 642.18 C151.86 642.32 151.35 642.72 150.72 642.90 C150.09 643.09 149.42 643.39 148.77 643.29 C148.12 643.19 147.43 642.69 146.81 642.31 C146.19 641.93 145.69 641.35 145.05 641.01 C144.41 640.67 143.72 640.59 142.97 640.28 C142.22 639.97 141.28 639.74 140.56 639.16 C139.84 638.59 139.14 637.73 138.66 636.83 C138.18 635.93 137.86 634.80 137.68 633.76 C137.50 632.71 137.43 631.57 137.56 630.57 C137.69 629.58 138.05 628.59 138.45 627.78 C138.85 626.97 139.52 626.39 139.96 625.72 C140.40 625.04 140.77 624.49 141.09 623.74 C141.41 622.99 141.52 621.95 141.91 621.21 C142.30 620.47 142.81 619.63 143.43 619.27 C144.06 618.92 144.93 619.03 145.66 619.08 C146.39 619.13 147.11 619.48 147.82 619.56 C148.54 619.64 149.22 619.47 149.95 619.56 C150.68 619.65 151.53 619.67 152.20 620.11 C152.87 620.54 153.49 621.37 153.97 622.15 C154.45 622.93 154.72 623.95 155.09 624.78 C155.45 625.62 155.79 626.36 156.15 627.16 C156.52 627.96 156.95 628.72 157.29 629.59 Z" fill="#aaa8a4" opacity="0.4" filter="url(#blur1)"/>
<g filter="url(#blur1)"><path d="M156.13 628.54 C156.46 629.38 156.74 630.27 156.99 631.23 C157.23 632.18 157.50 633.21 157.61 634.26 C157.72 635.30 157.86 636.56 157.63 637.50 C157.40 638.44 156.88 639.39 156.24 639.91 C155.59 640.44 154.56 640.51 153.77 640.66 C152.99 640.80 152.20 640.64 151.53 640.77 C150.86 640.91 150.37 641.29 149.75 641.47 C149.14 641.65 148.49 641.94 147.86 641.85 C147.22 641.75 146.55 641.27 145.95 640.90 C145.35 640.53 144.86 639.96 144.24 639.63 C143.62 639.30 142.95 639.22 142.23 638.93 C141.50 638.63 140.58 638.40 139.88 637.84 C139.18 637.28 138.50 636.45 138.04 635.57 C137.57 634.70 137.27 633.60 137.09 632.59 C136.91 631.58 136.85 630.47 136.97 629.50 C137.10 628.53 137.45 627.57 137.84 626.79 C138.23 626.00 138.88 625.44 139.31 624.78 C139.73 624.13 140.09 623.59 140.40 622.86 C140.72 622.13 140.81 621.13 141.19 620.41 C141.57 619.69 142.07 618.87 142.67 618.53 C143.28 618.18 144.13 618.30 144.84 618.34 C145.55 618.39 146.24 618.73 146.94 618.80 C147.63 618.88 148.29 618.72 149.00 618.81 C149.71 618.90 150.53 618.92 151.18 619.34 C151.84 619.76 152.44 620.56 152.91 621.32 C153.38 622.08 153.64 623.07 153.99 623.88 C154.34 624.69 154.67 625.41 155.02 626.19 C155.38 626.96 155.80 627.70 156.13 628.54 Z" fill="#a0565b"/></g>
<g clip-path="url(#tc1)"><g filter="url(#blur2)">
<ellipse cx="148.08" cy="626.99" rx="4.12" ry="4.77" fill="#752431" opacity="0.62"/>
<ellipse cx="147.12" cy="632.22" rx="2.72" ry="3.03" fill="#752431" opacity="0.62"/>
<ellipse cx="145.89" cy="630.40" rx="2.72" ry="4.89" fill="#c9a3a0" opacity="0.55"/>
<ellipse cx="144.57" cy="626.38" rx="2.49" ry="4.39" fill="#c9a3a0" opacity="0.55"/>
<path d="M156.13 628.54 C156.46 629.38 156.74 630.27 156.99 631.23 C157.23 632.18 157.50 633.21 157.61 634.26 C157.72 635.30 157.86 636.56 157.63 637.50 C157.40 638.44 156.88 639.39 156.24 639.91 C155.59 640.44 154.56 640.51 153.77 640.66 C152.99 640.80 152.20 640.64 151.53 640.77 C150.86 640.91 150.37 641.29 149.75 641.47 C149.14 641.65 148.49 641.94 147.86 641.85 C147.22 641.75 146.55 641.27 145.95 640.90 C145.35 640.53 144.86 639.96 144.24 639.63 C143.62 639.30 142.95 639.22 142.23 638.93 C141.50 638.63 140.58 638.40 139.88 637.84 C139.18 637.28 138.50 636.45 138.04 635.57 C137.57 634.70 137.27 633.60 137.09 632.59 C136.91 631.58 136.85 630.47 136.97 629.50 C137.10 628.53 137.45 627.57 137.84 626.79 C138.23 626.00 138.88 625.44 139.31 624.78 C139.73 624.13 140.09 623.59 140.40 622.86 C140.72 622.13 140.81 621.13 141.19 620.41 C141.57 619.69 142.07 618.87 142.67 618.53 C143.28 618.18 144.13 618.30 144.84 618.34 C145.55 618.39 146.24 618.73 146.94 618.80 C147.63 618.88 148.29 618.72 149.00 618.81 C149.71 618.90 150.53 618.92 151.18 619.34 C151.84 619.76 152.44 620.56 152.91 621.32 C153.38 622.08 153.64 623.07 153.99 623.88 C154.34 624.69 154.67 625.41 155.02 626.19 C155.38 626.96 155.80 627.70 156.13 628.54 Z" fill="none" stroke="#752431" stroke-width="3.25" opacity="0.35"/>
</g>
<g filter="url(#blur3)"><circle cx="145.41" cy="629.84" r="1.27" fill="#752431" opacity="0.42"/>
<circle cx="143.06" cy="629.01" r="0.80" fill="#752431" opacity="0.55"/>
<circle cx="150.08" cy="633.67" r="1.06" fill="#c9a3a0" opacity="0.41"/>
<circle cx="146.25" cy="628.51" r="0.71" fill="#c9a3a0" opacity="0.44"/>
<circle cx="147.92" cy="627.34" r="1.33" fill="#752431" opacity="0.30"/>
<circle cx="148.36" cy="623.52" r="0.86" fill="#752431" opacity="0.32"/>
<circle cx="142.20" cy="634.07" r="1.03" fill="#c9a3a0" opacity="0.50"/>
<circle cx="147.03" cy="630.37" r="0.98" fill="#c9a3a0" opacity="0.56"/>
<circle cx="150.24" cy="634.04" r="0.78" fill="#752431" opacity="0.31"/>
<circle cx="145.10" cy="639.25" r="1.45" fill="#c9a3a0" opacity="0.34"/>
<circle cx="150.46" cy="635.85" r="1.41" fill="#c9a3a0" opacity="0.34"/>
<circle cx="142.62" cy="636.20" r="1.50" fill="#c9a3a0" opacity="0.43"/>
<circle cx="153.20" cy="623.25" r="1.50" fill="#c9a3a0" opacity="0.40"/>
<circle cx="140.97" cy="631.36" r="1.02" fill="#c9a3a0" opacity="0.32"/>
<circle cx="144.11" cy="636.84" r="1.54" fill="#752431" opacity="0.38"/>
<circle cx="143.00" cy="622.71" r="1.51" fill="#c9a3a0" opacity="0.40"/>
<circle cx="141.38" cy="633.44" r="0.71" fill="#c9a3a0" opacity="0.49"/>
<circle cx="152.71" cy="629.58" r="1.42" fill="#c9a3a0" opacity="0.37"/>
<circle cx="144.03" cy="633.58" r="1.18" fill="#c9a3a0" opacity="0.40"/>
</g></g>
<clipPath id="tc2"><path d="M188.43 630.42 C188.88 631.36 189.57 632.61 189.64 633.68 C189.72 634.74 189.37 635.95 188.88 636.80 C188.39 637.65 187.42 638.19 186.70 638.77 C185.99 639.35 185.26 639.79 184.56 640.29 C183.86 640.80 183.24 641.48 182.51 641.80 C181.78 642.13 180.93 642.32 180.18 642.21 C179.42 642.11 178.66 641.57 177.99 641.19 C177.32 640.81 176.77 640.30 176.16 639.96 C175.56 639.61 174.98 639.40 174.36 639.10 C173.74 638.80 173.11 638.52 172.46 638.13 C171.81 637.74 171.11 637.32 170.46 636.75 C169.82 636.18 169.01 635.54 168.56 634.71 C168.12 633.88 167.74 632.76 167.81 631.77 C167.87 630.77 168.47 629.61 168.96 628.72 C169.45 627.83 170.31 627.19 170.75 626.44 C171.18 625.68 171.37 625.05 171.59 624.20 C171.81 623.34 171.74 622.21 172.05 621.33 C172.37 620.46 172.87 619.54 173.46 618.95 C174.05 618.36 174.88 618.13 175.61 617.80 C176.34 617.48 177.06 617.26 177.82 616.98 C178.58 616.71 179.38 616.26 180.18 616.17 C180.97 616.08 181.87 616.11 182.61 616.44 C183.34 616.77 184.04 617.47 184.58 618.17 C185.13 618.87 185.56 619.77 185.87 620.64 C186.19 621.50 186.35 622.47 186.45 623.35 C186.55 624.24 186.39 625.16 186.46 625.94 C186.54 626.73 186.58 627.32 186.91 628.07 C187.23 628.82 187.97 629.49 188.43 630.42 Z"/></clipPath>
<path d="M189.61 631.55 C190.08 632.51 190.78 633.80 190.86 634.90 C190.94 635.99 190.58 637.24 190.07 638.12 C189.57 638.99 188.58 639.55 187.84 640.15 C187.09 640.75 186.35 641.19 185.63 641.71 C184.91 642.23 184.26 642.94 183.51 643.27 C182.76 643.60 181.89 643.80 181.11 643.69 C180.34 643.59 179.54 643.03 178.86 642.64 C178.17 642.25 177.60 641.73 176.98 641.37 C176.35 641.01 175.76 640.80 175.12 640.48 C174.49 640.17 173.83 639.89 173.16 639.49 C172.49 639.08 171.78 638.66 171.11 638.07 C170.44 637.48 169.61 636.82 169.15 635.97 C168.69 635.11 168.31 633.96 168.37 632.93 C168.44 631.90 169.05 630.71 169.56 629.80 C170.06 628.88 170.95 628.22 171.40 627.44 C171.85 626.67 172.04 626.01 172.27 625.13 C172.49 624.26 172.43 623.09 172.75 622.18 C173.07 621.28 173.58 620.33 174.19 619.73 C174.80 619.12 175.66 618.89 176.41 618.55 C177.16 618.21 177.90 617.99 178.69 617.71 C179.47 617.42 180.29 616.96 181.11 616.86 C181.93 616.77 182.86 616.80 183.62 617.15 C184.37 617.49 185.09 618.21 185.65 618.93 C186.21 619.65 186.66 620.58 186.98 621.47 C187.30 622.36 187.47 623.36 187.57 624.27 C187.68 625.18 187.51 626.12 187.59 626.93 C187.67 627.74 187.71 628.35 188.04 629.12 C188.38 629.89 189.14 630.59 189.61 631.55 Z" fill="#aaa8a4" opacity="0.4" filter="url(#blur1)"/>
<g filter="url(#blur1)"><path d="M188.43 630.42 C188.88 631.36 189.57 632.61 189.64 633.68 C189.72 634.74 189.37 635.95 188.88 636.80 C188.39 637.65 187.42 638.19 186.70 638.77 C185.99 639.35 185.26 639.79 184.56 640.29 C183.86 640.80 183.24 641.48 182.51 641.80 C181.78 642.13 180.93 642.32 180.18 642.21 C179.42 642.11 178.66 641.57 177.99 641.19 C177.32 640.81 176.77 640.30 176.16 639.96 C175.56 639.61 174.98 639.40 174.36 639.10 C173.74 638.80 173.11 638.52 172.46 638.13 C171.81 637.74 171.11 637.32 170.46 636.75 C169.82 636.18 169.01 635.54 168.56 634.71 C168.12 633.88 167.74 632.76 167.81 631.77 C167.87 630.77 168.47 629.61 168.96 628.72 C169.45 627.83 170.31 627.19 170.75 626.44 C171.18 625.68 171.37 625.05 171.59 624.20 C171.81 623.34 171.74 622.21 172.05 621.33 C172.37 620.46 172.87 619.54 173.46 618.95 C174.05 618.36 174.88 618.13 175.61 617.80 C176.34 617.48 177.06 617.26 177.82 616.98 C178.58 616.71 179.38 616.26 180.18 616.17 C180.97 616.08 181.87 616.11 182.61 616.44 C183.34 616.77 184.04 617.47 184.58 618.17 C185.13 618.87 185.56 619.77 185.87 620.64 C186.19 621.50 186.35 622.47 186.45 623.35 C186.55 624.24 186.39 625.16 186.46 625.94 C186.54 626.73 186.58 627.32 186.91 628.07 C187.23 628.82 187.97 629.49 188.43 630.42 Z" fill="#aa6864"/></g>
<g clip-path="url(#tc2)"><g filter="url(#blur2)">
<ellipse cx="175.87" cy="630.89" rx="2.81" ry="4.25" fill="#81363a" opacity="0.62"/>
<ellipse cx="179.96" cy="628.31" rx="3.70" ry="3.88" fill="#81363a" opacity="0.62"/>
<ellipse cx="175.81" cy="628.29" rx="3.70" ry="3.77" fill="#d1ada6" opacity="0.55"/>
<ellipse cx="181.19" cy="629.95" rx="3.22" ry="3.04" fill="#d1ada6" opacity="0.55"/>
<path d="M188.43 630.42 C188.88 631.36 189.57 632.61 189.64 633.68 C189.72 634.74 189.37 635.95 188.88 636.80 C188.39 637.65 187.42 638.19 186.70 638.77 C185.99 639.35 185.26 639.79 184.56 640.29 C183.86 640.80 183.24 641.48 182.51 641.80 C181.78 642.13 180.93 642.32 180.18 642.21 C179.42 642.11 178.66 641.57 177.99 641.19 C177.32 640.81 176.77 640.30 176.16 639.96 C175.56 639.61 174.98 639.40 174.36 639.10 C173.74 638.80 173.11 638.52 172.46 638.13 C171.81 637.74 171.11 637.32 170.46 636.75 C169.82 636.18 169.01 635.54 168.56 634.71 C168.12 633.88 167.74 632.76 167.81 631.77 C167.87 630.77 168.47 629.61 168.96 628.72 C169.45 627.83 170.31 627.19 170.75 626.44 C171.18 625.68 171.37 625.05 171.59 624.20 C171.81 623.34 171.74 622.21 172.05 621.33 C172.37 620.46 172.87 619.54 173.46 618.95 C174.05 618.36 174.88 618.13 175.61 617.80 C176.34 617.48 177.06 617.26 177.82 616.98 C178.58 616.71 179.38 616.26 180.18 616.17 C180.97 616.08 181.87 616.11 182.61 616.44 C183.34 616.77 184.04 617.47 184.58 618.17 C185.13 618.87 185.56 619.77 185.87 620.64 C186.19 621.50 186.35 622.47 186.45 623.35 C186.55 624.24 186.39 625.16 186.46 625.94 C186.54 626.73 186.58 627.32 186.91 628.07 C187.23 628.82 187.97 629.49 188.43 630.42 Z" fill="none" stroke="#81363a" stroke-width="3.46" opacity="0.35"/>
</g>
<g filter="url(#blur3)"><circle cx="173.11" cy="635.75" r="1.25" fill="#d1ada6" opacity="0.43"/>
<circle cx="179.02" cy="624.08" r="0.83" fill="#d1ada6" opacity="0.49"/>
<circle cx="181.06" cy="632.98" r="0.78" fill="#81363a" opacity="0.40"/>
<circle cx="181.97" cy="629.80" r="1.09" fill="#d1ada6" opacity="0.42"/>
<circle cx="185.46" cy="622.99" r="1.23" fill="#81363a" opacity="0.49"/>
<circle cx="177.94" cy="630.75" r="1.30" fill="#81363a" opacity="0.57"/>
<circle cx="184.15" cy="632.36" r="1.55" fill="#81363a" opacity="0.43"/>
<circle cx="180.99" cy="636.91" r="1.05" fill="#d1ada6" opacity="0.52"/>
<circle cx="180.59" cy="637.83" r="1.18" fill="#d1ada6" opacity="0.59"/>
<circle cx="179.44" cy="627.58" r="1.55" fill="#d1ada6" opacity="0.35"/>
<circle cx="172.23" cy="636.70" r="1.05" fill="#d1ada6" opacity="0.38"/>
<circle cx="181.92" cy="638.33" r="1.10" fill="#81363a" opacity="0.50"/>
<circle cx="174.58" cy="627.91" r="1.13" fill="#81363a" opacity="0.37"/>
<circle cx="172.36" cy="627.40" r="0.81" fill="#81363a" opacity="0.35"/>
<circle cx="177.70" cy="625.99" r="1.07" fill="#d1ada6" opacity="0.37"/>
<circle cx="174.06" cy="625.57" r="0.88" fill="#d1ada6" opacity="0.44"/>
<circle cx="183.86" cy="636.14" r="1.46" fill="#81363a" opacity="0.49"/>
<circle cx="174.67" cy="621.52" r="1.41" fill="#81363a" opacity="0.42"/>
<circle cx="184.35" cy="638.87" r="1.12" fill="#d1ada6" opacity="0.30"/>
<circle cx="175.46" cy="624.02" r="1.33" fill="#d1ada6" opacity="0.58"/>
</g></g>
<clipPath id="tc3"><path d="M219.02 632.06 C218.73 633.13 218.23 634.03 217.91 634.94 C217.59 635.84 217.34 636.61 217.08 637.48 C216.81 638.35 216.63 639.34 216.34 640.15 C216.04 640.96 215.68 641.73 215.30 642.36 C214.92 642.98 214.49 643.45 214.06 643.90 C213.63 644.36 213.19 644.86 212.75 645.09 C212.30 645.32 211.81 645.46 211.39 645.28 C210.98 645.10 210.60 644.49 210.26 643.99 C209.92 643.50 209.67 642.82 209.35 642.34 C209.03 641.85 208.66 641.58 208.34 641.09 C208.02 640.60 207.64 640.10 207.41 639.38 C207.18 638.67 207.08 637.70 206.95 636.80 C206.83 635.90 206.80 634.99 206.67 634.01 C206.54 633.03 206.27 632.06 206.16 630.94 C206.05 629.81 205.90 628.42 206.02 627.24 C206.15 626.07 206.51 624.80 206.91 623.90 C207.31 622.99 207.92 622.37 208.42 621.83 C208.92 621.29 209.44 620.95 209.91 620.68 C210.39 620.41 210.84 620.23 211.27 620.18 C211.70 620.14 212.10 620.37 212.48 620.43 C212.86 620.49 213.18 620.63 213.56 620.54 C213.94 620.46 214.34 620.06 214.77 619.92 C215.20 619.79 215.72 619.56 216.13 619.73 C216.55 619.91 216.93 620.43 217.28 620.96 C217.63 621.50 217.92 622.22 218.24 622.94 C218.55 623.67 218.96 624.38 219.20 625.31 C219.43 626.24 219.66 627.40 219.63 628.53 C219.60 629.65 219.30 630.99 219.02 632.06 Z"/></clipPath>
<path d="M220.11 633.18 C219.81 634.28 219.30 635.21 218.97 636.14 C218.64 637.07 218.38 637.87 218.11 638.76 C217.84 639.66 217.65 640.67 217.35 641.51 C217.04 642.35 216.67 643.14 216.28 643.78 C215.89 644.43 215.44 644.90 215.00 645.37 C214.57 645.84 214.11 646.36 213.65 646.59 C213.19 646.83 212.68 646.98 212.26 646.80 C211.83 646.61 211.44 645.97 211.09 645.47 C210.74 644.96 210.48 644.26 210.15 643.76 C209.82 643.26 209.45 642.98 209.11 642.47 C208.78 641.97 208.39 641.46 208.15 640.72 C207.91 639.98 207.81 638.98 207.69 638.06 C207.56 637.14 207.53 636.19 207.39 635.18 C207.25 634.18 206.98 633.18 206.87 632.02 C206.76 630.86 206.60 629.42 206.73 628.21 C206.86 627.01 207.23 625.70 207.64 624.77 C208.05 623.84 208.68 623.19 209.20 622.64 C209.71 622.09 210.24 621.74 210.73 621.46 C211.22 621.17 211.69 620.99 212.13 620.94 C212.57 620.90 212.98 621.13 213.38 621.20 C213.77 621.26 214.09 621.40 214.49 621.31 C214.88 621.23 215.29 620.81 215.74 620.67 C216.18 620.53 216.71 620.30 217.14 620.48 C217.57 620.66 217.96 621.20 218.32 621.75 C218.68 622.30 218.98 623.04 219.30 623.79 C219.63 624.53 220.05 625.26 220.29 626.22 C220.53 627.18 220.78 628.38 220.75 629.54 C220.71 630.70 220.41 632.08 220.11 633.18 Z" fill="#aaa8a4" opacity="0.4" filter="url(#blur1)"/>
<g filter="url(#blur1)"><path d="M219.02 632.06 C218.73 633.13 218.23 634.03 217.91 634.94 C217.59 635.84 217.34 636.61 217.08 637.48 C216.81 638.35 216.63 639.34 216.34 640.15 C216.04 640.96 215.68 641.73 215.30 642.36 C214.92 642.98 214.49 643.45 214.06 643.90 C213.63 644.36 213.19 644.86 212.75 645.09 C212.30 645.32 211.81 645.46 211.39 645.28 C210.98 645.10 210.60 644.49 210.26 643.99 C209.92 643.50 209.67 642.82 209.35 642.34 C209.03 641.85 208.66 641.58 208.34 641.09 C208.02 640.60 207.64 640.10 207.41 639.38 C207.18 638.67 207.08 637.70 206.95 636.80 C206.83 635.90 206.80 634.99 206.67 634.01 C206.54 633.03 206.27 632.06 206.16 630.94 C206.05 629.81 205.90 628.42 206.02 627.24 C206.15 626.07 206.51 624.80 206.91 623.90 C207.31 622.99 207.92 622.37 208.42 621.83 C208.92 621.29 209.44 620.95 209.91 620.68 C210.39 620.41 210.84 620.23 211.27 620.18 C211.70 620.14 212.10 620.37 212.48 620.43 C212.86 620.49 213.18 620.63 213.56 620.54 C213.94 620.46 214.34 620.06 214.77 619.92 C215.20 619.79 215.72 619.56 216.13 619.73 C216.55 619.91 216.93 620.43 217.28 620.96 C217.63 621.50 217.92 622.22 218.24 622.94 C218.55 623.67 218.96 624.38 219.20 625.31 C219.43 626.24 219.66 627.40 219.63 628.53 C219.60 629.65 219.30 630.99 219.02 632.06 Z" fill="#933e47"/></g>
<g clip-path="url(#tc3)"><g filter="url(#blur2)">
<ellipse cx="215.14" cy="630.96" rx="2.32" ry="4.75" fill="#6a1a23" opacity="0.62"/>
<ellipse cx="211.09" cy="626.30" rx="2.19" ry="3.07" fill="#6a1a23" opacity="0.62"/>
<ellipse cx="212.00" cy="633.26" rx="2.50" ry="3.07" fill="#be8484" opacity="0.55"/>
<ellipse cx="210.85" cy="627.32" rx="2.45" ry="2.81" fill="#be8484" opacity="0.55"/>
<path d="M219.02 632.06 C218.73 633.13 218.23 634.03 217.91 634.94 C217.59 635.84 217.34 636.61 217.08 637.48 C216.81 638.35 216.63 639.34 216.34 640.15 C216.04 640.96 215.68 641.73 215.30 642.36 C214.92 642.98 214.49 643.45 214.06 643.90 C213.63 644.36 213.19 644.86 212.75 645.09 C212.30 645.32 211.81 645.46 211.39 645.28 C210.98 645.10 210.60 644.49 210.26 643.99 C209.92 643.50 209.67 642.82 209.35 642.34 C209.03 641.85 208.66 641.58 208.34 641.09 C208.02 640.60 207.64 640.10 207.41 639.38 C207.18 638.67 207.08 637.70 206.95 636.80 C206.83 635.90 206.80 634.99 206.67 634.01 C206.54 633.03 206.27 632.06 206.16 630.94 C206.05 629.81 205.90 628.42 206.02 627.24 C206.15 626.07 206.51 624.80 206.91 623.90 C207.31 622.99 207.92 622.37 208.42 621.83 C208.92 621.29 209.44 620.95 209.91 620.68 C210.39 620.41 210.84 620.23 211.27 620.18 C211.70 620.14 212.10 620.37 212.48 620.43 C212.86 620.49 213.18 620.63 213.56 620.54 C213.94 620.46 214.34 620.06 214.77 619.92 C215.20 619.79 215.72 619.56 216.13 619.73 C216.55 619.91 216.93 620.43 217.28 620.96 C217.63 621.50 217.92 622.22 218.24 622.94 C218.55 623.67 218.96 624.38 219.20 625.31 C219.43 626.24 219.66 627.40 219.63 628.53 C219.60 629.65 219.30 630.99 219.02 632.06 Z" fill="none" stroke="#6a1a23" stroke-width="2.06" opacity="0.35"/>
</g>
<g filter="url(#blur3)"><circle cx="210.01" cy="622.89" r="1.17" fill="#6a1a23" opacity="0.36"/>
<circle cx="211.75" cy="636.61" r="1.07" fill="#be8484" opacity="0.54"/>
<circle cx="213.28" cy="638.67" r="1.03" fill="#6a1a23" opacity="0.47"/>
<circle cx="216.81" cy="634.09" r="0.93" fill="#6a1a23" opacity="0.38"/>
<circle cx="209.92" cy="642.16" r="1.51" fill="#be8484" opacity="0.46"/>
<circle cx="214.57" cy="627.04" r="0.83" fill="#6a1a23" opacity="0.43"/>
<circle cx="210.27" cy="622.73" r="0.79" fill="#be8484" opacity="0.54"/>
<circle cx="214.48" cy="622.51" r="1.60" fill="#6a1a23" opacity="0.60"/>
<circle cx="213.20" cy="637.46" r="0.96" fill="#be8484" opacity="0.46"/>
<circle cx="213.52" cy="629.18" r="1.10" fill="#be8484" opacity="0.52"/>
<circle cx="208.49" cy="630.29" r="1.28" fill="#6a1a23" opacity="0.56"/>
<circle cx="213.01" cy="632.93" r="0.91" fill="#be8484" opacity="0.42"/>
<circle cx="213.34" cy="634.71" r="1.13" fill="#6a1a23" opacity="0.40"/>
</g></g>
<clipPath id="tc4"><path d="M257.85 631.20 C257.74 632.06 257.25 632.89 256.96 633.68 C256.67 634.48 256.41 635.22 256.11 635.97 C255.80 636.72 255.57 637.56 255.12 638.19 C254.67 638.81 254.03 639.35 253.40 639.72 C252.77 640.08 252.00 640.20 251.34 640.36 C250.67 640.53 250.03 640.64 249.39 640.73 C248.75 640.81 248.13 640.90 247.50 640.88 C246.87 640.86 246.27 640.71 245.63 640.63 C244.99 640.55 244.37 640.48 243.65 640.39 C242.94 640.29 242.07 640.36 241.36 640.06 C240.64 639.77 239.83 639.31 239.39 638.64 C238.94 637.98 238.80 636.94 238.68 636.09 C238.56 635.23 238.75 634.33 238.68 633.52 C238.61 632.70 238.39 632.01 238.27 631.20 C238.14 630.39 237.85 629.50 237.93 628.69 C238.00 627.88 238.33 627.02 238.73 626.34 C239.14 625.67 239.81 625.17 240.34 624.63 C240.86 624.09 241.36 623.60 241.89 623.11 C242.42 622.61 242.91 622.03 243.50 621.65 C244.09 621.27 244.77 620.99 245.44 620.82 C246.11 620.64 246.81 620.61 247.50 620.61 C248.19 620.61 248.91 620.60 249.56 620.80 C250.22 621.00 250.89 621.35 251.43 621.81 C251.96 622.28 252.33 623.04 252.76 623.61 C253.20 624.17 253.51 624.72 254.03 625.21 C254.56 625.69 255.33 625.97 255.93 626.53 C256.53 627.09 257.32 627.76 257.64 628.54 C257.96 629.32 257.96 630.34 257.85 631.20 Z"/></clipPath>
<path d="M259.06 632.30 C258.94 633.18 258.44 634.04 258.14 634.86 C257.84 635.68 257.58 636.44 257.26 637.21 C256.95 637.98 256.71 638.85 256.25 639.50 C255.78 640.14 255.13 640.70 254.48 641.07 C253.83 641.45 253.04 641.57 252.35 641.74 C251.66 641.91 251.01 642.02 250.35 642.11 C249.69 642.20 249.05 642.29 248.40 642.27 C247.75 642.25 247.13 642.10 246.47 642.01 C245.81 641.93 245.17 641.86 244.44 641.76 C243.70 641.67 242.80 641.73 242.07 641.43 C241.34 641.13 240.50 640.65 240.04 639.97 C239.58 639.28 239.44 638.21 239.32 637.33 C239.19 636.45 239.39 635.52 239.31 634.69 C239.24 633.85 239.02 633.13 238.89 632.30 C238.76 631.47 238.46 630.54 238.54 629.71 C238.62 628.88 238.96 627.99 239.37 627.30 C239.79 626.60 240.48 626.09 241.02 625.53 C241.56 624.98 242.08 624.47 242.62 623.96 C243.16 623.45 243.67 622.86 244.28 622.46 C244.89 622.07 245.59 621.78 246.28 621.60 C246.96 621.43 247.69 621.40 248.40 621.40 C249.11 621.39 249.85 621.39 250.52 621.59 C251.20 621.80 251.90 622.15 252.45 622.63 C253.00 623.11 253.37 623.90 253.82 624.48 C254.27 625.06 254.59 625.62 255.13 626.13 C255.67 626.63 256.46 626.92 257.08 627.49 C257.70 628.06 258.51 628.76 258.84 629.56 C259.17 630.36 259.18 631.42 259.06 632.30 Z" fill="#aaa8a4" opacity="0.4" filter="url(#blur1)"/>
<g filter="url(#blur1)"><path d="M257.85 631.20 C257.74 632.06 257.25 632.89 256.96 633.68 C256.67 634.48 256.41 635.22 256.11 635.97 C255.80 636.72 255.57 637.56 255.12 638.19 C254.67 638.81 254.03 639.35 253.40 639.72 C252.77 640.08 252.00 640.20 251.34 640.36 C250.67 640.53 250.03 640.64 249.39 640.73 C248.75 640.81 248.13 640.90 247.50 640.88 C246.87 640.86 246.27 640.71 245.63 640.63 C244.99 640.55 244.37 640.48 243.65 640.39 C242.94 640.29 242.07 640.36 241.36 640.06 C240.64 639.77 239.83 639.31 239.39 638.64 C238.94 637.98 238.80 636.94 238.68 636.09 C238.56 635.23 238.75 634.33 238.68 633.52 C238.61 632.70 238.39 632.01 238.27 631.20 C238.14 630.39 237.85 629.50 237.93 628.69 C238.00 627.88 238.33 627.02 238.73 626.34 C239.14 625.67 239.81 625.17 240.34 624.63 C240.86 624.09 241.36 623.60 241.89 623.11 C242.42 622.61 242.91 622.03 243.50 621.65 C244.09 621.27 244.77 620.99 245.44 620.82 C246.11 620.64 246.81 620.61 247.50 620.61 C248.19 620.61 248.91 620.60 249.56 620.80 C250.22 621.00 250.89 621.35 251.43 621.81 C251.96 622.28 252.33 623.04 252.76 623.61 C253.20 624.17 253.51 624.72 254.03 625.21 C254.56 625.69 255.33 625.97 255.93 626.53 C256.53 627.09 257.32 627.76 257.64 628.54 C257.96 629.32 257.96 630.34 257.85 631.20 Z" fill="#9c565d"/></g>
<g clip-path="url(#tc4)"><g filter="url(#blur2)">
<ellipse cx="251.35" cy="634.78" rx="3.69" ry="2.63" fill="#752833" opacity="0.62"/>
<ellipse cx="246.08" cy="633.26" rx="3.83" ry="2.18" fill="#752833" opacity="0.62"/>
<ellipse cx="245.25" cy="632.61" rx="2.54" ry="3.54" fill="#c9a3a3" opacity="0.55"/>
<ellipse cx="246.24" cy="630.87" rx="3.93" ry="3.38" fill="#c9a3a3" opacity="0.55"/>
<path d="M257.85 631.20 C257.74 632.06 257.25 632.89 256.96 633.68 C256.67 634.48 256.41 635.22 256.11 635.97 C255.80 636.72 255.57 637.56 255.12 638.19 C254.67 638.81 254.03 639.35 253.40 639.72 C252.77 640.08 252.00 640.20 251.34 640.36 C250.67 640.53 250.03 640.64 249.39 640.73 C248.75 640.81 248.13 640.90 247.50 640.88 C246.87 640.86 246.27 640.71 245.63 640.63 C244.99 640.55 244.37 640.48 243.65 640.39 C242.94 640.29 242.07 640.36 241.36 640.06 C240.64 639.77 239.83 639.31 239.39 638.64 C238.94 637.98 238.80 636.94 238.68 636.09 C238.56 635.23 238.75 634.33 238.68 633.52 C238.61 632.70 238.39 632.01 238.27 631.20 C238.14 630.39 237.85 629.50 237.93 628.69 C238.00 627.88 238.33 627.02 238.73 626.34 C239.14 625.67 239.81 625.17 240.34 624.63 C240.86 624.09 241.36 623.60 241.89 623.11 C242.42 622.61 242.91 622.03 243.50 621.65 C244.09 621.27 244.77 620.99 245.44 620.82 C246.11 620.64 246.81 620.61 247.50 620.61 C248.19 620.61 248.91 620.60 249.56 620.80 C250.22 621.00 250.89 621.35 251.43 621.81 C251.96 622.28 252.33 623.04 252.76 623.61 C253.20 624.17 253.51 624.72 254.03 625.21 C254.56 625.69 255.33 625.97 255.93 626.53 C256.53 627.09 257.32 627.76 257.64 628.54 C257.96 629.32 257.96 630.34 257.85 631.20 Z" fill="none" stroke="#752833" stroke-width="3.25" opacity="0.35"/>
</g>
<g filter="url(#blur3)"><circle cx="245.88" cy="628.16" r="1.27" fill="#c9a3a3" opacity="0.42"/>
<circle cx="247.00" cy="631.82" r="0.86" fill="#752833" opacity="0.47"/>
<circle cx="241.55" cy="632.87" r="1.45" fill="#c9a3a3" opacity="0.38"/>
<circle cx="246.23" cy="638.45" r="1.59" fill="#752833" opacity="0.36"/>
<circle cx="252.57" cy="623.34" r="1.42" fill="#c9a3a3" opacity="0.46"/>
<circle cx="249.47" cy="638.28" r="0.86" fill="#c9a3a3" opacity="0.46"/>
<circle cx="240.65" cy="629.12" r="0.84" fill="#752833" opacity="0.49"/>
<circle cx="241.32" cy="625.28" r="1.43" fill="#752833" opacity="0.37"/>
<circle cx="241.14" cy="633.27" r="1.27" fill="#c9a3a3" opacity="0.46"/>
<circle cx="248.01" cy="634.96" r="1.46" fill="#752833" opacity="0.51"/>
<circle cx="252.83" cy="637.89" r="1.17" fill="#c9a3a3" opacity="0.46"/>
<circle cx="250.98" cy="632.55" r="1.53" fill="#752833" opacity="0.36"/>
<circle cx="247.27" cy="630.38" r="1.22" fill="#752833" opacity="0.48"/>
<circle cx="252.16" cy="633.12" r="1.21" fill="#752833" opacity="0.59"/>
<circle cx="249.53" cy="637.09" r="1.32" fill="#752833" opacity="0.36"/>
<circle cx="242.48" cy="628.31" r="0.78" fill="#752833" opacity="0.36"/>
</g></g>
<clipPath id="tc5"><path d="M109.46 680.15 C109.46 680.83 109.53 681.41 109.62 682.12 C109.72 682.83 109.93 683.58 110.03 684.42 C110.12 685.26 110.30 686.30 110.19 687.15 C110.07 687.99 109.77 688.88 109.36 689.48 C108.95 690.08 108.28 690.36 107.73 690.75 C107.18 691.13 106.62 691.38 106.05 691.79 C105.48 692.20 104.94 692.92 104.30 693.22 C103.66 693.52 102.86 693.82 102.21 693.59 C101.55 693.36 100.88 692.53 100.37 691.84 C99.86 691.14 99.56 690.08 99.12 689.42 C98.69 688.75 98.28 688.34 97.76 687.84 C97.24 687.34 96.52 687.03 96.02 686.43 C95.52 685.82 95.00 685.02 94.76 684.19 C94.51 683.36 94.47 682.33 94.54 681.46 C94.61 680.58 94.87 679.67 95.17 678.93 C95.48 678.18 95.97 677.54 96.39 676.99 C96.80 676.44 97.34 676.12 97.68 675.60 C98.02 675.09 98.21 674.61 98.43 673.91 C98.65 673.20 98.70 672.16 99.00 671.39 C99.31 670.63 99.75 669.74 100.27 669.30 C100.80 668.86 101.51 668.85 102.15 668.75 C102.80 668.65 103.42 668.79 104.12 668.72 C104.82 668.65 105.58 668.30 106.34 668.34 C107.10 668.38 108.07 668.40 108.69 668.95 C109.32 669.51 109.86 670.61 110.09 671.65 C110.33 672.69 110.18 674.13 110.10 675.19 C110.03 676.26 109.74 677.21 109.64 678.04 C109.53 678.87 109.46 679.47 109.46 680.15 Z"/></clipPath>
<path d="M110.55 681.24 C110.54 681.94 110.62 682.53 110.72 683.26 C110.81 683.99 111.04 684.77 111.13 685.63 C111.23 686.49 111.41 687.57 111.30 688.44 C111.18 689.31 110.87 690.23 110.45 690.84 C110.02 691.46 109.33 691.75 108.76 692.15 C108.19 692.54 107.62 692.80 107.03 693.22 C106.44 693.65 105.89 694.39 105.23 694.70 C104.57 695.01 103.75 695.32 103.08 695.08 C102.40 694.84 101.71 693.99 101.18 693.27 C100.65 692.55 100.35 691.47 99.90 690.78 C99.45 690.09 99.03 689.67 98.50 689.15 C97.97 688.64 97.22 688.32 96.70 687.70 C96.19 687.07 95.66 686.25 95.40 685.39 C95.15 684.54 95.11 683.48 95.18 682.58 C95.25 681.68 95.52 680.74 95.83 679.97 C96.15 679.21 96.65 678.55 97.08 677.98 C97.51 677.41 98.06 677.08 98.41 676.55 C98.76 676.02 98.96 675.53 99.19 674.80 C99.42 674.08 99.46 673.00 99.78 672.21 C100.09 671.42 100.54 670.52 101.09 670.06 C101.63 669.61 102.36 669.59 103.02 669.49 C103.68 669.39 104.33 669.53 105.05 669.46 C105.77 669.39 106.55 669.03 107.34 669.07 C108.12 669.11 109.11 669.13 109.76 669.70 C110.40 670.27 110.96 671.41 111.20 672.48 C111.44 673.55 111.29 675.03 111.21 676.13 C111.13 677.22 110.84 678.21 110.73 679.06 C110.62 679.91 110.55 680.54 110.55 681.24 Z" fill="#aaa8a4" opacity="0.4" filter="url(#blur1)"/>
<g filter="url(#blur1)"><path d="M109.46 680.15 C109.46 680.83 109.53 681.41 109.62 682.12 C109.72 682.83 109.93 683.58 110.03 684.42 C110.12 685.26 110.30 686.30 110.19 687.15 C110.07 687.99 109.77 688.88 109.36 689.48 C108.95 690.08 108.28 690.36 107.73 690.75 C107.18 691.13 106.62 691.38 106.05 691.79 C105.48 692.20 104.94 692.92 104.30 693.22 C103.66 693.52 102.86 693.82 102.21 693.59 C101.55 693.36 100.88 692.53 100.37 691.84 C99.86 691.14 99.56 690.08 99.12 689.42 C98.69 688.75 98.28 688.34 97.76 687.84 C97.24 687.34 96.52 687.03 96.02 686.43 C95.52 685.82 95.00 685.02 94.76 684.19 C94.51 683.36 94.47 682.33 94.54 681.46 C94.61 680.58 94.87 679.67 95.17 678.93 C95.48 678.18 95.97 677.54 96.39 676.99 C96.80 676.44 97.34 676.12 97.68 675.60 C98.02 675.09 98.21 674.61 98.43 673.91 C98.65 673.20 98.70 672.16 99.00 671.39 C99.31 670.63 99.75 669.74 100.27 669.30 C100.80 668.86 101.51 668.85 102.15 668.75 C102.80 668.65 103.42 668.79 104.12 668.72 C104.82 668.65 105.58 668.30 106.34 668.34 C107.10 668.38 108.07 668.40 108.69 668.95 C109.32 669.51 109.86 670.61 110.09 671.65 C110.33 672.69 110.18 674.13 110.10 675.19 C110.03 676.26 109.74 677.21 109.64 678.04 C109.53 678.87 109.46 679.47 109.46 680.15 Z" fill="#ab5c58"/></g>
<g clip-path="url(#tc5)"><g filter="url(#blur2)">
<ellipse cx="105.99" cy="679.17" rx="3.35" ry="4.41" fill="#853234" opacity="0.62"/>
<ellipse cx="101.81" cy="683.43" rx="2.60" ry="2.63" fill="#853234" opacity="0.62"/>
<ellipse cx="102.19" cy="681.13" rx="2.29" ry="3.75" fill="#c7948f" opacity="0.55"/>
<ellipse cx="102.20" cy="676.86" rx="2.76" ry="3.13" fill="#c7948f" opacity="0.55"/>
<path d="M109.46 680.15 C109.46 680.83 109.53 681.41 109.62 682.12 C109.72 682.83 109.93 683.58 110.03 684.42 C110.12 685.26 110.30 686.30 110.19 687.15 C110.07 687.99 109.77 688.88 109.36 689.48 C108.95 690.08 108.28 690.36 107.73 690.75 C107.18 691.13 106.62 691.38 106.05 691.79 C105.48 692.20 104.94 692.92 104.30 693.22 C103.66 693.52 102.86 693.82 102.21 693.59 C101.55 693.36 100.88 692.53 100.37 691.84 C99.86 691.14 99.56 690.08 99.12 689.42 C98.69 688.75 98.28 688.34 97.76 687.84 C97.24 687.34 96.52 687.03 96.02 686.43 C95.52 685.82 95.00 685.02 94.76 684.19 C94.51 683.36 94.47 682.33 94.54 681.46 C94.61 680.58 94.87 679.67 95.17 678.93 C95.48 678.18 95.97 677.54 96.39 676.99 C96.80 676.44 97.34 676.12 97.68 675.60 C98.02 675.09 98.21 674.61 98.43 673.91 C98.65 673.20 98.70 672.16 99.00 671.39 C99.31 670.63 99.75 669.74 100.27 669.30 C100.80 668.86 101.51 668.85 102.15 668.75 C102.80 668.65 103.42 668.79 104.12 668.72 C104.82 668.65 105.58 668.30 106.34 668.34 C107.10 668.38 108.07 668.40 108.69 668.95 C109.32 669.51 109.86 670.61 110.09 671.65 C110.33 672.69 110.18 674.13 110.10 675.19 C110.03 676.26 109.74 677.21 109.64 678.04 C109.53 678.87 109.46 679.47 109.46 680.15 Z" fill="none" stroke="#853234" stroke-width="2.87" opacity="0.35"/>
</g>
<g filter="url(#blur3)"><circle cx="102.68" cy="687.59" r="0.90" fill="#c7948f" opacity="0.60"/>
<circle cx="104.67" cy="689.01" r="1.17" fill="#c7948f" opacity="0.38"/>
<circle cx="108.83" cy="689.72" r="0.80" fill="#c7948f" opacity="0.55"/>
<circle cx="106.68" cy="687.57" r="1.58" fill="#c7948f" opacity="0.52"/>
<circle cx="101.79" cy="681.28" r="1.38" fill="#c7948f" opacity="0.49"/>
<circle cx="107.48" cy="680.98" r="1.57" fill="#c7948f" opacity="0.54"/>
<circle cx="108.86" cy="684.29" r="1.08" fill="#853234" opacity="0.39"/>
<circle cx="100.09" cy="673.96" r="1.13" fill="#853234" opacity="0.53"/>
<circle cx="108.02" cy="689.15" r="0.71" fill="#c7948f" opacity="0.36"/>
<circle cx="97.39" cy="687.36" r="1.35" fill="#853234" opacity="0.44"/>
<circle cx="104.30" cy="687.06" r="0.77" fill="#c7948f" opacity="0.49"/>
<circle cx="101.31" cy="689.32" r="0.92" fill="#853234" opacity="0.58"/>
<circle cx="102.07" cy="673.16" r="1.53" fill="#c7948f" opacity="0.45"/>
<circle cx="98.83" cy="687.32" r="0.92" fill="#853234" opacity="0.31"/>
<circle cx="108.20" cy="675.91" r="1.03" fill="#853234" opacity="0.51"/>
</g></g>
<clipPath id="tc6"><path d="M151.37 674.90 C151.24 675.43 151.02 675.84 150.98 676.37 C150.93 676.90 151.11 677.46 151.10 678.07 C151.10 678.68 151.14 679.44 150.95 680.02 C150.77 680.61 150.39 681.17 149.98 681.58 C149.56 682.00 149.01 682.29 148.48 682.51 C147.96 682.73 147.38 682.87 146.84 682.90 C146.29 682.92 145.72 682.80 145.20 682.68 C144.68 682.55 144.21 682.30 143.72 682.15 C143.22 682.00 142.73 681.95 142.23 681.79 C141.72 681.63 141.11 681.54 140.69 681.21 C140.28 680.87 139.92 680.31 139.73 679.77 C139.53 679.23 139.60 678.51 139.51 677.96 C139.42 677.40 139.37 676.94 139.18 676.43 C139.00 675.92 138.58 675.45 138.41 674.90 C138.24 674.35 138.07 673.66 138.16 673.11 C138.26 672.55 138.65 672.01 138.98 671.56 C139.31 671.10 139.78 670.79 140.13 670.39 C140.49 670.00 140.77 669.59 141.11 669.18 C141.46 668.77 141.78 668.30 142.19 667.93 C142.60 667.56 143.07 667.22 143.58 666.96 C144.08 666.69 144.64 666.43 145.20 666.34 C145.76 666.26 146.41 666.22 146.93 666.43 C147.46 666.63 147.97 667.11 148.36 667.57 C148.75 668.04 148.97 668.72 149.27 669.20 C149.58 669.68 149.85 670.05 150.19 670.46 C150.53 670.86 151.04 671.16 151.31 671.62 C151.58 672.08 151.79 672.67 151.80 673.22 C151.81 673.77 151.51 674.37 151.37 674.90 Z"/></clipPath>
<path d="M152.46 676.00 C152.32 676.54 152.10 676.97 152.05 677.52 C152.01 678.06 152.18 678.64 152.18 679.27 C152.18 679.89 152.22 680.67 152.03 681.28 C151.83 681.88 151.44 682.46 151.02 682.88 C150.59 683.31 150.02 683.61 149.48 683.84 C148.94 684.06 148.35 684.21 147.78 684.24 C147.22 684.27 146.64 684.14 146.10 684.01 C145.56 683.88 145.08 683.62 144.57 683.47 C144.06 683.32 143.56 683.26 143.04 683.10 C142.52 682.94 141.89 682.84 141.46 682.49 C141.03 682.15 140.67 681.58 140.46 681.02 C140.26 680.46 140.33 679.72 140.24 679.15 C140.15 678.58 140.09 678.10 139.90 677.58 C139.71 677.05 139.28 676.57 139.10 676.00 C138.93 675.43 138.75 674.73 138.85 674.15 C138.95 673.58 139.35 673.02 139.69 672.55 C140.03 672.09 140.52 671.76 140.88 671.36 C141.25 670.95 141.54 670.53 141.89 670.11 C142.25 669.69 142.58 669.20 143.00 668.82 C143.42 668.44 143.91 668.09 144.43 667.82 C144.94 667.54 145.52 667.28 146.10 667.19 C146.68 667.10 147.34 667.06 147.89 667.27 C148.43 667.48 148.95 667.98 149.36 668.45 C149.76 668.93 149.98 669.63 150.30 670.13 C150.61 670.62 150.89 671.01 151.24 671.42 C151.59 671.84 152.12 672.14 152.39 672.62 C152.67 673.09 152.89 673.70 152.90 674.27 C152.91 674.83 152.60 675.46 152.46 676.00 Z" fill="#aaa8a4" opacity="0.4" filter="url(#blur1)"/>
<g filter="url(#blur1)"><path d="M151.37 674.90 C151.24 675.43 151.02 675.84 150.98 676.37 C150.93 676.90 151.11 677.46 151.10 678.07 C151.10 678.68 151.14 679.44 150.95 680.02 C150.77 680.61 150.39 681.17 149.98 681.58 C149.56 682.00 149.01 682.29 148.48 682.51 C147.96 682.73 147.38 682.87 146.84 682.90 C146.29 682.92 145.72 682.80 145.20 682.68 C144.68 682.55 144.21 682.30 143.72 682.15 C143.22 682.00 142.73 681.95 142.23 681.79 C141.72 681.63 141.11 681.54 140.69 681.21 C140.28 680.87 139.92 680.31 139.73 679.77 C139.53 679.23 139.60 678.51 139.51 677.96 C139.42 677.40 139.37 676.94 139.18 676.43 C139.00 675.92 138.58 675.45 138.41 674.90 C138.24 674.35 138.07 673.66 138.16 673.11 C138.26 672.55 138.65 672.01 138.98 671.56 C139.31 671.10 139.78 670.79 140.13 670.39 C140.49 670.00 140.77 669.59 141.11 669.18 C141.46 668.77 141.78 668.30 142.19 667.93 C142.60 667.56 143.07 667.22 143.58 666.96 C144.08 666.69 144.64 666.43 145.20 666.34 C145.76 666.26 146.41 666.22 146.93 666.43 C147.46 666.63 147.97 667.11 148.36 667.57 C148.75 668.04 148.97 668.72 149.27 669.20 C149.58 669.68 149.85 670.05 150.19 670.46 C150.53 670.86 151.04 671.16 151.31 671.62 C151.58 672.08 151.79 672.67 151.80 673.22 C151.81 673.77 151.51 674.37 151.37 674.90 Z" fill="#a35054"/></g>
<g clip-path="url(#tc6)"><g filter="url(#blur2)">
<ellipse cx="146.51" cy="677.68" rx="1.75" ry="2.99" fill="#561c23" opacity="0.62"/>
<ellipse cx="147.19" cy="671.83" rx="2.84" ry="2.78" fill="#561c23" opacity="0.62"/>
<ellipse cx="143.63" cy="676.30" rx="2.23" ry="2.23" fill="#bf8e8a" opacity="0.55"/>
<ellipse cx="145.72" cy="674.89" rx="2.76" ry="1.97" fill="#bf8e8a" opacity="0.55"/>
<path d="M151.37 674.90 C151.24 675.43 151.02 675.84 150.98 676.37 C150.93 676.90 151.11 677.46 151.10 678.07 C151.10 678.68 151.14 679.44 150.95 680.02 C150.77 680.61 150.39 681.17 149.98 681.58 C149.56 682.00 149.01 682.29 148.48 682.51 C147.96 682.73 147.38 682.87 146.84 682.90 C146.29 682.92 145.72 682.80 145.20 682.68 C144.68 682.55 144.21 682.30 143.72 682.15 C143.22 682.00 142.73 681.95 142.23 681.79 C141.72 681.63 141.11 681.54 140.69 681.21 C140.28 680.87 139.92 680.31 139.73 679.77 C139.53 679.23 139.60 678.51 139.51 677.96 C139.42 677.40 139.37 676.94 139.18 676.43 C139.00 675.92 138.58 675.45 138.41 674.90 C138.24 674.35 138.07 673.66 138.16 673.11 C138.26 672.55 138.65 672.01 138.98 671.56 C139.31 671.10 139.78 670.79 140.13 670.39 C140.49 670.00 140.77 669.59 141.11 669.18 C141.46 668.77 141.78 668.30 142.19 667.93 C142.60 667.56 143.07 667.22 143.58 666.96 C144.08 666.69 144.64 666.43 145.20 666.34 C145.76 666.26 146.41 666.22 146.93 666.43 C147.46 666.63 147.97 667.11 148.36 667.57 C148.75 668.04 148.97 668.72 149.27 669.20 C149.58 669.68 149.85 670.05 150.19 670.46 C150.53 670.86 151.04 671.16 151.31 671.62 C151.58 672.08 151.79 672.67 151.80 673.22 C151.81 673.77 151.51 674.37 151.37 674.90 Z" fill="none" stroke="#561c23" stroke-width="2.42" opacity="0.35"/>
</g>
<g filter="url(#blur3)"><circle cx="145.02" cy="670.43" r="1.14" fill="#561c23" opacity="0.32"/>
<circle cx="143.53" cy="678.78" r="1.09" fill="#561c23" opacity="0.31"/>
<circle cx="147.82" cy="669.97" r="1.37" fill="#561c23" opacity="0.43"/>
<circle cx="145.79" cy="676.25" r="1.08" fill="#561c23" opacity="0.35"/>
<circle cx="141.25" cy="671.25" r="0.99" fill="#561c23" opacity="0.57"/>
<circle cx="142.04" cy="670.36" r="0.82" fill="#561c23" opacity="0.55"/>
<circle cx="150.20" cy="678.17" r="1.19" fill="#bf8e8a" opacity="0.44"/>
<circle cx="143.93" cy="676.78" r="1.17" fill="#561c23" opacity="0.42"/>
</g></g>
<clipPath id="tc7"><path d="M190.65 677.24 C190.55 677.73 190.47 678.20 190.34 678.68 C190.20 679.17 190.18 679.74 189.84 680.15 C189.49 680.56 188.90 680.95 188.26 681.16 C187.61 681.37 186.68 681.35 185.96 681.40 C185.25 681.44 184.57 681.37 183.96 681.41 C183.35 681.46 182.86 681.59 182.29 681.68 C181.71 681.77 181.14 681.89 180.51 681.96 C179.88 682.03 179.22 682.08 178.50 682.09 C177.78 682.09 176.95 682.13 176.21 682.00 C175.46 681.88 174.59 681.67 174.02 681.33 C173.45 680.98 173.05 680.42 172.78 679.93 C172.52 679.44 172.56 678.87 172.43 678.38 C172.29 677.89 172.12 677.46 171.98 676.99 C171.84 676.52 171.53 676.03 171.57 675.58 C171.61 675.12 171.87 674.63 172.22 674.25 C172.56 673.87 173.22 673.60 173.64 673.28 C174.06 672.95 174.40 672.67 174.75 672.30 C175.09 671.93 175.26 671.42 175.68 671.05 C176.11 670.68 176.65 670.28 177.27 670.08 C177.89 669.88 178.69 669.84 179.40 669.84 C180.11 669.85 180.87 669.97 181.55 670.11 C182.23 670.26 182.91 670.47 183.49 670.73 C184.07 670.99 184.56 671.36 185.05 671.67 C185.54 671.98 185.89 672.30 186.42 672.58 C186.95 672.85 187.61 673.01 188.22 673.30 C188.84 673.58 189.66 673.89 190.11 674.30 C190.56 674.71 190.83 675.26 190.92 675.75 C191.01 676.24 190.75 676.76 190.65 677.24 Z"/></clipPath>
<path d="M191.84 678.37 C191.74 678.87 191.66 679.35 191.52 679.85 C191.38 680.35 191.36 680.94 191.00 681.36 C190.64 681.78 190.04 682.19 189.37 682.40 C188.71 682.61 187.75 682.60 187.01 682.65 C186.27 682.69 185.58 682.62 184.95 682.66 C184.32 682.71 183.82 682.84 183.23 682.94 C182.63 683.03 182.05 683.16 181.40 683.23 C180.75 683.30 180.07 683.35 179.33 683.36 C178.59 683.36 177.73 683.40 176.96 683.27 C176.19 683.14 175.29 682.93 174.71 682.57 C174.12 682.22 173.71 681.64 173.44 681.14 C173.16 680.63 173.21 680.04 173.07 679.54 C172.93 679.03 172.75 678.59 172.61 678.11 C172.46 677.63 172.15 677.12 172.19 676.65 C172.23 676.18 172.50 675.68 172.85 675.29 C173.21 674.89 173.88 674.62 174.32 674.28 C174.75 673.95 175.11 673.66 175.46 673.28 C175.81 672.89 175.99 672.37 176.43 671.99 C176.86 671.61 177.42 671.20 178.06 670.99 C178.69 670.78 179.52 670.74 180.25 670.75 C180.99 670.75 181.76 670.87 182.47 671.03 C183.17 671.18 183.87 671.39 184.47 671.66 C185.07 671.92 185.57 672.31 186.07 672.63 C186.57 672.94 186.94 673.28 187.48 673.56 C188.03 673.84 188.70 674.01 189.34 674.30 C189.97 674.60 190.82 674.92 191.28 675.34 C191.75 675.76 192.02 676.33 192.11 676.83 C192.21 677.34 191.94 677.87 191.84 678.37 Z" fill="#aaa8a4" opacity="0.4" filter="url(#blur1)"/>
<g filter="url(#blur1)"><path d="M190.65 677.24 C190.55 677.73 190.47 678.20 190.34 678.68 C190.20 679.17 190.18 679.74 189.84 680.15 C189.49 680.56 188.90 680.95 188.26 681.16 C187.61 681.37 186.68 681.35 185.96 681.40 C185.25 681.44 184.57 681.37 183.96 681.41 C183.35 681.46 182.86 681.59 182.29 681.68 C181.71 681.77 181.14 681.89 180.51 681.96 C179.88 682.03 179.22 682.08 178.50 682.09 C177.78 682.09 176.95 682.13 176.21 682.00 C175.46 681.88 174.59 681.67 174.02 681.33 C173.45 680.98 173.05 680.42 172.78 679.93 C172.52 679.44 172.56 678.87 172.43 678.38 C172.29 677.89 172.12 677.46 171.98 676.99 C171.84 676.52 171.53 676.03 171.57 675.58 C171.61 675.12 171.87 674.63 172.22 674.25 C172.56 673.87 173.22 673.60 173.64 673.28 C174.06 672.95 174.40 672.67 174.75 672.30 C175.09 671.93 175.26 671.42 175.68 671.05 C176.11 670.68 176.65 670.28 177.27 670.08 C177.89 669.88 178.69 669.84 179.40 669.84 C180.11 669.85 180.87 669.97 181.55 670.11 C182.23 670.26 182.91 670.47 183.49 670.73 C184.07 670.99 184.56 671.36 185.05 671.67 C185.54 671.98 185.89 672.30 186.42 672.58 C186.95 672.85 187.61 673.01 188.22 673.30 C188.84 673.58 189.66 673.89 190.11 674.30 C190.56 674.71 190.83 675.26 190.92 675.75 C191.01 676.24 190.75 676.76 190.65 677.24 Z" fill="#a35c44"/></g>
<g clip-path="url(#tc7)"><g filter="url(#blur2)">
<ellipse cx="178.90" cy="676.85" rx="4.09" ry="2.06" fill="#8f4231" opacity="0.62"/>
<ellipse cx="180.86" cy="675.33" rx="2.55" ry="2.48" fill="#8f4231" opacity="0.62"/>
<ellipse cx="182.29" cy="674.62" rx="3.39" ry="2.12" fill="#c68e79" opacity="0.55"/>
<ellipse cx="183.20" cy="674.74" rx="2.88" ry="1.47" fill="#c68e79" opacity="0.55"/>
<path d="M190.65 677.24 C190.55 677.73 190.47 678.20 190.34 678.68 C190.20 679.17 190.18 679.74 189.84 680.15 C189.49 680.56 188.90 680.95 188.26 681.16 C187.61 681.37 186.68 681.35 185.96 681.40 C185.25 681.44 184.57 681.37 183.96 681.41 C183.35 681.46 182.86 681.59 182.29 681.68 C181.71 681.77 181.14 681.89 180.51 681.96 C179.88 682.03 179.22 682.08 178.50 682.09 C177.78 682.09 176.95 682.13 176.21 682.00 C175.46 681.88 174.59 681.67 174.02 681.33 C173.45 680.98 173.05 680.42 172.78 679.93 C172.52 679.44 172.56 678.87 172.43 678.38 C172.29 677.89 172.12 677.46 171.98 676.99 C171.84 676.52 171.53 676.03 171.57 675.58 C171.61 675.12 171.87 674.63 172.22 674.25 C172.56 673.87 173.22 673.60 173.64 673.28 C174.06 672.95 174.40 672.67 174.75 672.30 C175.09 671.93 175.26 671.42 175.68 671.05 C176.11 670.68 176.65 670.28 177.27 670.08 C177.89 669.88 178.69 669.84 179.40 669.84 C180.11 669.85 180.87 669.97 181.55 670.11 C182.23 670.26 182.91 670.47 183.49 670.73 C184.07 670.99 184.56 671.36 185.05 671.67 C185.54 671.98 185.89 672.30 186.42 672.58 C186.95 672.85 187.61 673.01 188.22 673.30 C188.84 673.58 189.66 673.89 190.11 674.30 C190.56 674.71 190.83 675.26 190.92 675.75 C191.01 676.24 190.75 676.76 190.65 677.24 Z" fill="none" stroke="#8f4231" stroke-width="2.17" opacity="0.35"/>
</g>
<g filter="url(#blur3)"><circle cx="182.32" cy="680.59" r="0.83" fill="#c68e79" opacity="0.41"/>
<circle cx="174.77" cy="673.04" r="0.84" fill="#8f4231" opacity="0.38"/>
<circle cx="177.22" cy="675.63" r="0.91" fill="#c68e79" opacity="0.48"/>
<circle cx="179.53" cy="674.33" r="1.40" fill="#8f4231" opacity="0.55"/>
<circle cx="184.42" cy="680.26" r="0.97" fill="#c68e79" opacity="0.37"/>
<circle cx="181.98" cy="677.48" r="1.52" fill="#c68e79" opacity="0.54"/>
<circle cx="188.01" cy="678.13" r="1.42" fill="#c68e79" opacity="0.45"/>
<circle cx="185.39" cy="680.12" r="1.01" fill="#c68e79" opacity="0.41"/>
<circle cx="182.66" cy="677.06" r="1.05" fill="#8f4231" opacity="0.52"/>
</g></g>
<clipPath id="tc8"><path d="M219.28 678.30 C219.34 678.84 219.22 679.44 219.09 679.98 C218.97 680.51 218.77 681.06 218.51 681.53 C218.25 682.01 217.93 682.48 217.54 682.81 C217.15 683.15 216.62 683.36 216.16 683.53 C215.70 683.71 215.22 683.76 214.79 683.88 C214.35 684.00 213.97 684.18 213.56 684.26 C213.14 684.34 212.71 684.44 212.30 684.38 C211.89 684.32 211.50 684.06 211.12 683.89 C210.74 683.72 210.46 683.47 210.05 683.36 C209.63 683.25 209.16 683.33 208.65 683.25 C208.14 683.16 207.46 683.13 207.00 682.86 C206.55 682.59 206.14 682.11 205.91 681.63 C205.68 681.14 205.67 680.50 205.62 679.95 C205.57 679.39 205.58 678.84 205.62 678.30 C205.65 677.76 205.67 677.20 205.82 676.70 C205.96 676.20 206.22 675.71 206.50 675.28 C206.78 674.86 207.15 674.50 207.48 674.15 C207.81 673.79 208.13 673.43 208.49 673.14 C208.86 672.86 209.26 672.57 209.69 672.43 C210.11 672.30 210.60 672.33 211.03 672.31 C211.47 672.30 211.87 672.38 212.30 672.35 C212.73 672.31 213.15 672.13 213.61 672.11 C214.06 672.08 214.61 672.02 215.02 672.20 C215.43 672.37 215.80 672.79 216.09 673.16 C216.38 673.54 216.51 674.05 216.78 674.44 C217.04 674.83 217.33 675.13 217.66 675.51 C217.99 675.89 218.47 676.25 218.74 676.71 C219.01 677.18 219.22 677.76 219.28 678.30 Z"/></clipPath>
<path d="M220.39 679.40 C220.45 679.96 220.33 680.57 220.20 681.13 C220.07 681.68 219.87 682.24 219.60 682.73 C219.33 683.22 219.00 683.71 218.59 684.05 C218.19 684.39 217.65 684.61 217.18 684.79 C216.71 684.98 216.21 685.02 215.76 685.15 C215.31 685.27 214.92 685.45 214.50 685.54 C214.07 685.62 213.62 685.72 213.20 685.66 C212.78 685.60 212.37 685.33 211.98 685.15 C211.60 684.98 211.30 684.72 210.88 684.61 C210.45 684.50 209.96 684.58 209.44 684.49 C208.92 684.41 208.21 684.38 207.74 684.10 C207.27 683.82 206.86 683.33 206.62 682.83 C206.38 682.32 206.37 681.67 206.32 681.10 C206.27 680.53 206.28 679.96 206.32 679.40 C206.35 678.84 206.37 678.27 206.52 677.75 C206.67 677.23 206.94 676.73 207.22 676.29 C207.51 675.85 207.89 675.49 208.24 675.12 C208.58 674.75 208.90 674.38 209.28 674.09 C209.66 673.79 210.07 673.50 210.51 673.36 C210.94 673.22 211.45 673.25 211.90 673.23 C212.35 673.22 212.76 673.30 213.20 673.27 C213.64 673.23 214.08 673.05 214.55 673.02 C215.01 673.00 215.57 672.93 216.00 673.11 C216.43 673.30 216.80 673.72 217.11 674.11 C217.41 674.49 217.54 675.02 217.81 675.43 C218.08 675.83 218.38 676.14 218.72 676.53 C219.06 676.92 219.55 677.29 219.83 677.76 C220.11 678.24 220.33 678.84 220.39 679.40 Z" fill="#aaa8a4" opacity="0.4" filter="url(#blur1)"/>
<g filter="url(#blur1)"><path d="M219.28 678.30 C219.34 678.84 219.22 679.44 219.09 679.98 C218.97 680.51 218.77 681.06 218.51 681.53 C218.25 682.01 217.93 682.48 217.54 682.81 C217.15 683.15 216.62 683.36 216.16 683.53 C215.70 683.71 215.22 683.76 214.79 683.88 C214.35 684.00 213.97 684.18 213.56 684.26 C213.14 684.34 212.71 684.44 212.30 684.38 C211.89 684.32 211.50 684.06 211.12 683.89 C210.74 683.72 210.46 683.47 210.05 683.36 C209.63 683.25 209.16 683.33 208.65 683.25 C208.14 683.16 207.46 683.13 207.00 682.86 C206.55 682.59 206.14 682.11 205.91 681.63 C205.68 681.14 205.67 680.50 205.62 679.95 C205.57 679.39 205.58 678.84 205.62 678.30 C205.65 677.76 205.67 677.20 205.82 676.70 C205.96 676.20 206.22 675.71 206.50 675.28 C206.78 674.86 207.15 674.50 207.48 674.15 C207.81 673.79 208.13 673.43 208.49 673.14 C208.86 672.86 209.26 672.57 209.69 672.43 C210.11 672.30 210.60 672.33 211.03 672.31 C211.47 672.30 211.87 672.38 212.30 672.35 C212.73 672.31 213.15 672.13 213.61 672.11 C214.06 672.08 214.61 672.02 215.02 672.20 C215.43 672.37 215.80 672.79 216.09 673.16 C216.38 673.54 216.51 674.05 216.78 674.44 C217.04 674.83 217.33 675.13 217.66 675.51 C217.99 675.89 218.47 676.25 218.74 676.71 C219.01 677.18 219.22 677.76 219.28 678.30 Z" fill="#b47265"/></g>
<g clip-path="url(#tc8)"><g filter="url(#blur2)">
<ellipse cx="210.24" cy="680.20" rx="2.64" ry="1.86" fill="#9c5a52" opacity="0.62"/>
<ellipse cx="211.05" cy="676.47" rx="1.65" ry="1.63" fill="#9c5a52" opacity="0.62"/>
<ellipse cx="210.94" cy="679.00" rx="1.79" ry="1.59" fill="#d0a396" opacity="0.55"/>
<ellipse cx="213.87" cy="679.28" rx="1.68" ry="1.77" fill="#d0a396" opacity="0.55"/>
<path d="M219.28 678.30 C219.34 678.84 219.22 679.44 219.09 679.98 C218.97 680.51 218.77 681.06 218.51 681.53 C218.25 682.01 217.93 682.48 217.54 682.81 C217.15 683.15 216.62 683.36 216.16 683.53 C215.70 683.71 215.22 683.76 214.79 683.88 C214.35 684.00 213.97 684.18 213.56 684.26 C213.14 684.34 212.71 684.44 212.30 684.38 C211.89 684.32 211.50 684.06 211.12 683.89 C210.74 683.72 210.46 683.47 210.05 683.36 C209.63 683.25 209.16 683.33 208.65 683.25 C208.14 683.16 207.46 683.13 207.00 682.86 C206.55 682.59 206.14 682.11 205.91 681.63 C205.68 681.14 205.67 680.50 205.62 679.95 C205.57 679.39 205.58 678.84 205.62 678.30 C205.65 677.76 205.67 677.20 205.82 676.70 C205.96 676.20 206.22 675.71 206.50 675.28 C206.78 674.86 207.15 674.50 207.48 674.15 C207.81 673.79 208.13 673.43 208.49 673.14 C208.86 672.86 209.26 672.57 209.69 672.43 C210.11 672.30 210.60 672.33 211.03 672.31 C211.47 672.30 211.87 672.38 212.30 672.35 C212.73 672.31 213.15 672.13 213.61 672.11 C214.06 672.08 214.61 672.02 215.02 672.20 C215.43 672.37 215.80 672.79 216.09 673.16 C216.38 673.54 216.51 674.05 216.78 674.44 C217.04 674.83 217.33 675.13 217.66 675.51 C217.99 675.89 218.47 676.25 218.74 676.71 C219.01 677.18 219.22 677.76 219.28 678.30 Z" fill="none" stroke="#9c5a52" stroke-width="2.17" opacity="0.35"/>
</g>
<g filter="url(#blur3)"><circle cx="217.15" cy="677.13" r="1.32" fill="#d0a396" opacity="0.49"/>
<circle cx="207.89" cy="680.69" r="1.10" fill="#d0a396" opacity="0.40"/>
<circle cx="214.51" cy="683.54" r="0.88" fill="#d0a396" opacity="0.53"/>
<circle cx="212.20" cy="683.52" r="1.14" fill="#d0a396" opacity="0.57"/>
<circle cx="216.12" cy="674.14" r="1.55" fill="#9c5a52" opacity="0.37"/>
<circle cx="211.69" cy="679.68" r="1.41" fill="#9c5a52" opacity="0.35"/>
</g></g>
<clipPath id="tc9"><path d="M253.16 675.50 C253.15 675.77 253.11 676.07 252.92 676.30 C252.73 676.52 252.35 676.72 252.04 676.86 C251.73 677.00 251.32 677.04 251.06 677.16 C250.81 677.29 250.68 677.41 250.52 677.60 C250.35 677.79 250.28 678.09 250.07 678.28 C249.87 678.48 249.59 678.68 249.29 678.79 C249.00 678.90 248.64 678.90 248.30 678.92 C247.96 678.94 247.62 678.93 247.27 678.91 C246.92 678.90 246.53 678.89 246.19 678.82 C245.84 678.74 245.49 678.61 245.19 678.45 C244.89 678.29 244.63 678.07 244.40 677.85 C244.17 677.63 243.94 677.39 243.80 677.14 C243.67 676.88 243.57 676.59 243.59 676.31 C243.61 676.04 243.79 675.75 243.92 675.50 C244.05 675.25 244.27 675.05 244.37 674.82 C244.47 674.59 244.45 674.36 244.52 674.12 C244.58 673.88 244.59 673.57 244.77 673.37 C244.94 673.17 245.27 673.01 245.57 672.91 C245.87 672.82 246.27 672.85 246.59 672.81 C246.90 672.77 247.15 672.74 247.44 672.65 C247.73 672.57 247.99 672.40 248.30 672.31 C248.61 672.22 248.98 672.13 249.32 672.12 C249.67 672.11 250.03 672.17 250.38 672.24 C250.72 672.32 251.08 672.43 251.39 672.57 C251.71 672.72 252.03 672.89 252.26 673.11 C252.49 673.33 252.65 673.61 252.77 673.87 C252.90 674.13 252.95 674.42 253.01 674.69 C253.08 674.96 253.18 675.23 253.16 675.50 Z"/></clipPath>
<path d="M254.21 676.60 C254.19 676.88 254.15 677.19 253.96 677.42 C253.76 677.65 253.37 677.85 253.05 678.00 C252.73 678.15 252.31 678.19 252.05 678.31 C251.78 678.44 251.65 678.57 251.48 678.76 C251.31 678.96 251.24 679.26 251.03 679.47 C250.82 679.67 250.53 679.88 250.22 679.99 C249.92 680.10 249.55 680.10 249.20 680.12 C248.85 680.15 248.50 680.14 248.14 680.12 C247.77 680.10 247.38 680.09 247.02 680.01 C246.67 679.94 246.30 679.80 245.99 679.64 C245.69 679.47 245.42 679.25 245.18 679.02 C244.94 678.80 244.71 678.55 244.57 678.29 C244.43 678.02 244.32 677.72 244.34 677.44 C244.37 677.16 244.55 676.86 244.69 676.60 C244.82 676.34 245.04 676.14 245.15 675.90 C245.25 675.66 245.23 675.43 245.30 675.18 C245.37 674.93 245.38 674.62 245.56 674.41 C245.74 674.20 246.07 674.03 246.39 673.93 C246.70 673.84 247.11 673.87 247.43 673.83 C247.76 673.79 248.02 673.75 248.31 673.67 C248.61 673.58 248.88 673.40 249.20 673.31 C249.52 673.22 249.90 673.13 250.25 673.12 C250.61 673.11 250.98 673.17 251.34 673.25 C251.69 673.32 252.06 673.43 252.38 673.58 C252.71 673.73 253.05 673.92 253.28 674.14 C253.52 674.36 253.68 674.65 253.81 674.92 C253.94 675.19 253.99 675.48 254.05 675.76 C254.12 676.04 254.23 676.32 254.21 676.60 Z" fill="#aaa8a4" opacity="0.4" filter="url(#blur1)"/>
<g filter="url(#blur1)"><path d="M253.16 675.50 C253.15 675.77 253.11 676.07 252.92 676.30 C252.73 676.52 252.35 676.72 252.04 676.86 C251.73 677.00 251.32 677.04 251.06 677.16 C250.81 677.29 250.68 677.41 250.52 677.60 C250.35 677.79 250.28 678.09 250.07 678.28 C249.87 678.48 249.59 678.68 249.29 678.79 C249.00 678.90 248.64 678.90 248.30 678.92 C247.96 678.94 247.62 678.93 247.27 678.91 C246.92 678.90 246.53 678.89 246.19 678.82 C245.84 678.74 245.49 678.61 245.19 678.45 C244.89 678.29 244.63 678.07 244.40 677.85 C244.17 677.63 243.94 677.39 243.80 677.14 C243.67 676.88 243.57 676.59 243.59 676.31 C243.61 676.04 243.79 675.75 243.92 675.50 C244.05 675.25 244.27 675.05 244.37 674.82 C244.47 674.59 244.45 674.36 244.52 674.12 C244.58 673.88 244.59 673.57 244.77 673.37 C244.94 673.17 245.27 673.01 245.57 672.91 C245.87 672.82 246.27 672.85 246.59 672.81 C246.90 672.77 247.15 672.74 247.44 672.65 C247.73 672.57 247.99 672.40 248.30 672.31 C248.61 672.22 248.98 672.13 249.32 672.12 C249.67 672.11 250.03 672.17 250.38 672.24 C250.72 672.32 251.08 672.43 251.39 672.57 C251.71 672.72 252.03 672.89 252.26 673.11 C252.49 673.33 252.65 673.61 252.77 673.87 C252.90 674.13 252.95 674.42 253.01 674.69 C253.08 674.96 253.18 675.23 253.16 675.50 Z" fill="#c37a5c"/></g>
<g clip-path="url(#tc9)"><g filter="url(#blur2)">
<ellipse cx="247.41" cy="675.38" rx="1.62" ry="0.75" fill="#a35243" opacity="0.62"/>
<ellipse cx="248.31" cy="676.90" rx="1.63" ry="1.03" fill="#a35243" opacity="0.62"/>
<ellipse cx="249.04" cy="674.97" rx="1.37" ry="1.25" fill="#d69e89" opacity="0.55"/>
<ellipse cx="247.21" cy="675.94" rx="1.92" ry="1.05" fill="#d69e89" opacity="0.55"/>
<path d="M253.16 675.50 C253.15 675.77 253.11 676.07 252.92 676.30 C252.73 676.52 252.35 676.72 252.04 676.86 C251.73 677.00 251.32 677.04 251.06 677.16 C250.81 677.29 250.68 677.41 250.52 677.60 C250.35 677.79 250.28 678.09 250.07 678.28 C249.87 678.48 249.59 678.68 249.29 678.79 C249.00 678.90 248.64 678.90 248.30 678.92 C247.96 678.94 247.62 678.93 247.27 678.91 C246.92 678.90 246.53 678.89 246.19 678.82 C245.84 678.74 245.49 678.61 245.19 678.45 C244.89 678.29 244.63 678.07 244.40 677.85 C244.17 677.63 243.94 677.39 243.80 677.14 C243.67 676.88 243.57 676.59 243.59 676.31 C243.61 676.04 243.79 675.75 243.92 675.50 C244.05 675.25 244.27 675.05 244.37 674.82 C244.47 674.59 244.45 674.36 244.52 674.12 C244.58 673.88 244.59 673.57 244.77 673.37 C244.94 673.17 245.27 673.01 245.57 672.91 C245.87 672.82 246.27 672.85 246.59 672.81 C246.90 672.77 247.15 672.74 247.44 672.65 C247.73 672.57 247.99 672.40 248.30 672.31 C248.61 672.22 248.98 672.13 249.32 672.12 C249.67 672.11 250.03 672.17 250.38 672.24 C250.72 672.32 251.08 672.43 251.39 672.57 C251.71 672.72 252.03 672.89 252.26 673.11 C252.49 673.33 252.65 673.61 252.77 673.87 C252.90 674.13 252.95 674.42 253.01 674.69 C253.08 674.96 253.18 675.23 253.16 675.50 Z" fill="none" stroke="#a35243" stroke-width="1.19" opacity="0.35"/>
</g>
<g filter="url(#blur3)"><circle cx="248.42" cy="673.14" r="1.40" fill="#a35243" opacity="0.52"/>
<circle cx="249.18" cy="673.53" r="1.59" fill="#d69e89" opacity="0.56"/>
</g></g>
<clipPath id="tc10"><path d="M113.39 726.22 C112.77 726.72 111.95 727.01 111.33 727.33 C110.70 727.66 110.11 727.79 109.63 728.17 C109.15 728.54 108.88 729.07 108.44 729.57 C107.99 730.06 107.54 730.79 106.98 731.14 C106.41 731.50 105.69 731.64 105.05 731.69 C104.40 731.74 103.79 731.47 103.10 731.44 C102.42 731.41 101.73 731.52 100.95 731.52 C100.17 731.51 99.14 731.70 98.41 731.43 C97.67 731.16 96.91 730.60 96.56 729.90 C96.20 729.20 96.25 728.10 96.31 727.23 C96.36 726.37 96.74 725.48 96.91 724.73 C97.08 723.98 97.24 723.38 97.34 722.74 C97.44 722.10 97.46 721.52 97.51 720.88 C97.57 720.24 97.57 719.59 97.66 718.88 C97.75 718.18 97.77 717.34 98.03 716.63 C98.30 715.92 98.69 715.12 99.24 714.64 C99.78 714.17 100.61 713.94 101.31 713.78 C102.01 713.62 102.75 713.77 103.43 713.68 C104.10 713.58 104.68 713.37 105.35 713.23 C106.02 713.08 106.77 712.73 107.42 712.81 C108.08 712.88 108.77 713.24 109.27 713.68 C109.77 714.12 110.03 714.93 110.43 715.45 C110.83 715.97 111.14 716.39 111.67 716.79 C112.20 717.18 113.01 717.36 113.63 717.82 C114.25 718.28 115.01 718.85 115.38 719.54 C115.75 720.23 115.90 721.14 115.85 721.94 C115.79 722.75 115.46 723.63 115.05 724.34 C114.64 725.06 114.01 725.72 113.39 726.22 Z"/></clipPath>
<path d="M114.54 727.43 C113.90 727.95 113.06 728.25 112.41 728.58 C111.77 728.91 111.16 729.05 110.66 729.44 C110.17 729.82 109.89 730.37 109.43 730.88 C108.98 731.39 108.51 732.14 107.93 732.51 C107.35 732.87 106.61 733.02 105.94 733.07 C105.28 733.12 104.64 732.85 103.94 732.82 C103.24 732.79 102.53 732.89 101.72 732.89 C100.92 732.89 99.86 733.08 99.10 732.80 C98.35 732.53 97.56 731.94 97.20 731.22 C96.83 730.50 96.88 729.37 96.94 728.48 C97.00 727.59 97.39 726.67 97.56 725.90 C97.74 725.13 97.90 724.51 98.00 723.85 C98.10 723.19 98.13 722.60 98.18 721.94 C98.24 721.28 98.24 720.61 98.33 719.88 C98.42 719.15 98.45 718.29 98.72 717.56 C98.99 716.83 99.40 716.00 99.96 715.51 C100.52 715.02 101.37 714.78 102.09 714.62 C102.81 714.45 103.58 714.61 104.28 714.51 C104.97 714.42 105.57 714.20 106.26 714.05 C106.94 713.90 107.72 713.54 108.39 713.62 C109.06 713.70 109.77 714.06 110.29 714.52 C110.80 714.97 111.07 715.81 111.48 716.34 C111.90 716.88 112.21 717.31 112.76 717.72 C113.32 718.12 114.15 718.31 114.78 718.78 C115.42 719.25 116.21 719.84 116.59 720.55 C116.97 721.26 117.12 722.21 117.06 723.03 C117.01 723.86 116.67 724.77 116.25 725.50 C115.82 726.24 115.17 726.92 114.54 727.43 Z" fill="#aaa8a4" opacity="0.4" filter="url(#blur1)"/>
<g filter="url(#blur1)"><path d="M113.39 726.22 C112.77 726.72 111.95 727.01 111.33 727.33 C110.70 727.66 110.11 727.79 109.63 728.17 C109.15 728.54 108.88 729.07 108.44 729.57 C107.99 730.06 107.54 730.79 106.98 731.14 C106.41 731.50 105.69 731.64 105.05 731.69 C104.40 731.74 103.79 731.47 103.10 731.44 C102.42 731.41 101.73 731.52 100.95 731.52 C100.17 731.51 99.14 731.70 98.41 731.43 C97.67 731.16 96.91 730.60 96.56 729.90 C96.20 729.20 96.25 728.10 96.31 727.23 C96.36 726.37 96.74 725.48 96.91 724.73 C97.08 723.98 97.24 723.38 97.34 722.74 C97.44 722.10 97.46 721.52 97.51 720.88 C97.57 720.24 97.57 719.59 97.66 718.88 C97.75 718.18 97.77 717.34 98.03 716.63 C98.30 715.92 98.69 715.12 99.24 714.64 C99.78 714.17 100.61 713.94 101.31 713.78 C102.01 713.62 102.75 713.77 103.43 713.68 C104.10 713.58 104.68 713.37 105.35 713.23 C106.02 713.08 106.77 712.73 107.42 712.81 C108.08 712.88 108.77 713.24 109.27 713.68 C109.77 714.12 110.03 714.93 110.43 715.45 C110.83 715.97 111.14 716.39 111.67 716.79 C112.20 717.18 113.01 717.36 113.63 717.82 C114.25 718.28 115.01 718.85 115.38 719.54 C115.75 720.23 115.90 721.14 115.85 721.94 C115.79 722.75 115.46 723.63 115.05 724.34 C114.64 725.06 114.01 725.72 113.39 726.22 Z" fill="#ab5c57"/></g>
<g clip-path="url(#tc10)"><g filter="url(#blur2)">
<ellipse cx="108.68" cy="721.43" rx="3.69" ry="2.40" fill="#853838" opacity="0.62"/>
<ellipse cx="105.06" cy="720.44" rx="3.19" ry="2.06" fill="#853838" opacity="0.62"/>
<ellipse cx="104.50" cy="720.05" rx="2.30" ry="3.49" fill="#c68e86" opacity="0.55"/>
<ellipse cx="107.36" cy="719.02" rx="3.35" ry="2.94" fill="#c68e86" opacity="0.55"/>
<path d="M113.39 726.22 C112.77 726.72 111.95 727.01 111.33 727.33 C110.70 727.66 110.11 727.79 109.63 728.17 C109.15 728.54 108.88 729.07 108.44 729.57 C107.99 730.06 107.54 730.79 106.98 731.14 C106.41 731.50 105.69 731.64 105.05 731.69 C104.40 731.74 103.79 731.47 103.10 731.44 C102.42 731.41 101.73 731.52 100.95 731.52 C100.17 731.51 99.14 731.70 98.41 731.43 C97.67 731.16 96.91 730.60 96.56 729.90 C96.20 729.20 96.25 728.10 96.31 727.23 C96.36 726.37 96.74 725.48 96.91 724.73 C97.08 723.98 97.24 723.38 97.34 722.74 C97.44 722.10 97.46 721.52 97.51 720.88 C97.57 720.24 97.57 719.59 97.66 718.88 C97.75 718.18 97.77 717.34 98.03 716.63 C98.30 715.92 98.69 715.12 99.24 714.64 C99.78 714.17 100.61 713.94 101.31 713.78 C102.01 713.62 102.75 713.77 103.43 713.68 C104.10 713.58 104.68 713.37 105.35 713.23 C106.02 713.08 106.77 712.73 107.42 712.81 C108.08 712.88 108.77 713.24 109.27 713.68 C109.77 714.12 110.03 714.93 110.43 715.45 C110.83 715.97 111.14 716.39 111.67 716.79 C112.20 717.18 113.01 717.36 113.63 717.82 C114.25 718.28 115.01 718.85 115.38 719.54 C115.75 720.23 115.90 721.14 115.85 721.94 C115.79 722.75 115.46 723.63 115.05 724.34 C114.64 725.06 114.01 725.72 113.39 726.22 Z" fill="none" stroke="#853838" stroke-width="3.11" opacity="0.35"/>
</g>
<g filter="url(#blur3)"><circle cx="104.13" cy="723.78" r="0.95" fill="#c68e86" opacity="0.41"/>
<circle cx="105.30" cy="729.98" r="1.40" fill="#c68e86" opacity="0.44"/>
<circle cx="111.02" cy="729.76" r="0.87" fill="#c68e86" opacity="0.42"/>
<circle cx="101.32" cy="721.65" r="1.15" fill="#c68e86" opacity="0.40"/>
<circle cx="100.43" cy="716.87" r="1.56" fill="#c68e86" opacity="0.57"/>
<circle cx="98.14" cy="718.83" r="1.12" fill="#853838" opacity="0.36"/>
<circle cx="105.02" cy="721.65" r="1.16" fill="#c68e86" opacity="0.45"/>
<circle cx="98.72" cy="729.20" r="1.48" fill="#853838" opacity="0.40"/>
<circle cx="99.37" cy="729.95" r="0.85" fill="#853838" opacity="0.59"/>
<circle cx="111.30" cy="716.42" r="0.82" fill="#c68e86" opacity="0.34"/>
<circle cx="100.20" cy="728.17" r="1.20" fill="#c68e86" opacity="0.51"/>
<circle cx="102.27" cy="715.66" r="0.91" fill="#853838" opacity="0.48"/>
<circle cx="99.12" cy="715.41" r="0.71" fill="#853838" opacity="0.32"/>
<circle cx="100.02" cy="716.57" r="1.46" fill="#853838" opacity="0.50"/>
</g></g>
<clipPath id="tc11"><path d="M152.30 719.88 C152.39 720.52 152.62 721.16 152.62 721.78 C152.62 722.39 152.51 723.05 152.31 723.57 C152.11 724.08 151.69 724.45 151.44 724.88 C151.18 725.31 150.96 725.67 150.78 726.17 C150.59 726.68 150.54 727.37 150.32 727.93 C150.11 728.49 149.84 729.14 149.48 729.55 C149.12 729.95 148.64 730.22 148.17 730.36 C147.70 730.51 147.16 730.52 146.66 730.41 C146.16 730.29 145.63 730.02 145.18 729.66 C144.74 729.29 144.35 728.68 143.98 728.21 C143.60 727.73 143.33 727.21 142.94 726.80 C142.54 726.39 142.06 726.15 141.62 725.73 C141.17 725.30 140.57 724.84 140.27 724.23 C139.97 723.62 139.81 722.79 139.80 722.08 C139.78 721.38 140.06 720.65 140.18 720.00 C140.30 719.34 140.43 718.78 140.53 718.16 C140.63 717.54 140.60 716.84 140.77 716.28 C140.94 715.73 141.22 715.16 141.56 714.81 C141.91 714.47 142.44 714.36 142.85 714.20 C143.27 714.04 143.69 714.01 144.07 713.86 C144.45 713.70 144.77 713.46 145.15 713.26 C145.53 713.05 145.92 712.81 146.36 712.63 C146.80 712.44 147.28 712.25 147.81 712.16 C148.34 712.08 148.98 711.93 149.54 712.10 C150.10 712.27 150.76 712.60 151.17 713.16 C151.59 713.72 151.85 714.67 152.01 715.46 C152.17 716.25 152.06 717.16 152.11 717.90 C152.16 718.64 152.22 719.23 152.30 719.88 Z"/></clipPath>
<path d="M153.38 720.95 C153.46 721.61 153.70 722.27 153.71 722.90 C153.71 723.54 153.59 724.21 153.38 724.75 C153.18 725.28 152.75 725.65 152.49 726.10 C152.22 726.55 152.00 726.91 151.81 727.43 C151.62 727.96 151.56 728.66 151.34 729.24 C151.12 729.82 150.84 730.49 150.47 730.91 C150.10 731.33 149.60 731.60 149.12 731.75 C148.63 731.89 148.08 731.91 147.57 731.79 C147.05 731.67 146.51 731.40 146.04 731.02 C145.58 730.64 145.19 730.02 144.80 729.53 C144.41 729.04 144.13 728.50 143.73 728.08 C143.32 727.65 142.83 727.41 142.37 726.97 C141.91 726.53 141.30 726.06 140.98 725.43 C140.67 724.81 140.51 723.94 140.50 723.22 C140.48 722.49 140.76 721.74 140.89 721.07 C141.02 720.40 141.15 719.82 141.25 719.18 C141.35 718.54 141.32 717.82 141.50 717.25 C141.68 716.67 141.96 716.09 142.31 715.73 C142.67 715.37 143.21 715.26 143.64 715.10 C144.07 714.93 144.50 714.91 144.90 714.75 C145.29 714.59 145.62 714.34 146.01 714.13 C146.40 713.92 146.80 713.66 147.26 713.48 C147.71 713.29 148.21 713.09 148.75 713.00 C149.30 712.91 149.95 712.76 150.53 712.94 C151.11 713.11 151.79 713.46 152.21 714.03 C152.64 714.61 152.91 715.58 153.08 716.39 C153.24 717.21 153.13 718.15 153.18 718.91 C153.23 719.67 153.29 720.28 153.38 720.95 Z" fill="#aaa8a4" opacity="0.4" filter="url(#blur1)"/>
<g filter="url(#blur1)"><path d="M152.30 719.88 C152.39 720.52 152.62 721.16 152.62 721.78 C152.62 722.39 152.51 723.05 152.31 723.57 C152.11 724.08 151.69 724.45 151.44 724.88 C151.18 725.31 150.96 725.67 150.78 726.17 C150.59 726.68 150.54 727.37 150.32 727.93 C150.11 728.49 149.84 729.14 149.48 729.55 C149.12 729.95 148.64 730.22 148.17 730.36 C147.70 730.51 147.16 730.52 146.66 730.41 C146.16 730.29 145.63 730.02 145.18 729.66 C144.74 729.29 144.35 728.68 143.98 728.21 C143.60 727.73 143.33 727.21 142.94 726.80 C142.54 726.39 142.06 726.15 141.62 725.73 C141.17 725.30 140.57 724.84 140.27 724.23 C139.97 723.62 139.81 722.79 139.80 722.08 C139.78 721.38 140.06 720.65 140.18 720.00 C140.30 719.34 140.43 718.78 140.53 718.16 C140.63 717.54 140.60 716.84 140.77 716.28 C140.94 715.73 141.22 715.16 141.56 714.81 C141.91 714.47 142.44 714.36 142.85 714.20 C143.27 714.04 143.69 714.01 144.07 713.86 C144.45 713.70 144.77 713.46 145.15 713.26 C145.53 713.05 145.92 712.81 146.36 712.63 C146.80 712.44 147.28 712.25 147.81 712.16 C148.34 712.08 148.98 711.93 149.54 712.10 C150.10 712.27 150.76 712.60 151.17 713.16 C151.59 713.72 151.85 714.67 152.01 715.46 C152.17 716.25 152.06 717.16 152.11 717.90 C152.16 718.64 152.22 719.23 152.30 719.88 Z" fill="#a04651"/></g>
<g clip-path="url(#tc11)"><g filter="url(#blur2)">
<ellipse cx="148.33" cy="718.60" rx="2.72" ry="2.66" fill="#571c29" opacity="0.62"/>
<ellipse cx="145.93" cy="721.84" rx="1.76" ry="2.12" fill="#571c29" opacity="0.62"/>
<ellipse cx="146.03" cy="718.22" rx="2.38" ry="2.52" fill="#bd7d7d" opacity="0.55"/>
<ellipse cx="145.88" cy="718.50" rx="1.82" ry="3.05" fill="#bd7d7d" opacity="0.55"/>
<path d="M152.30 719.88 C152.39 720.52 152.62 721.16 152.62 721.78 C152.62 722.39 152.51 723.05 152.31 723.57 C152.11 724.08 151.69 724.45 151.44 724.88 C151.18 725.31 150.96 725.67 150.78 726.17 C150.59 726.68 150.54 727.37 150.32 727.93 C150.11 728.49 149.84 729.14 149.48 729.55 C149.12 729.95 148.64 730.22 148.17 730.36 C147.70 730.51 147.16 730.52 146.66 730.41 C146.16 730.29 145.63 730.02 145.18 729.66 C144.74 729.29 144.35 728.68 143.98 728.21 C143.60 727.73 143.33 727.21 142.94 726.80 C142.54 726.39 142.06 726.15 141.62 725.73 C141.17 725.30 140.57 724.84 140.27 724.23 C139.97 723.62 139.81 722.79 139.80 722.08 C139.78 721.38 140.06 720.65 140.18 720.00 C140.30 719.34 140.43 718.78 140.53 718.16 C140.63 717.54 140.60 716.84 140.77 716.28 C140.94 715.73 141.22 715.16 141.56 714.81 C141.91 714.47 142.44 714.36 142.85 714.20 C143.27 714.04 143.69 714.01 144.07 713.86 C144.45 713.70 144.77 713.46 145.15 713.26 C145.53 713.05 145.92 712.81 146.36 712.63 C146.80 712.44 147.28 712.25 147.81 712.16 C148.34 712.08 148.98 711.93 149.54 712.10 C150.10 712.27 150.76 712.60 151.17 713.16 C151.59 713.72 151.85 714.67 152.01 715.46 C152.17 716.25 152.06 717.16 152.11 717.90 C152.16 718.64 152.22 719.23 152.30 719.88 Z" fill="none" stroke="#571c29" stroke-width="2.17" opacity="0.35"/>
</g>
<g filter="url(#blur3)"><circle cx="150.49" cy="718.77" r="0.98" fill="#bd7d7d" opacity="0.53"/>
<circle cx="143.91" cy="721.88" r="1.48" fill="#571c29" opacity="0.53"/>
<circle cx="142.61" cy="715.19" r="0.89" fill="#571c29" opacity="0.37"/>
<circle cx="150.98" cy="727.17" r="0.72" fill="#571c29" opacity="0.49"/>
<circle cx="150.94" cy="726.43" r="1.37" fill="#bd7d7d" opacity="0.44"/>
<circle cx="146.40" cy="725.98" r="1.31" fill="#571c29" opacity="0.52"/>
<circle cx="143.09" cy="724.75" r="1.57" fill="#571c29" opacity="0.53"/>
<circle cx="146.06" cy="722.10" r="1.03" fill="#bd7d7d" opacity="0.36"/>
<circle cx="148.38" cy="726.64" r="1.39" fill="#571c29" opacity="0.42"/>
</g></g>
<clipPath id="tc12"><path d="M183.77 721.30 C183.72 721.91 183.76 722.49 183.69 723.07 C183.62 723.66 183.52 724.26 183.36 724.81 C183.20 725.36 182.96 725.88 182.73 726.39 C182.49 726.90 182.25 727.44 181.94 727.87 C181.63 728.31 181.27 728.74 180.87 728.99 C180.48 729.24 180.01 729.29 179.58 729.37 C179.15 729.45 178.74 729.41 178.30 729.49 C177.86 729.56 177.41 729.79 176.95 729.80 C176.49 729.82 175.95 729.84 175.54 729.56 C175.13 729.29 174.78 728.68 174.51 728.15 C174.23 727.62 174.12 726.91 173.89 726.37 C173.65 725.83 173.37 725.43 173.09 724.92 C172.80 724.41 172.36 723.92 172.16 723.32 C171.96 722.72 171.84 721.96 171.87 721.30 C171.91 720.64 172.15 719.95 172.36 719.35 C172.56 718.74 172.84 718.20 173.10 717.69 C173.37 717.18 173.64 716.70 173.95 716.30 C174.26 715.89 174.62 715.59 174.96 715.27 C175.30 714.95 175.64 714.70 175.98 714.37 C176.33 714.04 176.65 713.58 177.03 713.29 C177.42 713.00 177.87 712.68 178.30 712.63 C178.73 712.58 179.19 712.81 179.62 712.99 C180.04 713.17 180.40 713.51 180.84 713.71 C181.27 713.92 181.76 713.97 182.22 714.22 C182.68 714.47 183.26 714.73 183.59 715.22 C183.92 715.72 184.13 716.51 184.20 717.21 C184.27 717.91 184.08 718.74 184.01 719.42 C183.94 720.11 183.83 720.69 183.77 721.30 Z"/></clipPath>
<path d="M184.84 722.40 C184.78 723.03 184.83 723.62 184.75 724.23 C184.68 724.83 184.58 725.45 184.41 726.02 C184.25 726.59 184.00 727.11 183.76 727.64 C183.52 728.17 183.27 728.72 182.95 729.17 C182.63 729.62 182.25 730.07 181.85 730.33 C181.44 730.58 180.96 730.63 180.52 730.71 C180.08 730.80 179.65 730.76 179.20 730.83 C178.75 730.91 178.29 731.15 177.81 731.16 C177.34 731.17 176.77 731.20 176.35 730.91 C175.93 730.63 175.58 730.01 175.29 729.46 C175.01 728.91 174.90 728.18 174.65 727.62 C174.41 727.07 174.13 726.65 173.83 726.13 C173.53 725.60 173.09 725.10 172.88 724.48 C172.67 723.86 172.55 723.08 172.58 722.40 C172.62 721.72 172.87 721.01 173.08 720.39 C173.29 719.77 173.57 719.21 173.84 718.68 C174.12 718.16 174.40 717.66 174.72 717.25 C175.04 716.83 175.41 716.52 175.76 716.19 C176.11 715.86 176.46 715.60 176.81 715.26 C177.17 714.92 177.50 714.45 177.89 714.15 C178.29 713.85 178.76 713.52 179.20 713.47 C179.64 713.42 180.12 713.65 180.56 713.84 C180.99 714.02 181.37 714.37 181.81 714.59 C182.26 714.80 182.76 714.85 183.24 715.11 C183.71 715.37 184.31 715.63 184.65 716.14 C184.99 716.65 185.20 717.46 185.28 718.18 C185.35 718.91 185.15 719.76 185.08 720.47 C185.01 721.17 184.89 721.77 184.84 722.40 Z" fill="#aaa8a4" opacity="0.4" filter="url(#blur1)"/>
<g filter="url(#blur1)"><path d="M183.77 721.30 C183.72 721.91 183.76 722.49 183.69 723.07 C183.62 723.66 183.52 724.26 183.36 724.81 C183.20 725.36 182.96 725.88 182.73 726.39 C182.49 726.90 182.25 727.44 181.94 727.87 C181.63 728.31 181.27 728.74 180.87 728.99 C180.48 729.24 180.01 729.29 179.58 729.37 C179.15 729.45 178.74 729.41 178.30 729.49 C177.86 729.56 177.41 729.79 176.95 729.80 C176.49 729.82 175.95 729.84 175.54 729.56 C175.13 729.29 174.78 728.68 174.51 728.15 C174.23 727.62 174.12 726.91 173.89 726.37 C173.65 725.83 173.37 725.43 173.09 724.92 C172.80 724.41 172.36 723.92 172.16 723.32 C171.96 722.72 171.84 721.96 171.87 721.30 C171.91 720.64 172.15 719.95 172.36 719.35 C172.56 718.74 172.84 718.20 173.10 717.69 C173.37 717.18 173.64 716.70 173.95 716.30 C174.26 715.89 174.62 715.59 174.96 715.27 C175.30 714.95 175.64 714.70 175.98 714.37 C176.33 714.04 176.65 713.58 177.03 713.29 C177.42 713.00 177.87 712.68 178.30 712.63 C178.73 712.58 179.19 712.81 179.62 712.99 C180.04 713.17 180.40 713.51 180.84 713.71 C181.27 713.92 181.76 713.97 182.22 714.22 C182.68 714.47 183.26 714.73 183.59 715.22 C183.92 715.72 184.13 716.51 184.20 717.21 C184.27 717.91 184.08 718.74 184.01 719.42 C183.94 720.11 183.83 720.69 183.77 721.30 Z" fill="#b06c6a"/></g>
<g clip-path="url(#tc12)"><g filter="url(#blur2)">
<ellipse cx="178.20" cy="722.57" rx="2.21" ry="2.89" fill="#965252" opacity="0.62"/>
<ellipse cx="180.44" cy="723.23" rx="1.67" ry="2.08" fill="#965252" opacity="0.62"/>
<ellipse cx="177.98" cy="719.63" rx="2.61" ry="2.94" fill="#d1a7a4" opacity="0.55"/>
<ellipse cx="178.03" cy="719.42" rx="1.74" ry="2.72" fill="#d1a7a4" opacity="0.55"/>
<path d="M183.77 721.30 C183.72 721.91 183.76 722.49 183.69 723.07 C183.62 723.66 183.52 724.26 183.36 724.81 C183.20 725.36 182.96 725.88 182.73 726.39 C182.49 726.90 182.25 727.44 181.94 727.87 C181.63 728.31 181.27 728.74 180.87 728.99 C180.48 729.24 180.01 729.29 179.58 729.37 C179.15 729.45 178.74 729.41 178.30 729.49 C177.86 729.56 177.41 729.79 176.95 729.80 C176.49 729.82 175.95 729.84 175.54 729.56 C175.13 729.29 174.78 728.68 174.51 728.15 C174.23 727.62 174.12 726.91 173.89 726.37 C173.65 725.83 173.37 725.43 173.09 724.92 C172.80 724.41 172.36 723.92 172.16 723.32 C171.96 722.72 171.84 721.96 171.87 721.30 C171.91 720.64 172.15 719.95 172.36 719.35 C172.56 718.74 172.84 718.20 173.10 717.69 C173.37 717.18 173.64 716.70 173.95 716.30 C174.26 715.89 174.62 715.59 174.96 715.27 C175.30 714.95 175.64 714.70 175.98 714.37 C176.33 714.04 176.65 713.58 177.03 713.29 C177.42 713.00 177.87 712.68 178.30 712.63 C178.73 712.58 179.19 712.81 179.62 712.99 C180.04 713.17 180.40 713.51 180.84 713.71 C181.27 713.92 181.76 713.97 182.22 714.22 C182.68 714.47 183.26 714.73 183.59 715.22 C183.92 715.72 184.13 716.51 184.20 717.21 C184.27 717.91 184.08 718.74 184.01 719.42 C183.94 720.11 183.83 720.69 183.77 721.30 Z" fill="none" stroke="#965252" stroke-width="2.06" opacity="0.35"/>
</g>
<g filter="url(#blur3)"><circle cx="182.30" cy="716.78" r="1.01" fill="#965252" opacity="0.48"/>
<circle cx="175.98" cy="715.39" r="0.98" fill="#d1a7a4" opacity="0.49"/>
<circle cx="182.15" cy="722.41" r="1.42" fill="#d1a7a4" opacity="0.32"/>
<circle cx="175.90" cy="723.51" r="0.70" fill="#965252" opacity="0.55"/>
<circle cx="179.71" cy="720.41" r="0.85" fill="#d1a7a4" opacity="0.47"/>
<circle cx="174.92" cy="723.53" r="0.89" fill="#d1a7a4" opacity="0.38"/>
<circle cx="179.01" cy="726.41" r="1.05" fill="#965252" opacity="0.48"/>
<circle cx="175.13" cy="715.44" r="1.26" fill="#d1a7a4" opacity="0.47"/>
</g></g>
<clipPath id="tc13"><path d="M217.76 719.01 C217.78 719.63 217.74 720.16 217.78 720.76 C217.82 721.35 217.98 721.97 218.00 722.57 C218.02 723.17 218.04 723.88 217.90 724.36 C217.76 724.84 217.43 725.19 217.15 725.45 C216.86 725.72 216.48 725.77 216.19 725.93 C215.89 726.10 215.65 726.30 215.38 726.46 C215.10 726.61 214.84 726.83 214.55 726.88 C214.26 726.92 213.93 726.82 213.62 726.72 C213.32 726.62 213.02 726.42 212.71 726.27 C212.40 726.13 212.09 726.05 211.76 725.86 C211.44 725.67 211.09 725.46 210.78 725.14 C210.47 724.82 210.18 724.39 209.88 723.95 C209.58 723.51 209.26 723.05 208.96 722.51 C208.67 721.97 208.28 721.37 208.08 720.72 C207.89 720.07 207.76 719.26 207.81 718.63 C207.87 718.00 208.17 717.39 208.41 716.92 C208.66 716.45 209.03 716.17 209.27 715.81 C209.51 715.45 209.67 715.09 209.87 714.75 C210.07 714.41 210.23 714.00 210.47 713.78 C210.70 713.55 211.02 713.47 211.30 713.39 C211.58 713.31 211.87 713.37 212.15 713.30 C212.43 713.23 212.68 713.05 212.98 712.96 C213.28 712.87 213.61 712.71 213.94 712.75 C214.28 712.78 214.64 712.94 214.99 713.15 C215.33 713.36 215.69 713.66 216.03 714.02 C216.37 714.37 216.75 714.77 217.02 715.28 C217.29 715.79 217.53 716.45 217.65 717.08 C217.78 717.70 217.74 718.40 217.76 719.01 Z"/></clipPath>
<path d="M218.79 720.09 C218.81 720.72 218.78 721.27 218.82 721.88 C218.86 722.49 219.02 723.13 219.04 723.75 C219.06 724.37 219.08 725.10 218.94 725.59 C218.79 726.09 218.46 726.45 218.16 726.72 C217.87 726.99 217.48 727.05 217.17 727.22 C216.87 727.39 216.62 727.59 216.34 727.75 C216.06 727.92 215.79 728.14 215.49 728.19 C215.18 728.24 214.85 728.13 214.53 728.03 C214.22 727.92 213.91 727.72 213.59 727.57 C213.27 727.42 212.95 727.34 212.62 727.14 C212.29 726.95 211.93 726.73 211.60 726.40 C211.28 726.07 210.99 725.62 210.67 725.17 C210.36 724.72 210.04 724.25 209.73 723.69 C209.43 723.14 209.03 722.51 208.83 721.85 C208.63 721.18 208.49 720.35 208.55 719.70 C208.60 719.04 208.92 718.42 209.17 717.94 C209.42 717.45 209.80 717.16 210.05 716.79 C210.30 716.42 210.46 716.05 210.66 715.70 C210.87 715.35 211.04 714.93 211.28 714.70 C211.53 714.46 211.85 714.38 212.14 714.30 C212.43 714.22 212.73 714.28 213.02 714.20 C213.31 714.13 213.57 713.95 213.87 713.86 C214.18 713.76 214.52 713.60 214.86 713.63 C215.21 713.67 215.58 713.83 215.94 714.05 C216.29 714.27 216.66 714.58 217.01 714.94 C217.36 715.31 217.76 715.72 218.04 716.25 C218.31 716.77 218.56 717.45 218.68 718.09 C218.81 718.73 218.77 719.46 218.79 720.09 Z" fill="#aaa8a4" opacity="0.4" filter="url(#blur1)"/>
<g filter="url(#blur1)"><path d="M217.76 719.01 C217.78 719.63 217.74 720.16 217.78 720.76 C217.82 721.35 217.98 721.97 218.00 722.57 C218.02 723.17 218.04 723.88 217.90 724.36 C217.76 724.84 217.43 725.19 217.15 725.45 C216.86 725.72 216.48 725.77 216.19 725.93 C215.89 726.10 215.65 726.30 215.38 726.46 C215.10 726.61 214.84 726.83 214.55 726.88 C214.26 726.92 213.93 726.82 213.62 726.72 C213.32 726.62 213.02 726.42 212.71 726.27 C212.40 726.13 212.09 726.05 211.76 725.86 C211.44 725.67 211.09 725.46 210.78 725.14 C210.47 724.82 210.18 724.39 209.88 723.95 C209.58 723.51 209.26 723.05 208.96 722.51 C208.67 721.97 208.28 721.37 208.08 720.72 C207.89 720.07 207.76 719.26 207.81 718.63 C207.87 718.00 208.17 717.39 208.41 716.92 C208.66 716.45 209.03 716.17 209.27 715.81 C209.51 715.45 209.67 715.09 209.87 714.75 C210.07 714.41 210.23 714.00 210.47 713.78 C210.70 713.55 211.02 713.47 211.30 713.39 C211.58 713.31 211.87 713.37 212.15 713.30 C212.43 713.23 212.68 713.05 212.98 712.96 C213.28 712.87 213.61 712.71 213.94 712.75 C214.28 712.78 214.64 712.94 214.99 713.15 C215.33 713.36 215.69 713.66 216.03 714.02 C216.37 714.37 216.75 714.77 217.02 715.28 C217.29 715.79 217.53 716.45 217.65 717.08 C217.78 717.70 217.74 718.40 217.76 719.01 Z" fill="#a34c50"/></g>
<g clip-path="url(#tc13)"><g filter="url(#blur2)">
<ellipse cx="211.44" cy="722.38" rx="1.74" ry="1.59" fill="#752a31" opacity="0.62"/>
<ellipse cx="213.50" cy="717.97" rx="1.88" ry="2.89" fill="#752a31" opacity="0.62"/>
<ellipse cx="212.62" cy="719.32" rx="1.54" ry="2.00" fill="#bc7575" opacity="0.55"/>
<ellipse cx="213.00" cy="718.29" rx="1.51" ry="3.05" fill="#bc7575" opacity="0.55"/>
<path d="M217.76 719.01 C217.78 719.63 217.74 720.16 217.78 720.76 C217.82 721.35 217.98 721.97 218.00 722.57 C218.02 723.17 218.04 723.88 217.90 724.36 C217.76 724.84 217.43 725.19 217.15 725.45 C216.86 725.72 216.48 725.77 216.19 725.93 C215.89 726.10 215.65 726.30 215.38 726.46 C215.10 726.61 214.84 726.83 214.55 726.88 C214.26 726.92 213.93 726.82 213.62 726.72 C213.32 726.62 213.02 726.42 212.71 726.27 C212.40 726.13 212.09 726.05 211.76 725.86 C211.44 725.67 211.09 725.46 210.78 725.14 C210.47 724.82 210.18 724.39 209.88 723.95 C209.58 723.51 209.26 723.05 208.96 722.51 C208.67 721.97 208.28 721.37 208.08 720.72 C207.89 720.07 207.76 719.26 207.81 718.63 C207.87 718.00 208.17 717.39 208.41 716.92 C208.66 716.45 209.03 716.17 209.27 715.81 C209.51 715.45 209.67 715.09 209.87 714.75 C210.07 714.41 210.23 714.00 210.47 713.78 C210.70 713.55 211.02 713.47 211.30 713.39 C211.58 713.31 211.87 713.37 212.15 713.30 C212.43 713.23 212.68 713.05 212.98 712.96 C213.28 712.87 213.61 712.71 213.94 712.75 C214.28 712.78 214.64 712.94 214.99 713.15 C215.33 713.36 215.69 713.66 216.03 714.02 C216.37 714.37 216.75 714.77 217.02 715.28 C217.29 715.79 217.53 716.45 217.65 717.08 C217.78 717.70 217.74 718.40 217.76 719.01 Z" fill="none" stroke="#752a31" stroke-width="1.54" opacity="0.35"/>
</g>
<g filter="url(#blur3)"><circle cx="214.92" cy="714.04" r="1.57" fill="#752a31" opacity="0.53"/>
<circle cx="214.05" cy="721.63" r="0.85" fill="#bc7575" opacity="0.42"/>
<circle cx="211.74" cy="715.96" r="0.73" fill="#bc7575" opacity="0.35"/>
<circle cx="214.78" cy="724.72" r="1.47" fill="#752a31" opacity="0.55"/>
<circle cx="210.86" cy="724.98" r="1.12" fill="#752a31" opacity="0.33"/>
</g></g>
<clipPath id="tc14"><path d="M250.07 723.20 C250.10 723.53 250.05 723.87 250.01 724.21 C249.96 724.54 249.89 724.88 249.81 725.23 C249.73 725.59 249.69 726.02 249.51 726.35 C249.34 726.69 249.08 727.07 248.74 727.26 C248.39 727.46 247.88 727.50 247.47 727.51 C247.05 727.52 246.60 727.36 246.22 727.31 C245.85 727.27 245.53 727.25 245.20 727.22 C244.87 727.18 244.53 727.21 244.23 727.11 C243.93 727.01 243.64 726.81 243.40 726.63 C243.16 726.44 243.01 726.17 242.78 725.99 C242.55 725.80 242.31 725.68 242.02 725.52 C241.73 725.37 241.35 725.25 241.05 725.03 C240.75 724.82 240.44 724.55 240.22 724.24 C240.00 723.94 239.83 723.57 239.73 723.20 C239.63 722.83 239.54 722.40 239.60 722.03 C239.66 721.65 239.82 721.24 240.08 720.94 C240.34 720.64 240.80 720.43 241.16 720.25 C241.53 720.07 241.95 720.00 242.28 719.85 C242.62 719.70 242.87 719.51 243.18 719.36 C243.49 719.22 243.81 719.01 244.15 718.97 C244.48 718.93 244.87 719.01 245.20 719.10 C245.53 719.19 245.81 719.40 246.12 719.49 C246.43 719.59 246.72 719.62 247.05 719.69 C247.37 719.75 247.77 719.75 248.09 719.88 C248.41 720.01 248.71 720.22 248.94 720.46 C249.17 720.71 249.30 721.03 249.45 721.32 C249.60 721.62 249.73 721.92 249.84 722.23 C249.94 722.54 250.05 722.87 250.07 723.20 Z"/></clipPath>
<path d="M251.12 724.30 C251.15 724.64 251.10 724.99 251.05 725.34 C251.00 725.68 250.93 726.03 250.85 726.40 C250.76 726.76 250.73 727.20 250.54 727.55 C250.36 727.90 250.09 728.29 249.74 728.49 C249.39 728.69 248.87 728.73 248.43 728.74 C248.00 728.75 247.54 728.59 247.16 728.54 C246.77 728.49 246.44 728.47 246.10 728.44 C245.76 728.40 245.41 728.43 245.10 728.33 C244.79 728.23 244.49 728.02 244.25 727.83 C244.00 727.64 243.84 727.36 243.60 727.17 C243.37 726.98 243.12 726.86 242.83 726.69 C242.53 726.53 242.13 726.41 241.82 726.19 C241.51 725.97 241.20 725.69 240.97 725.37 C240.75 725.06 240.57 724.68 240.47 724.30 C240.36 723.92 240.27 723.48 240.33 723.09 C240.39 722.70 240.56 722.28 240.83 721.97 C241.10 721.67 241.57 721.45 241.94 721.26 C242.32 721.07 242.75 721.00 243.10 720.85 C243.44 720.70 243.70 720.50 244.02 720.35 C244.34 720.20 244.67 719.99 245.02 719.94 C245.36 719.90 245.76 719.99 246.10 720.08 C246.44 720.17 246.73 720.38 247.05 720.48 C247.37 720.58 247.66 720.61 248.00 720.68 C248.34 720.75 248.75 720.75 249.08 720.88 C249.40 721.01 249.72 721.23 249.95 721.48 C250.19 721.73 250.33 722.06 250.48 722.37 C250.63 722.67 250.77 722.98 250.88 723.30 C250.98 723.62 251.09 723.96 251.12 724.30 Z" fill="#aaa8a4" opacity="0.4" filter="url(#blur1)"/>
<g filter="url(#blur1)"><path d="M250.07 723.20 C250.10 723.53 250.05 723.87 250.01 724.21 C249.96 724.54 249.89 724.88 249.81 725.23 C249.73 725.59 249.69 726.02 249.51 726.35 C249.34 726.69 249.08 727.07 248.74 727.26 C248.39 727.46 247.88 727.50 247.47 727.51 C247.05 727.52 246.60 727.36 246.22 727.31 C245.85 727.27 245.53 727.25 245.20 727.22 C244.87 727.18 244.53 727.21 244.23 727.11 C243.93 727.01 243.64 726.81 243.40 726.63 C243.16 726.44 243.01 726.17 242.78 725.99 C242.55 725.80 242.31 725.68 242.02 725.52 C241.73 725.37 241.35 725.25 241.05 725.03 C240.75 724.82 240.44 724.55 240.22 724.24 C240.00 723.94 239.83 723.57 239.73 723.20 C239.63 722.83 239.54 722.40 239.60 722.03 C239.66 721.65 239.82 721.24 240.08 720.94 C240.34 720.64 240.80 720.43 241.16 720.25 C241.53 720.07 241.95 720.00 242.28 719.85 C242.62 719.70 242.87 719.51 243.18 719.36 C243.49 719.22 243.81 719.01 244.15 718.97 C244.48 718.93 244.87 719.01 245.20 719.10 C245.53 719.19 245.81 719.40 246.12 719.49 C246.43 719.59 246.72 719.62 247.05 719.69 C247.37 719.75 247.77 719.75 248.09 719.88 C248.41 720.01 248.71 720.22 248.94 720.46 C249.17 720.71 249.30 721.03 249.45 721.32 C249.60 721.62 249.73 721.92 249.84 722.23 C249.94 722.54 250.05 722.87 250.07 723.20 Z" fill="#aa4c4c"/></g>
<g clip-path="url(#tc14)"><g filter="url(#blur2)">
<ellipse cx="244.08" cy="721.61" rx="1.84" ry="1.09" fill="#853232" opacity="0.62"/>
<ellipse cx="245.74" cy="721.83" rx="2.14" ry="1.47" fill="#853232" opacity="0.62"/>
<ellipse cx="244.44" cy="721.40" rx="2.00" ry="1.67" fill="#bc756f" opacity="0.55"/>
<ellipse cx="244.57" cy="721.52" rx="2.14" ry="1.67" fill="#bc756f" opacity="0.55"/>
<path d="M250.07 723.20 C250.10 723.53 250.05 723.87 250.01 724.21 C249.96 724.54 249.89 724.88 249.81 725.23 C249.73 725.59 249.69 726.02 249.51 726.35 C249.34 726.69 249.08 727.07 248.74 727.26 C248.39 727.46 247.88 727.50 247.47 727.51 C247.05 727.52 246.60 727.36 246.22 727.31 C245.85 727.27 245.53 727.25 245.20 727.22 C244.87 727.18 244.53 727.21 244.23 727.11 C243.93 727.01 243.64 726.81 243.40 726.63 C243.16 726.44 243.01 726.17 242.78 725.99 C242.55 725.80 242.31 725.68 242.02 725.52 C241.73 725.37 241.35 725.25 241.05 725.03 C240.75 724.82 240.44 724.55 240.22 724.24 C240.00 723.94 239.83 723.57 239.73 723.20 C239.63 722.83 239.54 722.40 239.60 722.03 C239.66 721.65 239.82 721.24 240.08 720.94 C240.34 720.64 240.80 720.43 241.16 720.25 C241.53 720.07 241.95 720.00 242.28 719.85 C242.62 719.70 242.87 719.51 243.18 719.36 C243.49 719.22 243.81 719.01 244.15 718.97 C244.48 718.93 244.87 719.01 245.20 719.10 C245.53 719.19 245.81 719.40 246.12 719.49 C246.43 719.59 246.72 719.62 247.05 719.69 C247.37 719.75 247.77 719.75 248.09 719.88 C248.41 720.01 248.71 720.22 248.94 720.46 C249.17 720.71 249.30 721.03 249.45 721.32 C249.60 721.62 249.73 721.92 249.84 722.23 C249.94 722.54 250.05 722.87 250.07 723.20 Z" fill="none" stroke="#853232" stroke-width="1.54" opacity="0.35"/>
</g>
<g filter="url(#blur3)"><circle cx="244.91" cy="720.46" r="1.57" fill="#bc756f" opacity="0.39"/>
<circle cx="244.20" cy="725.80" r="1.53" fill="#bc756f" opacity="0.49"/>
<circle cx="243.13" cy="726.37" r="1.48" fill="#bc756f" opacity="0.40"/>
</g></g>
<clipPath id="tc15"><path d="M110.65 753.90 C110.91 754.45 111.33 755.12 111.44 755.76 C111.56 756.40 111.53 757.17 111.34 757.76 C111.15 758.35 110.70 758.88 110.30 759.31 C109.89 759.74 109.39 760.08 108.90 760.32 C108.42 760.57 107.89 760.74 107.39 760.79 C106.88 760.84 106.35 760.69 105.89 760.60 C105.42 760.52 105.02 760.32 104.60 760.31 C104.18 760.29 103.79 760.44 103.34 760.49 C102.88 760.54 102.34 760.72 101.88 760.62 C101.42 760.52 100.95 760.24 100.57 759.91 C100.19 759.59 99.91 759.09 99.59 758.65 C99.28 758.22 98.93 757.79 98.67 757.30 C98.40 756.81 98.07 756.26 98.00 755.69 C97.92 755.13 98.03 754.45 98.20 753.90 C98.37 753.35 98.78 752.86 99.01 752.38 C99.25 751.90 99.45 751.52 99.61 751.04 C99.77 750.56 99.80 750.02 99.97 749.51 C100.14 749.00 100.35 748.45 100.63 747.97 C100.91 747.49 101.26 747.04 101.66 746.63 C102.05 746.22 102.50 745.75 102.99 745.50 C103.48 745.25 104.08 745.04 104.60 745.13 C105.12 745.22 105.68 745.64 106.11 746.04 C106.53 746.45 106.84 747.11 107.17 747.56 C107.49 748.01 107.76 748.38 108.05 748.75 C108.34 749.12 108.68 749.41 108.92 749.80 C109.16 750.19 109.31 750.66 109.47 751.11 C109.63 751.55 109.68 752.00 109.87 752.47 C110.07 752.93 110.39 753.35 110.65 753.90 Z"/></clipPath>
<path d="M111.73 755.00 C112.00 755.57 112.43 756.25 112.55 756.92 C112.67 757.58 112.64 758.37 112.44 758.98 C112.24 759.59 111.79 760.13 111.37 760.57 C110.95 761.01 110.43 761.36 109.93 761.62 C109.43 761.87 108.89 762.05 108.37 762.10 C107.85 762.15 107.30 761.99 106.82 761.91 C106.35 761.82 105.94 761.62 105.50 761.60 C105.06 761.58 104.67 761.73 104.20 761.79 C103.73 761.84 103.17 762.02 102.70 761.92 C102.23 761.82 101.74 761.53 101.35 761.19 C100.96 760.86 100.67 760.34 100.34 759.89 C100.02 759.45 99.66 759.01 99.39 758.50 C99.11 758.00 98.78 757.43 98.70 756.85 C98.62 756.26 98.73 755.57 98.91 755.00 C99.08 754.43 99.50 753.93 99.74 753.44 C99.98 752.94 100.19 752.54 100.36 752.05 C100.52 751.56 100.56 751.00 100.73 750.47 C100.91 749.95 101.12 749.39 101.41 748.89 C101.70 748.40 102.06 747.93 102.47 747.51 C102.88 747.08 103.34 746.60 103.84 746.34 C104.35 746.09 104.96 745.87 105.50 745.97 C106.04 746.06 106.61 746.49 107.05 746.91 C107.49 747.32 107.81 748.00 108.14 748.47 C108.48 748.93 108.75 749.31 109.05 749.70 C109.35 750.08 109.71 750.37 109.95 750.78 C110.19 751.18 110.36 751.66 110.52 752.12 C110.68 752.58 110.73 753.04 110.93 753.52 C111.13 754.00 111.46 754.43 111.73 755.00 Z" fill="#aaa8a4" opacity="0.4" filter="url(#blur1)"/>
<g filter="url(#blur1)"><path d="M110.65 753.90 C110.91 754.45 111.33 755.12 111.44 755.76 C111.56 756.40 111.53 757.17 111.34 757.76 C111.15 758.35 110.70 758.88 110.30 759.31 C109.89 759.74 109.39 760.08 108.90 760.32 C108.42 760.57 107.89 760.74 107.39 760.79 C106.88 760.84 106.35 760.69 105.89 760.60 C105.42 760.52 105.02 760.32 104.60 760.31 C104.18 760.29 103.79 760.44 103.34 760.49 C102.88 760.54 102.34 760.72 101.88 760.62 C101.42 760.52 100.95 760.24 100.57 759.91 C100.19 759.59 99.91 759.09 99.59 758.65 C99.28 758.22 98.93 757.79 98.67 757.30 C98.40 756.81 98.07 756.26 98.00 755.69 C97.92 755.13 98.03 754.45 98.20 753.90 C98.37 753.35 98.78 752.86 99.01 752.38 C99.25 751.90 99.45 751.52 99.61 751.04 C99.77 750.56 99.80 750.02 99.97 749.51 C100.14 749.00 100.35 748.45 100.63 747.97 C100.91 747.49 101.26 747.04 101.66 746.63 C102.05 746.22 102.50 745.75 102.99 745.50 C103.48 745.25 104.08 745.04 104.60 745.13 C105.12 745.22 105.68 745.64 106.11 746.04 C106.53 746.45 106.84 747.11 107.17 747.56 C107.49 748.01 107.76 748.38 108.05 748.75 C108.34 749.12 108.68 749.41 108.92 749.80 C109.16 750.19 109.31 750.66 109.47 751.11 C109.63 751.55 109.68 752.00 109.87 752.47 C110.07 752.93 110.39 753.35 110.65 753.90 Z" fill="#af544d"/></g>
<g clip-path="url(#tc15)"><g filter="url(#blur2)">
<ellipse cx="106.84" cy="751.85" rx="1.72" ry="1.67" fill="#853232" opacity="0.62"/>
<ellipse cx="106.04" cy="756.32" rx="2.82" ry="2.52" fill="#853232" opacity="0.62"/>
<ellipse cx="105.02" cy="753.88" rx="2.18" ry="2.32" fill="#c48478" opacity="0.55"/>
<ellipse cx="102.98" cy="750.73" rx="2.67" ry="2.70" fill="#c48478" opacity="0.55"/>
<path d="M110.65 753.90 C110.91 754.45 111.33 755.12 111.44 755.76 C111.56 756.40 111.53 757.17 111.34 757.76 C111.15 758.35 110.70 758.88 110.30 759.31 C109.89 759.74 109.39 760.08 108.90 760.32 C108.42 760.57 107.89 760.74 107.39 760.79 C106.88 760.84 106.35 760.69 105.89 760.60 C105.42 760.52 105.02 760.32 104.60 760.31 C104.18 760.29 103.79 760.44 103.34 760.49 C102.88 760.54 102.34 760.72 101.88 760.62 C101.42 760.52 100.95 760.24 100.57 759.91 C100.19 759.59 99.91 759.09 99.59 758.65 C99.28 758.22 98.93 757.79 98.67 757.30 C98.40 756.81 98.07 756.26 98.00 755.69 C97.92 755.13 98.03 754.45 98.20 753.90 C98.37 753.35 98.78 752.86 99.01 752.38 C99.25 751.90 99.45 751.52 99.61 751.04 C99.77 750.56 99.80 750.02 99.97 749.51 C100.14 749.00 100.35 748.45 100.63 747.97 C100.91 747.49 101.26 747.04 101.66 746.63 C102.05 746.22 102.50 745.75 102.99 745.50 C103.48 745.25 104.08 745.04 104.60 745.13 C105.12 745.22 105.68 745.64 106.11 746.04 C106.53 746.45 106.84 747.11 107.17 747.56 C107.49 748.01 107.76 748.38 108.05 748.75 C108.34 749.12 108.68 749.41 108.92 749.80 C109.16 750.19 109.31 750.66 109.47 751.11 C109.63 751.55 109.68 752.00 109.87 752.47 C110.07 752.93 110.39 753.35 110.65 753.90 Z" fill="none" stroke="#853232" stroke-width="2.20" opacity="0.35"/>
</g>
<g filter="url(#blur3)"><circle cx="109.29" cy="756.78" r="0.85" fill="#c48478" opacity="0.56"/>
<circle cx="104.89" cy="758.31" r="1.41" fill="#c48478" opacity="0.49"/>
<circle cx="107.61" cy="753.04" r="1.17" fill="#c48478" opacity="0.48"/>
<circle cx="109.38" cy="758.57" r="1.24" fill="#c48478" opacity="0.37"/>
<circle cx="108.02" cy="752.83" r="1.48" fill="#853232" opacity="0.44"/>
<circle cx="106.60" cy="750.12" r="1.56" fill="#c48478" opacity="0.48"/>
<circle cx="108.09" cy="754.77" r="1.10" fill="#c48478" opacity="0.39"/>
</g></g>
<clipPath id="tc16"><path d="M151.94 753.20 C151.81 753.75 151.61 754.22 151.46 754.67 C151.31 755.11 151.19 755.50 151.05 755.89 C150.91 756.27 150.77 756.61 150.64 756.98 C150.50 757.35 150.38 757.72 150.23 758.10 C150.08 758.49 149.94 758.97 149.75 759.29 C149.55 759.61 149.31 759.90 149.06 759.99 C148.82 760.09 148.55 759.95 148.30 759.88 C148.05 759.82 147.83 759.66 147.58 759.62 C147.32 759.57 147.05 759.70 146.78 759.61 C146.51 759.53 146.18 759.45 145.97 759.13 C145.76 758.81 145.62 758.21 145.52 757.70 C145.42 757.18 145.45 756.55 145.39 756.05 C145.32 755.54 145.23 755.15 145.12 754.67 C145.01 754.20 144.81 753.73 144.73 753.20 C144.64 752.67 144.58 752.04 144.62 751.49 C144.65 750.95 144.79 750.38 144.93 749.91 C145.08 749.44 145.29 749.01 145.51 748.69 C145.73 748.37 146.00 748.14 146.26 748.00 C146.51 747.86 146.79 747.90 147.03 747.83 C147.26 747.76 147.46 747.73 147.67 747.58 C147.88 747.43 148.07 747.09 148.30 746.92 C148.53 746.76 148.80 746.56 149.04 746.60 C149.28 746.64 149.51 746.93 149.73 747.16 C149.95 747.38 150.13 747.71 150.37 747.94 C150.61 748.17 150.91 748.27 151.18 748.54 C151.45 748.82 151.81 749.12 151.99 749.59 C152.17 750.06 152.27 750.76 152.26 751.36 C152.26 751.97 152.07 752.65 151.94 753.20 Z"/></clipPath>
<path d="M152.95 754.30 C152.81 754.87 152.61 755.35 152.46 755.81 C152.31 756.27 152.17 756.67 152.03 757.07 C151.89 757.46 151.75 757.81 151.61 758.19 C151.47 758.58 151.34 758.95 151.18 759.35 C151.03 759.75 150.89 760.25 150.69 760.57 C150.49 760.90 150.24 761.20 149.99 761.30 C149.74 761.40 149.46 761.25 149.20 761.18 C148.94 761.12 148.72 760.95 148.46 760.91 C148.20 760.86 147.91 760.99 147.63 760.91 C147.36 760.82 147.02 760.73 146.80 760.40 C146.59 760.07 146.44 759.46 146.34 758.93 C146.24 758.40 146.27 757.75 146.20 757.23 C146.13 756.71 146.04 756.30 145.93 755.82 C145.81 755.33 145.60 754.85 145.52 754.30 C145.43 753.75 145.37 753.11 145.41 752.54 C145.44 751.98 145.58 751.39 145.73 750.91 C145.89 750.43 146.10 749.98 146.33 749.66 C146.56 749.33 146.84 749.09 147.10 748.94 C147.35 748.80 147.64 748.84 147.89 748.77 C148.13 748.69 148.33 748.67 148.55 748.51 C148.77 748.36 148.96 748.00 149.20 747.84 C149.44 747.67 149.72 747.46 149.96 747.50 C150.21 747.54 150.45 747.84 150.68 748.07 C150.90 748.30 151.08 748.65 151.33 748.89 C151.58 749.12 151.88 749.22 152.16 749.50 C152.44 749.79 152.82 750.10 153.00 750.58 C153.19 751.07 153.29 751.79 153.28 752.41 C153.27 753.03 153.09 753.73 152.95 754.30 Z" fill="#aaa8a4" opacity="0.4" filter="url(#blur1)"/>
<g filter="url(#blur1)"><path d="M151.94 753.20 C151.81 753.75 151.61 754.22 151.46 754.67 C151.31 755.11 151.19 755.50 151.05 755.89 C150.91 756.27 150.77 756.61 150.64 756.98 C150.50 757.35 150.38 757.72 150.23 758.10 C150.08 758.49 149.94 758.97 149.75 759.29 C149.55 759.61 149.31 759.90 149.06 759.99 C148.82 760.09 148.55 759.95 148.30 759.88 C148.05 759.82 147.83 759.66 147.58 759.62 C147.32 759.57 147.05 759.70 146.78 759.61 C146.51 759.53 146.18 759.45 145.97 759.13 C145.76 758.81 145.62 758.21 145.52 757.70 C145.42 757.18 145.45 756.55 145.39 756.05 C145.32 755.54 145.23 755.15 145.12 754.67 C145.01 754.20 144.81 753.73 144.73 753.20 C144.64 752.67 144.58 752.04 144.62 751.49 C144.65 750.95 144.79 750.38 144.93 749.91 C145.08 749.44 145.29 749.01 145.51 748.69 C145.73 748.37 146.00 748.14 146.26 748.00 C146.51 747.86 146.79 747.90 147.03 747.83 C147.26 747.76 147.46 747.73 147.67 747.58 C147.88 747.43 148.07 747.09 148.30 746.92 C148.53 746.76 148.80 746.56 149.04 746.60 C149.28 746.64 149.51 746.93 149.73 747.16 C149.95 747.38 150.13 747.71 150.37 747.94 C150.61 748.17 150.91 748.27 151.18 748.54 C151.45 748.82 151.81 749.12 151.99 749.59 C152.17 750.06 152.27 750.76 152.26 751.36 C152.26 751.97 152.07 752.65 151.94 753.20 Z" fill="#aa4c4c"/></g>
<g clip-path="url(#tc16)"><g filter="url(#blur2)">
<ellipse cx="149.28" cy="753.82" rx="1.34" ry="1.39" fill="#853232" opacity="0.62"/>
<ellipse cx="148.75" cy="754.68" rx="1.18" ry="2.05" fill="#853232" opacity="0.62"/>
<ellipse cx="147.65" cy="751.92" rx="1.25" ry="2.57" fill="#bc756f" opacity="0.55"/>
<ellipse cx="148.38" cy="752.12" rx="1.06" ry="2.43" fill="#bc756f" opacity="0.55"/>
<path d="M151.94 753.20 C151.81 753.75 151.61 754.22 151.46 754.67 C151.31 755.11 151.19 755.50 151.05 755.89 C150.91 756.27 150.77 756.61 150.64 756.98 C150.50 757.35 150.38 757.72 150.23 758.10 C150.08 758.49 149.94 758.97 149.75 759.29 C149.55 759.61 149.31 759.90 149.06 759.99 C148.82 760.09 148.55 759.95 148.30 759.88 C148.05 759.82 147.83 759.66 147.58 759.62 C147.32 759.57 147.05 759.70 146.78 759.61 C146.51 759.53 146.18 759.45 145.97 759.13 C145.76 758.81 145.62 758.21 145.52 757.70 C145.42 757.18 145.45 756.55 145.39 756.05 C145.32 755.54 145.23 755.15 145.12 754.67 C145.01 754.20 144.81 753.73 144.73 753.20 C144.64 752.67 144.58 752.04 144.62 751.49 C144.65 750.95 144.79 750.38 144.93 749.91 C145.08 749.44 145.29 749.01 145.51 748.69 C145.73 748.37 146.00 748.14 146.26 748.00 C146.51 747.86 146.79 747.90 147.03 747.83 C147.26 747.76 147.46 747.73 147.67 747.58 C147.88 747.43 148.07 747.09 148.30 746.92 C148.53 746.76 148.80 746.56 149.04 746.60 C149.28 746.64 149.51 746.93 149.73 747.16 C149.95 747.38 150.13 747.71 150.37 747.94 C150.61 748.17 150.91 748.27 151.18 748.54 C151.45 748.82 151.81 749.12 151.99 749.59 C152.17 750.06 152.27 750.76 152.26 751.36 C152.26 751.97 152.07 752.65 151.94 753.20 Z" fill="none" stroke="#853232" stroke-width="1.19" opacity="0.35"/>
</g>
<g filter="url(#blur3)"><circle cx="147.33" cy="748.31" r="1.17" fill="#bc756f" opacity="0.55"/>
<circle cx="147.97" cy="755.23" r="1.14" fill="#853232" opacity="0.32"/>
<circle cx="148.10" cy="749.97" r="0.94" fill="#853232" opacity="0.51"/>
</g></g>
<clipPath id="tc17"><path d="M181.75 751.80 C181.85 752.08 182.03 752.40 182.04 752.70 C182.06 753.00 181.96 753.32 181.84 753.59 C181.73 753.86 181.51 754.08 181.33 754.32 C181.15 754.56 180.98 754.79 180.77 755.01 C180.56 755.22 180.34 755.44 180.09 755.59 C179.84 755.73 179.54 755.82 179.26 755.87 C178.98 755.92 178.68 755.93 178.40 755.91 C178.12 755.89 177.82 755.86 177.56 755.76 C177.30 755.66 177.05 755.49 176.83 755.32 C176.61 755.15 176.45 754.91 176.22 754.75 C175.99 754.59 175.74 754.49 175.45 754.34 C175.16 754.19 174.72 754.08 174.46 753.85 C174.21 753.61 173.95 753.25 173.91 752.91 C173.87 752.57 174.05 752.13 174.22 751.80 C174.38 751.47 174.71 751.20 174.90 750.94 C175.10 750.68 175.24 750.46 175.38 750.23 C175.53 750.00 175.62 749.75 175.77 749.54 C175.93 749.33 176.13 749.15 176.32 748.99 C176.52 748.82 176.73 748.69 176.94 748.53 C177.16 748.37 177.36 748.19 177.60 748.04 C177.85 747.89 178.11 747.73 178.40 747.64 C178.69 747.54 179.00 747.50 179.31 747.48 C179.63 747.46 179.99 747.44 180.31 747.51 C180.64 747.59 181.03 747.69 181.27 747.92 C181.51 748.15 181.69 748.55 181.75 748.91 C181.81 749.28 181.67 749.77 181.62 750.13 C181.57 750.48 181.44 750.77 181.47 751.05 C181.49 751.32 181.65 751.52 181.75 751.80 Z"/></clipPath>
<path d="M182.75 752.90 C182.85 753.18 183.04 753.52 183.05 753.82 C183.07 754.13 182.97 754.47 182.85 754.74 C182.73 755.02 182.50 755.25 182.32 755.50 C182.13 755.74 181.95 755.98 181.74 756.20 C181.53 756.42 181.30 756.65 181.04 756.80 C180.78 756.95 180.48 757.04 180.19 757.09 C179.90 757.15 179.59 757.15 179.30 757.13 C179.01 757.11 178.71 757.08 178.44 756.98 C178.17 756.88 177.91 756.70 177.68 756.52 C177.45 756.35 177.29 756.10 177.06 755.94 C176.82 755.77 176.56 755.67 176.26 755.52 C175.96 755.36 175.51 755.25 175.25 755.01 C174.98 754.76 174.71 754.39 174.67 754.04 C174.63 753.69 174.82 753.24 174.99 752.90 C175.16 752.56 175.50 752.28 175.70 752.01 C175.90 751.74 176.04 751.52 176.19 751.28 C176.34 751.04 176.43 750.79 176.60 750.57 C176.76 750.36 176.96 750.18 177.16 750.00 C177.36 749.83 177.58 749.70 177.80 749.54 C178.02 749.37 178.23 749.18 178.48 749.02 C178.73 748.87 179.01 748.71 179.30 748.61 C179.59 748.52 179.91 748.47 180.24 748.45 C180.57 748.43 180.94 748.41 181.27 748.48 C181.61 748.56 182.01 748.66 182.25 748.90 C182.50 749.14 182.69 749.55 182.75 749.93 C182.81 750.31 182.67 750.81 182.62 751.18 C182.57 751.54 182.43 751.84 182.46 752.12 C182.48 752.41 182.65 752.62 182.75 752.90 Z" fill="#aaa8a4" opacity="0.4" filter="url(#blur1)"/>
<g filter="url(#blur1)"><path d="M181.75 751.80 C181.85 752.08 182.03 752.40 182.04 752.70 C182.06 753.00 181.96 753.32 181.84 753.59 C181.73 753.86 181.51 754.08 181.33 754.32 C181.15 754.56 180.98 754.79 180.77 755.01 C180.56 755.22 180.34 755.44 180.09 755.59 C179.84 755.73 179.54 755.82 179.26 755.87 C178.98 755.92 178.68 755.93 178.40 755.91 C178.12 755.89 177.82 755.86 177.56 755.76 C177.30 755.66 177.05 755.49 176.83 755.32 C176.61 755.15 176.45 754.91 176.22 754.75 C175.99 754.59 175.74 754.49 175.45 754.34 C175.16 754.19 174.72 754.08 174.46 753.85 C174.21 753.61 173.95 753.25 173.91 752.91 C173.87 752.57 174.05 752.13 174.22 751.80 C174.38 751.47 174.71 751.20 174.90 750.94 C175.10 750.68 175.24 750.46 175.38 750.23 C175.53 750.00 175.62 749.75 175.77 749.54 C175.93 749.33 176.13 749.15 176.32 748.99 C176.52 748.82 176.73 748.69 176.94 748.53 C177.16 748.37 177.36 748.19 177.60 748.04 C177.85 747.89 178.11 747.73 178.40 747.64 C178.69 747.54 179.00 747.50 179.31 747.48 C179.63 747.46 179.99 747.44 180.31 747.51 C180.64 747.59 181.03 747.69 181.27 747.92 C181.51 748.15 181.69 748.55 181.75 748.91 C181.81 749.28 181.67 749.77 181.62 750.13 C181.57 750.48 181.44 750.77 181.47 751.05 C181.49 751.32 181.65 751.52 181.75 751.80 Z" fill="#bb724d"/></g>
<g clip-path="url(#tc17)"><g filter="url(#blur2)">
<ellipse cx="177.51" cy="750.56" rx="1.25" ry="0.95" fill="#954c34" opacity="0.62"/>
<ellipse cx="178.08" cy="750.39" rx="1.35" ry="1.28" fill="#954c34" opacity="0.62"/>
<ellipse cx="177.93" cy="752.12" rx="0.97" ry="1.62" fill="#cd947a" opacity="0.55"/>
<ellipse cx="178.14" cy="750.39" rx="1.24" ry="1.17" fill="#cd947a" opacity="0.55"/>
<path d="M181.75 751.80 C181.85 752.08 182.03 752.40 182.04 752.70 C182.06 753.00 181.96 753.32 181.84 753.59 C181.73 753.86 181.51 754.08 181.33 754.32 C181.15 754.56 180.98 754.79 180.77 755.01 C180.56 755.22 180.34 755.44 180.09 755.59 C179.84 755.73 179.54 755.82 179.26 755.87 C178.98 755.92 178.68 755.93 178.40 755.91 C178.12 755.89 177.82 755.86 177.56 755.76 C177.30 755.66 177.05 755.49 176.83 755.32 C176.61 755.15 176.45 754.91 176.22 754.75 C175.99 754.59 175.74 754.49 175.45 754.34 C175.16 754.19 174.72 754.08 174.46 753.85 C174.21 753.61 173.95 753.25 173.91 752.91 C173.87 752.57 174.05 752.13 174.22 751.80 C174.38 751.47 174.71 751.20 174.90 750.94 C175.10 750.68 175.24 750.46 175.38 750.23 C175.53 750.00 175.62 749.75 175.77 749.54 C175.93 749.33 176.13 749.15 176.32 748.99 C176.52 748.82 176.73 748.69 176.94 748.53 C177.16 748.37 177.36 748.19 177.60 748.04 C177.85 747.89 178.11 747.73 178.40 747.64 C178.69 747.54 179.00 747.50 179.31 747.48 C179.63 747.46 179.99 747.44 180.31 747.51 C180.64 747.59 181.03 747.69 181.27 747.92 C181.51 748.15 181.69 748.55 181.75 748.91 C181.81 749.28 181.67 749.77 181.62 750.13 C181.57 750.48 181.44 750.77 181.47 751.05 C181.49 751.32 181.65 751.52 181.75 751.80 Z" fill="none" stroke="#954c34" stroke-width="1.33" opacity="0.35"/>
</g>
<g filter="url(#blur3)"><circle cx="175.40" cy="753.13" r="1.23" fill="#cd947a" opacity="0.49"/>
<circle cx="180.87" cy="751.69" r="1.55" fill="#cd947a" opacity="0.57"/>
</g></g>
<clipPath id="tc18"><path d="M216.36 751.80 C216.29 752.00 216.07 752.19 215.95 752.37 C215.83 752.55 215.70 752.69 215.62 752.88 C215.55 753.07 215.56 753.29 215.48 753.50 C215.40 753.70 215.30 753.95 215.12 754.11 C214.94 754.27 214.67 754.39 214.42 754.47 C214.16 754.54 213.86 754.56 213.59 754.56 C213.32 754.56 213.05 754.53 212.80 754.46 C212.55 754.40 212.32 754.28 212.11 754.19 C211.90 754.09 211.74 753.96 211.54 753.87 C211.34 753.79 211.13 753.76 210.91 753.69 C210.68 753.62 210.38 753.57 210.18 753.46 C209.98 753.34 209.80 753.17 209.69 752.99 C209.57 752.81 209.56 752.60 209.48 752.40 C209.40 752.20 209.30 752.02 209.21 751.80 C209.12 751.58 208.95 751.33 208.94 751.10 C208.94 750.87 209.01 750.60 209.19 750.42 C209.36 750.24 209.71 750.11 209.98 750.01 C210.25 749.92 210.58 749.90 210.83 749.84 C211.08 749.78 211.29 749.73 211.51 749.67 C211.72 749.61 211.92 749.54 212.13 749.48 C212.35 749.43 212.57 749.39 212.80 749.34 C213.03 749.30 213.28 749.24 213.54 749.22 C213.80 749.21 214.10 749.19 214.34 749.26 C214.59 749.32 214.82 749.47 215.00 749.61 C215.18 749.76 215.29 749.96 215.44 750.13 C215.59 750.30 215.75 750.44 215.90 750.62 C216.05 750.79 216.27 750.96 216.35 751.16 C216.42 751.35 216.43 751.60 216.36 751.80 Z"/></clipPath>
<path d="M217.37 752.90 C217.30 753.11 217.07 753.30 216.95 753.49 C216.82 753.67 216.69 753.82 216.61 754.01 C216.53 754.21 216.55 754.44 216.46 754.65 C216.37 754.86 216.27 755.11 216.09 755.28 C215.91 755.45 215.63 755.57 215.36 755.65 C215.10 755.72 214.79 755.74 214.52 755.74 C214.24 755.74 213.95 755.71 213.70 755.64 C213.45 755.58 213.21 755.46 212.99 755.36 C212.78 755.26 212.61 755.12 212.41 755.04 C212.20 754.95 211.98 754.91 211.75 754.84 C211.51 754.77 211.21 754.73 211.00 754.61 C210.79 754.49 210.61 754.31 210.49 754.13 C210.37 753.94 210.36 753.72 210.28 753.52 C210.19 753.32 210.09 753.12 210.00 752.90 C209.91 752.68 209.73 752.42 209.73 752.18 C209.72 751.94 209.80 751.66 209.98 751.48 C210.16 751.29 210.51 751.16 210.79 751.06 C211.08 750.96 211.41 750.94 211.67 750.88 C211.93 750.82 212.14 750.76 212.37 750.70 C212.59 750.64 212.79 750.57 213.01 750.51 C213.24 750.46 213.46 750.41 213.70 750.37 C213.94 750.32 214.20 750.26 214.46 750.24 C214.73 750.23 215.04 750.21 215.29 750.28 C215.54 750.35 215.78 750.50 215.96 750.65 C216.15 750.80 216.26 751.01 216.41 751.18 C216.57 751.35 216.73 751.50 216.89 751.68 C217.05 751.86 217.27 752.03 217.35 752.24 C217.43 752.44 217.44 752.69 217.37 752.90 Z" fill="#aaa8a4" opacity="0.4" filter="url(#blur1)"/>
<g filter="url(#blur1)"><path d="M216.36 751.80 C216.29 752.00 216.07 752.19 215.95 752.37 C215.83 752.55 215.70 752.69 215.62 752.88 C215.55 753.07 215.56 753.29 215.48 753.50 C215.40 753.70 215.30 753.95 215.12 754.11 C214.94 754.27 214.67 754.39 214.42 754.47 C214.16 754.54 213.86 754.56 213.59 754.56 C213.32 754.56 213.05 754.53 212.80 754.46 C212.55 754.40 212.32 754.28 212.11 754.19 C211.90 754.09 211.74 753.96 211.54 753.87 C211.34 753.79 211.13 753.76 210.91 753.69 C210.68 753.62 210.38 753.57 210.18 753.46 C209.98 753.34 209.80 753.17 209.69 752.99 C209.57 752.81 209.56 752.60 209.48 752.40 C209.40 752.20 209.30 752.02 209.21 751.80 C209.12 751.58 208.95 751.33 208.94 751.10 C208.94 750.87 209.01 750.60 209.19 750.42 C209.36 750.24 209.71 750.11 209.98 750.01 C210.25 749.92 210.58 749.90 210.83 749.84 C211.08 749.78 211.29 749.73 211.51 749.67 C211.72 749.61 211.92 749.54 212.13 749.48 C212.35 749.43 212.57 749.39 212.80 749.34 C213.03 749.30 213.28 749.24 213.54 749.22 C213.80 749.21 214.10 749.19 214.34 749.26 C214.59 749.32 214.82 749.47 215.00 749.61 C215.18 749.76 215.29 749.96 215.44 750.13 C215.59 750.30 215.75 750.44 215.90 750.62 C216.05 750.79 216.27 750.96 216.35 751.16 C216.42 751.35 216.43 751.60 216.36 751.80 Z" fill="#ba624e"/></g>
<g clip-path="url(#tc18)"><g filter="url(#blur2)">
<ellipse cx="213.45" cy="751.03" rx="0.92" ry="0.74" fill="#954242" opacity="0.62"/>
<ellipse cx="213.62" cy="751.32" rx="1.45" ry="0.87" fill="#954242" opacity="0.62"/>
<ellipse cx="212.73" cy="751.65" rx="1.24" ry="0.82" fill="#c48478" opacity="0.55"/>
<ellipse cx="213.41" cy="751.79" rx="1.20" ry="0.54" fill="#c48478" opacity="0.55"/>
<path d="M216.36 751.80 C216.29 752.00 216.07 752.19 215.95 752.37 C215.83 752.55 215.70 752.69 215.62 752.88 C215.55 753.07 215.56 753.29 215.48 753.50 C215.40 753.70 215.30 753.95 215.12 754.11 C214.94 754.27 214.67 754.39 214.42 754.47 C214.16 754.54 213.86 754.56 213.59 754.56 C213.32 754.56 213.05 754.53 212.80 754.46 C212.55 754.40 212.32 754.28 212.11 754.19 C211.90 754.09 211.74 753.96 211.54 753.87 C211.34 753.79 211.13 753.76 210.91 753.69 C210.68 753.62 210.38 753.57 210.18 753.46 C209.98 753.34 209.80 753.17 209.69 752.99 C209.57 752.81 209.56 752.60 209.48 752.40 C209.40 752.20 209.30 752.02 209.21 751.80 C209.12 751.58 208.95 751.33 208.94 751.10 C208.94 750.87 209.01 750.60 209.19 750.42 C209.36 750.24 209.71 750.11 209.98 750.01 C210.25 749.92 210.58 749.90 210.83 749.84 C211.08 749.78 211.29 749.73 211.51 749.67 C211.72 749.61 211.92 749.54 212.13 749.48 C212.35 749.43 212.57 749.39 212.80 749.34 C213.03 749.30 213.28 749.24 213.54 749.22 C213.80 749.21 214.10 749.19 214.34 749.26 C214.59 749.32 214.82 749.47 215.00 749.61 C215.18 749.76 215.29 749.96 215.44 750.13 C215.59 750.30 215.75 750.44 215.90 750.62 C216.05 750.79 216.27 750.96 216.35 751.16 C216.42 751.35 216.43 751.60 216.36 751.80 Z" fill="none" stroke="#954242" stroke-width="1.00" opacity="0.35"/>
</g>
<g filter="url(#blur3)"><circle cx="211.22" cy="750.21" r="1.56" fill="#c48478" opacity="0.41"/>
</g></g>
<clipPath id="tc19"><path d="M248.19 751.40 C248.10 751.52 247.92 751.60 247.87 751.71 C247.82 751.82 247.85 751.92 247.88 752.06 C247.91 752.20 248.05 752.40 248.03 752.56 C248.01 752.72 247.92 752.92 247.76 753.02 C247.59 753.13 247.29 753.17 247.04 753.20 C246.80 753.22 246.52 753.19 246.28 753.19 C246.04 753.19 245.83 753.20 245.60 753.20 C245.37 753.20 245.14 753.22 244.91 753.20 C244.69 753.18 244.46 753.14 244.25 753.09 C244.03 753.03 243.82 752.96 243.65 752.87 C243.47 752.78 243.30 752.67 243.19 752.55 C243.08 752.44 243.03 752.29 242.97 752.16 C242.92 752.03 242.93 751.90 242.88 751.77 C242.82 751.65 242.71 751.53 242.65 751.40 C242.59 751.27 242.48 751.11 242.52 750.98 C242.56 750.85 242.71 750.71 242.89 750.62 C243.07 750.53 243.40 750.50 243.60 750.44 C243.79 750.38 243.96 750.36 244.09 750.27 C244.23 750.17 244.26 750.02 244.39 749.89 C244.52 749.77 244.67 749.59 244.88 749.49 C245.08 749.40 245.35 749.34 245.60 749.33 C245.85 749.31 246.12 749.35 246.36 749.39 C246.61 749.44 246.85 749.51 247.05 749.59 C247.26 749.68 247.44 749.79 247.59 749.90 C247.74 750.02 247.86 750.14 247.97 750.26 C248.09 750.39 248.21 750.50 248.28 750.62 C248.36 750.75 248.43 750.88 248.42 751.01 C248.40 751.14 248.28 751.28 248.19 751.40 Z"/></clipPath>
<path d="M249.17 752.50 C249.08 752.62 248.89 752.71 248.84 752.82 C248.78 752.93 248.82 753.03 248.85 753.18 C248.88 753.33 249.03 753.53 249.01 753.70 C248.98 753.86 248.89 754.06 248.72 754.17 C248.55 754.28 248.24 754.32 247.99 754.35 C247.73 754.38 247.45 754.34 247.20 754.34 C246.95 754.34 246.73 754.35 246.50 754.36 C246.27 754.36 246.03 754.38 245.79 754.36 C245.56 754.34 245.32 754.29 245.11 754.24 C244.89 754.18 244.67 754.11 244.49 754.01 C244.31 753.92 244.13 753.81 244.02 753.69 C243.90 753.57 243.85 753.42 243.80 753.28 C243.74 753.15 243.75 753.01 243.69 752.88 C243.64 752.75 243.53 752.64 243.46 752.50 C243.40 752.36 243.28 752.20 243.33 752.07 C243.37 751.93 243.53 751.79 243.71 751.69 C243.90 751.60 244.23 751.57 244.44 751.51 C244.64 751.45 244.81 751.43 244.95 751.33 C245.08 751.24 245.12 751.08 245.26 750.95 C245.39 750.82 245.55 750.63 245.75 750.54 C245.96 750.44 246.24 750.38 246.50 750.36 C246.76 750.35 247.04 750.39 247.29 750.43 C247.54 750.48 247.78 750.55 247.99 750.64 C248.20 750.73 248.39 750.84 248.55 750.96 C248.71 751.07 248.82 751.21 248.94 751.33 C249.06 751.45 249.19 751.57 249.26 751.70 C249.34 751.83 249.42 751.97 249.40 752.10 C249.39 752.24 249.27 752.38 249.17 752.50 Z" fill="#aaa8a4" opacity="0.4" filter="url(#blur1)"/>
<g filter="url(#blur1)"><path d="M248.19 751.40 C248.10 751.52 247.92 751.60 247.87 751.71 C247.82 751.82 247.85 751.92 247.88 752.06 C247.91 752.20 248.05 752.40 248.03 752.56 C248.01 752.72 247.92 752.92 247.76 753.02 C247.59 753.13 247.29 753.17 247.04 753.20 C246.80 753.22 246.52 753.19 246.28 753.19 C246.04 753.19 245.83 753.20 245.60 753.20 C245.37 753.20 245.14 753.22 244.91 753.20 C244.69 753.18 244.46 753.14 244.25 753.09 C244.03 753.03 243.82 752.96 243.65 752.87 C243.47 752.78 243.30 752.67 243.19 752.55 C243.08 752.44 243.03 752.29 242.97 752.16 C242.92 752.03 242.93 751.90 242.88 751.77 C242.82 751.65 242.71 751.53 242.65 751.40 C242.59 751.27 242.48 751.11 242.52 750.98 C242.56 750.85 242.71 750.71 242.89 750.62 C243.07 750.53 243.40 750.50 243.60 750.44 C243.79 750.38 243.96 750.36 244.09 750.27 C244.23 750.17 244.26 750.02 244.39 749.89 C244.52 749.77 244.67 749.59 244.88 749.49 C245.08 749.40 245.35 749.34 245.60 749.33 C245.85 749.31 246.12 749.35 246.36 749.39 C246.61 749.44 246.85 749.51 247.05 749.59 C247.26 749.68 247.44 749.79 247.59 749.90 C247.74 750.02 247.86 750.14 247.97 750.26 C248.09 750.39 248.21 750.50 248.28 750.62 C248.36 750.75 248.43 750.88 248.42 751.01 C248.40 751.14 248.28 751.28 248.19 751.40 Z" fill="#ba5c3d"/></g>
<g clip-path="url(#tc19)"><g filter="url(#blur2)">
<ellipse cx="246.75" cy="750.88" rx="1.22" ry="0.55" fill="#953c3a" opacity="0.62"/>
<ellipse cx="246.89" cy="751.49" rx="1.01" ry="0.39" fill="#953c3a" opacity="0.62"/>
<ellipse cx="245.38" cy="751.72" rx="1.34" ry="0.45" fill="#c48478" opacity="0.55"/>
<ellipse cx="246.13" cy="750.84" rx="1.10" ry="0.51" fill="#c48478" opacity="0.55"/>
<path d="M248.19 751.40 C248.10 751.52 247.92 751.60 247.87 751.71 C247.82 751.82 247.85 751.92 247.88 752.06 C247.91 752.20 248.05 752.40 248.03 752.56 C248.01 752.72 247.92 752.92 247.76 753.02 C247.59 753.13 247.29 753.17 247.04 753.20 C246.80 753.22 246.52 753.19 246.28 753.19 C246.04 753.19 245.83 753.20 245.60 753.20 C245.37 753.20 245.14 753.22 244.91 753.20 C244.69 753.18 244.46 753.14 244.25 753.09 C244.03 753.03 243.82 752.96 243.65 752.87 C243.47 752.78 243.30 752.67 243.19 752.55 C243.08 752.44 243.03 752.29 242.97 752.16 C242.92 752.03 242.93 751.90 242.88 751.77 C242.82 751.65 242.71 751.53 242.65 751.40 C242.59 751.27 242.48 751.11 242.52 750.98 C242.56 750.85 242.71 750.71 242.89 750.62 C243.07 750.53 243.40 750.50 243.60 750.44 C243.79 750.38 243.96 750.36 244.09 750.27 C244.23 750.17 244.26 750.02 244.39 749.89 C244.52 749.77 244.67 749.59 244.88 749.49 C245.08 749.40 245.35 749.34 245.60 749.33 C245.85 749.31 246.12 749.35 246.36 749.39 C246.61 749.44 246.85 749.51 247.05 749.59 C247.26 749.68 247.44 749.79 247.59 749.90 C247.74 750.02 247.86 750.14 247.97 750.26 C248.09 750.39 248.21 750.50 248.28 750.62 C248.36 750.75 248.43 750.88 248.42 751.01 C248.40 751.14 248.28 751.28 248.19 751.40 Z" fill="none" stroke="#953c3a" stroke-width="1.00" opacity="0.35"/>
</g>
<g filter="url(#blur3)"></g></g>
<text transform="translate(92.00,598.50) scale(0.9849,1.0000)" text-anchor="start" style="font-family:'Liberation Serif',serif;font-weight:bold;font-style:normal;font-size:8px" fill="#222"  stroke="#222" stroke-width="0.16">1cm</text>
<line x1="92.00" y1="602.40" x2="121.50" y2="602.40" stroke="#222" stroke-width="1.1" />
<line x1="106.50" y1="602.40" x2="106.50" y2="601.00" stroke="#222" stroke-width="0.8" />
<text transform="translate(24.70,614.90) scale(0.9787,1.0000)" text-anchor="start" style="font-family:'Liberation Serif',serif;font-weight:bold;font-style:normal;font-size:12.2px" fill="#222"  stroke="#222" stroke-width="0.244">PBS</text>
<text transform="translate(11.30,668.90) scale(0.9890,1.0000)" text-anchor="start" style="font-family:'Liberation Serif',serif;font-weight:bold;font-style:normal;font-size:12.2px" fill="#222"  stroke="#222" stroke-width="0.244">Apatinib</text>
<text transform="translate(21.40,709.80) scale(0.9422,1.0000)" text-anchor="start" style="font-family:'Liberation Serif',serif;font-weight:bold;font-style:normal;font-size:12.2px" fill="#222"  stroke="#222" stroke-width="0.244">PD-1</text>
<text transform="translate(2.50,748.50) scale(0.9792,1.0000)" text-anchor="start" style="font-family:'Liberation Serif',serif;font-weight:bold;font-style:normal;font-size:12.2px" fill="#222"  stroke="#222" stroke-width="0.244">Apa + PD-1</text>
<text transform="translate(309.60,591.00)" text-anchor="start" style="font-family:'Liberation Serif',serif;font-weight:normal;font-style:normal;font-size:19.6px" fill="#000"  stroke="#000" stroke-width="0.45">H</text>
<text transform="translate(385.70,641.40) scale(0.7153,1.0000)" text-anchor="start" style="font-family:'Liberation Serif',serif;font-weight:bold;font-style:normal;font-size:10.9px" fill="#222"  stroke="#222" stroke-width="0.218">PBS</text>
<text transform="translate(410.70,641.40) scale(0.7114,1.0000)" text-anchor="start" style="font-family:'Liberation Serif',serif;font-weight:bold;font-style:normal;font-size:10.9px" fill="#222"  stroke="#222" stroke-width="0.218">Apa + PD1</text>
<text transform="translate(457.70,641.40) scale(0.6734,1.0000)" text-anchor="start" style="font-family:'Liberation Serif',serif;font-weight:bold;font-style:normal;font-size:10.9px" fill="#222"  stroke="#222" stroke-width="0.218">PD-1</text>
<text transform="translate(487.90,641.40) scale(0.6943,1.0000)" text-anchor="start" style="font-family:'Liberation Serif',serif;font-weight:bold;font-style:normal;font-size:10.9px" fill="#222"  stroke="#222" stroke-width="0.218">Apatinib</text>
<text transform="translate(331.00,666.60) scale(0.7901,1.0000)" text-anchor="start" style="font-family:'Liberation Serif',serif;font-weight:bold;font-style:normal;font-size:9px" fill="#333"  stroke="#333" stroke-width="0.18">90KDa-</text>
<text transform="translate(331.00,685.70) scale(0.7901,1.0000)" text-anchor="start" style="font-family:'Liberation Serif',serif;font-weight:bold;font-style:normal;font-size:9px" fill="#333"  stroke="#333" stroke-width="0.18">65KDa-</text>
<text transform="translate(331.00,708.10) scale(0.7901,1.0000)" text-anchor="start" style="font-family:'Liberation Serif',serif;font-weight:bold;font-style:normal;font-size:9px" fill="#333"  stroke="#333" stroke-width="0.18">55KDa-</text>
<text transform="translate(331.00,739.20) scale(0.7901,1.0000)" text-anchor="start" style="font-family:'Liberation Serif',serif;font-weight:bold;font-style:normal;font-size:9px" fill="#333"  stroke="#333" stroke-width="0.18">40KDa-</text>
<text transform="translate(520.00,663.40) scale(0.8139,1.0000)" text-anchor="start" style="font-family:'Liberation Serif',serif;font-weight:bold;font-style:normal;font-size:9.7px" fill="#222"  stroke="#222" stroke-width="0.194">STAT1</text>
<text transform="translate(520.00,737.80) scale(0.7837,1.0000)" text-anchor="start" style="font-family:'Liberation Serif',serif;font-weight:bold;font-style:normal;font-size:9.7px" fill="#222"  stroke="#222" stroke-width="0.194">ACTIN</text>
<defs>
<filter id="bblur" x="-30%" y="-100%" width="160%" height="300%"><feGaussianBlur stdDeviation="0.9 1.0"/></filter>
<filter id="bblur2" x="-30%" y="-100%" width="160%" height="300%"><feGaussianBlur stdDeviation="1.2 0.8"/></filter>
</defs>
<rect x="363" y="653.1" width="157.6" height="35.1" fill="#f8f8f8"/>
<rect x="363" y="700.7" width="157.6" height="40" fill="#f8f8f8"/>
<rect x="363" y="653.1" width="22" height="35.1" fill="#ebebeb"/>
<rect x="363" y="700.7" width="22" height="40" fill="#efefef"/>
<g filter="url(#bblur)">
<rect x="363.5" y="664.6" width="21" height="2.4" fill="#aaa"/>
<rect x="363.5" y="676.3" width="21" height="5.8" rx="2" fill="#505050"/>
<rect x="363.5" y="705.7" width="21" height="2.6" rx="1" fill="#b0b0b0"/>
<rect x="363.5" y="732.3" width="21" height="3.4" rx="1.2" fill="#a0a0a0"/>
<path d="M391 670.9 Q398 669.9 405 669.6 Q411 669.2 414.8 669.4 L414.8 672.2 Q409 672.4 403 672.1 Q397 671.9 391 671.7 Z" fill="#5e5e5e"/>
<rect x="420.3" y="667.8" width="24.8" height="4.6" rx="2" fill="#000"/>
<path d="M449.6 670.6 Q456 669.8 463 669.4 Q470 668.9 475 669.1 L475 672 Q468 672.2 461 671.9 Q455 671.7 449.6 671.5 Z" fill="#6e6e6e"/>
<rect x="480.8" y="667.0" width="24" height="4.4" rx="2" fill="#000"/>
<rect x="391.2" y="723.2" width="25.4" height="7" rx="3" fill="#050505"/>
<rect x="420.3" y="723.2" width="26.5" height="7" rx="3" fill="#050505"/>
<rect x="451" y="723.2" width="25.5" height="7" rx="3" fill="#050505"/>
<rect x="481.6" y="723.2" width="24.2" height="7" rx="3" fill="#050505"/>
</g>
<text transform="translate(592.60,631.70) scale(0.7463,1.0000)" text-anchor="start" style="font-family:'Liberation Serif',serif;font-weight:bold;font-style:normal;font-size:13.2px" fill="#111"  stroke="#111" stroke-width="0.264">STAT1</text>
<line x1="570.50" y1="639.30" x2="570.50" y2="734.70" stroke="#222" stroke-width="1.2" />
<line x1="570.00" y1="734.10" x2="638.80" y2="734.10" stroke="#222" stroke-width="1.4" />
<line x1="568.30" y1="734.10" x2="570.50" y2="734.10" stroke="#222" stroke-width="1.0" />
<text transform="translate(567.90,735.90) scale(1.0462,1.0000)" text-anchor="end" style="font-family:'Liberation Serif',serif;font-weight:bold;font-style:normal;font-size:5.2px" fill="#333"  stroke="#333" stroke-width="0.104">0.0</text>
<line x1="568.30" y1="702.55" x2="570.50" y2="702.55" stroke="#222" stroke-width="1.0" />
<text transform="translate(567.90,704.35) scale(1.0462,1.0000)" text-anchor="end" style="font-family:'Liberation Serif',serif;font-weight:bold;font-style:normal;font-size:5.2px" fill="#333"  stroke="#333" stroke-width="0.104">0.5</text>
<line x1="568.30" y1="671.00" x2="570.50" y2="671.00" stroke="#222" stroke-width="1.0" />
<text transform="translate(567.90,672.80) scale(1.0462,1.0000)" text-anchor="end" style="font-family:'Liberation Serif',serif;font-weight:bold;font-style:normal;font-size:5.2px" fill="#333"  stroke="#333" stroke-width="0.104">1.0</text>
<line x1="568.30" y1="639.45" x2="570.50" y2="639.45" stroke="#222" stroke-width="1.0" />
<text transform="translate(567.90,641.25) scale(1.0462,1.0000)" text-anchor="end" style="font-family:'Liberation Serif',serif;font-weight:bold;font-style:normal;font-size:5.2px" fill="#333"  stroke="#333" stroke-width="0.104">1.5</text>
<line x1="581.30" y1="734.10" x2="581.30" y2="738.60" stroke="#222" stroke-width="1.0" />
<line x1="597.00" y1="734.10" x2="597.00" y2="738.60" stroke="#222" stroke-width="1.0" />
<line x1="612.40" y1="734.10" x2="612.40" y2="738.60" stroke="#222" stroke-width="1.0" />
<line x1="628.00" y1="734.10" x2="628.00" y2="738.60" stroke="#222" stroke-width="1.0" />
<rect x="576.1" y="722.74" width="10.6" height="11.36" fill="#1f4fa6"/>
<rect x="591.8" y="660.27" width="10.3" height="73.83" fill="#e61e1e"/>
<rect x="606.9" y="717.69" width="10.8" height="16.41" fill="#3cb043"/>
<rect x="622.9" y="655.86" width="10.0" height="78.24" fill="#7b3f9e"/>
<rect x="644.6" y="644.8" width="6.2" height="3.8" fill="#1f4fa6"/>
<text transform="translate(655.60,649.50) scale(0.7270,1.0000)" text-anchor="start" style="font-family:'Liberation Serif',serif;font-weight:bold;font-style:normal;font-size:7.8px" fill="#111"  stroke="#111" stroke-width="0.156">PBS</text>
<rect x="644.6" y="657.7" width="6.2" height="3.8" fill="#e61e1e"/>
<text transform="translate(655.60,662.40) scale(0.7599,1.0000)" text-anchor="start" style="font-family:'Liberation Serif',serif;font-weight:bold;font-style:normal;font-size:7.8px" fill="#111"  stroke="#111" stroke-width="0.156">Apatinib</text>
<rect x="644.6" y="670.0" width="6.2" height="3.8" fill="#3cb043"/>
<text transform="translate(655.60,675.40) scale(0.6807,1.0000)" text-anchor="start" style="font-family:'Liberation Serif',serif;font-weight:bold;font-style:normal;font-size:7.8px" fill="#111"  stroke="#111" stroke-width="0.156">PD-1</text>
<rect x="644.6" y="683.7" width="6.2" height="3.8" fill="#7b3f9e"/>
<text transform="translate(655.60,688.10) scale(0.7562,1.0000)" text-anchor="start" style="font-family:'Liberation Serif',serif;font-weight:bold;font-style:normal;font-size:7.8px" fill="#111"  stroke="#111" stroke-width="0.156">Apa+ PD-1</text>
<text transform="translate(585.2,751.0) scale(0.75,1) rotate(-45)" text-anchor="end" style="font-family:'Liberation Serif',serif;font-weight:bold;font-size:13.2px" fill="#111">PBS</text>
<text transform="translate(600.9,751.0) scale(0.75,1) rotate(-45)" text-anchor="end" style="font-family:'Liberation Serif',serif;font-weight:bold;font-size:13.2px" fill="#111">Apatinib</text>
<text transform="translate(616.3,751.0) scale(0.75,1) rotate(-45)" text-anchor="end" style="font-family:'Liberation Serif',serif;font-weight:bold;font-size:13.2px" fill="#111">PD-1</text>
<text transform="translate(631.9,751.0) scale(0.75,1) rotate(-45)" text-anchor="end" style="font-family:'Liberation Serif',serif;font-weight:bold;font-size:13.2px" fill="#111">Apa+ PD-1</text>

</g>
</svg>
</body></html>
